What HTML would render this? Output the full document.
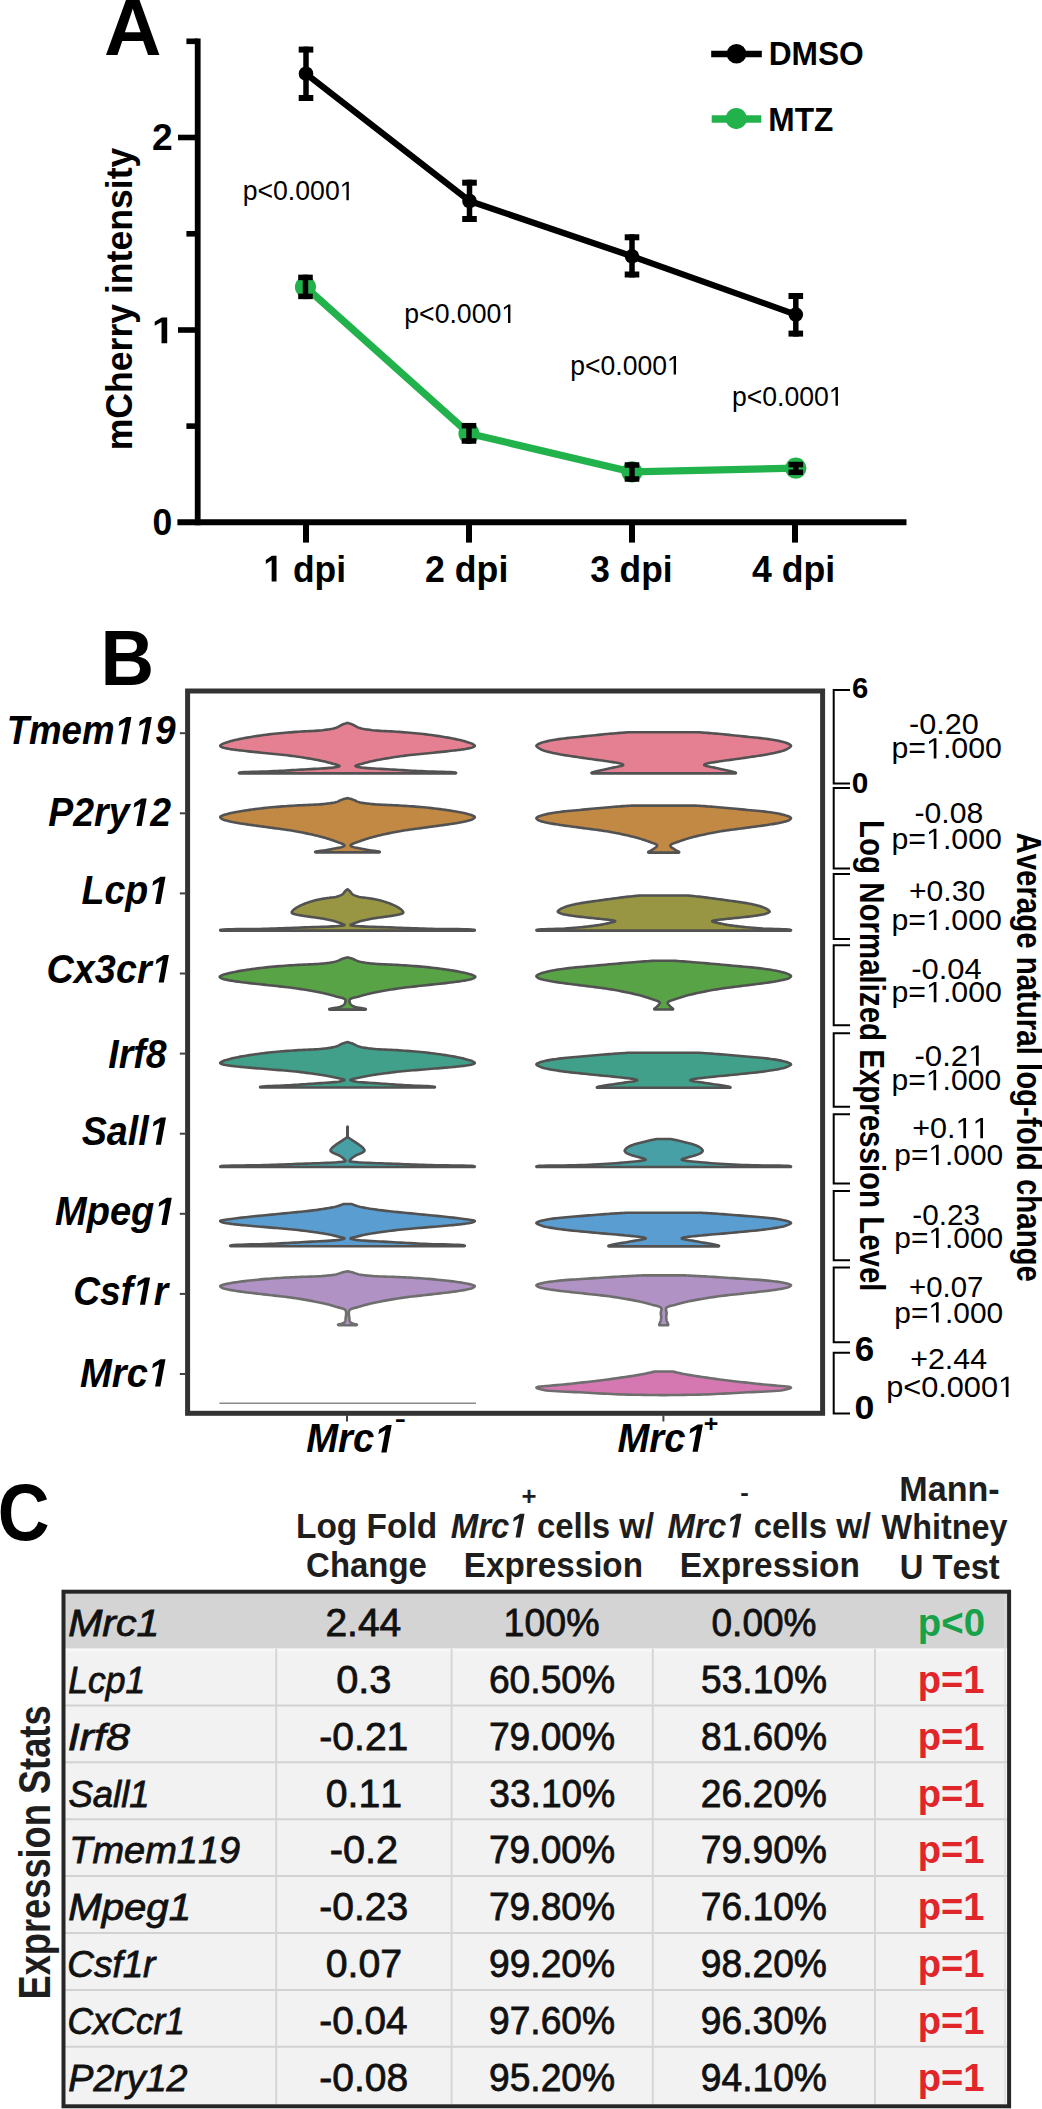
<!DOCTYPE html>
<html><head><meta charset="utf-8"><title>Figure</title>
<style>html,body{margin:0;padding:0;background:#fff;}svg{display:block;}
text{font-family:"Liberation Sans",sans-serif;font-kerning:none;}</style></head><body>
<svg width="1042" height="2109" viewBox="0 0 1042 2109">
<rect width="1042" height="2109" fill="#fff"/>

<text x="104.01" y="54.5" font-size="80" font-weight="bold" font-style="normal" fill="#000" textLength="57.48" lengthAdjust="spacingAndGlyphs" >A</text>
<line x1="197.7" y1="38.6" x2="197.7" y2="525.3" stroke="#000" stroke-width="5.8" stroke-linecap="butt"/>
<line x1="177.4" y1="522.3" x2="906.5" y2="522.3" stroke="#000" stroke-width="6" stroke-linecap="butt"/>
<line x1="186.4" y1="41.3" x2="197.7" y2="41.3" stroke="#000" stroke-width="5.6" stroke-linecap="butt"/>
<line x1="178" y1="137.5" x2="197.7" y2="137.5" stroke="#000" stroke-width="5.6" stroke-linecap="butt"/>
<line x1="186.4" y1="233.8" x2="197.7" y2="233.8" stroke="#000" stroke-width="5.6" stroke-linecap="butt"/>
<line x1="178" y1="330" x2="197.7" y2="330" stroke="#000" stroke-width="5.6" stroke-linecap="butt"/>
<line x1="186.4" y1="426.1" x2="197.7" y2="426.1" stroke="#000" stroke-width="5.6" stroke-linecap="butt"/>
<line x1="306" y1="522" x2="306" y2="542.6" stroke="#000" stroke-width="6" stroke-linecap="butt"/>
<line x1="469" y1="522" x2="469" y2="542.6" stroke="#000" stroke-width="6" stroke-linecap="butt"/>
<line x1="632" y1="522" x2="632" y2="542.6" stroke="#000" stroke-width="6" stroke-linecap="butt"/>
<line x1="795" y1="522" x2="795" y2="542.6" stroke="#000" stroke-width="6" stroke-linecap="butt"/>
<text x="151.99" y="150.4" font-size="37.5" font-weight="bold" font-style="normal" fill="#000" textLength="20.7" lengthAdjust="spacingAndGlyphs" >2</text>
<path d="M161.53 343.3 L161.53 321.88 L154.7 325.74 L154.7 321.69 L161.83 317.5 L167.2 317.5 L167.2 343.3Z" fill="#000"/>
<text x="151.87" y="343.3" font-size="37.5" font-weight="bold" font-style="normal" fill="#000" textLength="22.95" lengthAdjust="spacingAndGlyphs" > </text>
<text x="152.38" y="535.3" font-size="37.5" font-weight="bold" font-style="normal" fill="#000" textLength="19.75" lengthAdjust="spacingAndGlyphs" >0</text>
<path d="M271.65 581.6 L271.65 560.18 L265.8 564.04 L265.8 559.99 L271.91 555.8 L276.52 555.8 L276.52 581.6Z" fill="#000"/>
<text x="263.38" y="581.6" font-size="37.5" font-weight="bold" font-style="normal" fill="#000" textLength="82.61" lengthAdjust="spacingAndGlyphs" >  dpi</text>
<text x="425.05" y="581.6" font-size="37.5" font-weight="bold" font-style="normal" fill="#000" textLength="83.25" lengthAdjust="spacingAndGlyphs" >2 dpi</text>
<text x="590.2" y="581.6" font-size="37.5" font-weight="bold" font-style="normal" fill="#000" textLength="82.37" lengthAdjust="spacingAndGlyphs" >3 dpi</text>
<text x="752.06" y="581.6" font-size="37.5" font-weight="bold" font-style="normal" fill="#000" textLength="83.24" lengthAdjust="spacingAndGlyphs" >4 dpi</text>
<text transform="translate(131.7 450.32) rotate(-90)" font-size="37.3" font-weight="bold" font-style="normal" fill="#000" textLength="302.69" lengthAdjust="spacingAndGlyphs" >mCherry intensity</text>
<polyline points="306,73.7 469.5,201 632,256.3 795.8,314.6" fill="none" stroke="#000" stroke-width="6.2" stroke-linejoin="round"/>
<circle cx="306" cy="73.7" r="7.3" fill="#000"/>
<line x1="306" y1="46.6" x2="306" y2="101" stroke="#000" stroke-width="5.5" stroke-linecap="butt"/>
<line x1="298.7" y1="49.6" x2="313.3" y2="49.6" stroke="#000" stroke-width="6" stroke-linecap="butt"/>
<line x1="298.7" y1="98" x2="313.3" y2="98" stroke="#000" stroke-width="6" stroke-linecap="butt"/>
<circle cx="469.5" cy="201" r="7.3" fill="#000"/>
<line x1="469.5" y1="179.7" x2="469.5" y2="222" stroke="#000" stroke-width="5.5" stroke-linecap="butt"/>
<line x1="462.2" y1="182.7" x2="476.8" y2="182.7" stroke="#000" stroke-width="6" stroke-linecap="butt"/>
<line x1="462.2" y1="219" x2="476.8" y2="219" stroke="#000" stroke-width="6" stroke-linecap="butt"/>
<circle cx="632" cy="256.3" r="7.3" fill="#000"/>
<line x1="632" y1="234.3" x2="632" y2="277.5" stroke="#000" stroke-width="5.5" stroke-linecap="butt"/>
<line x1="624.7" y1="237.3" x2="639.3" y2="237.3" stroke="#000" stroke-width="6" stroke-linecap="butt"/>
<line x1="624.7" y1="274.5" x2="639.3" y2="274.5" stroke="#000" stroke-width="6" stroke-linecap="butt"/>
<circle cx="795.8" cy="314.6" r="7.3" fill="#000"/>
<line x1="795.8" y1="293" x2="795.8" y2="336.6" stroke="#000" stroke-width="5.5" stroke-linecap="butt"/>
<line x1="788.5" y1="296" x2="803.1" y2="296" stroke="#000" stroke-width="6" stroke-linecap="butt"/>
<line x1="788.5" y1="333.6" x2="803.1" y2="333.6" stroke="#000" stroke-width="6" stroke-linecap="butt"/>
<polyline points="305.5,287 469,433.5 632,471.9 795.8,468.2" fill="none" stroke="#22b24c" stroke-width="7.2" stroke-linejoin="round"/>
<circle cx="305.5" cy="287" r="10.6" fill="#22b24c"/>
<line x1="305.5" y1="274.7" x2="305.5" y2="299.1" stroke="#000" stroke-width="5.5" stroke-linecap="butt"/>
<line x1="298.2" y1="277.4" x2="312.8" y2="277.4" stroke="#000" stroke-width="5.5" stroke-linecap="butt"/>
<line x1="298.2" y1="296.4" x2="312.8" y2="296.4" stroke="#000" stroke-width="5.5" stroke-linecap="butt"/>
<circle cx="469" cy="433.5" r="10.6" fill="#22b24c"/>
<line x1="469" y1="423" x2="469" y2="443.7" stroke="#000" stroke-width="5.5" stroke-linecap="butt"/>
<line x1="461.7" y1="425.7" x2="476.3" y2="425.7" stroke="#000" stroke-width="5.5" stroke-linecap="butt"/>
<line x1="461.7" y1="441" x2="476.3" y2="441" stroke="#000" stroke-width="5.5" stroke-linecap="butt"/>
<circle cx="632" cy="471.9" r="10.6" fill="#22b24c"/>
<line x1="632" y1="462.3" x2="632" y2="481.7" stroke="#000" stroke-width="5.5" stroke-linecap="butt"/>
<line x1="624.7" y1="465" x2="639.3" y2="465" stroke="#000" stroke-width="5.5" stroke-linecap="butt"/>
<line x1="624.7" y1="479" x2="639.3" y2="479" stroke="#000" stroke-width="5.5" stroke-linecap="butt"/>
<circle cx="795.8" cy="468.2" r="10.6" fill="#22b24c"/>
<line x1="795.8" y1="461.9" x2="795.8" y2="475" stroke="#000" stroke-width="5.5" stroke-linecap="butt"/>
<line x1="788.5" y1="464.6" x2="803.1" y2="464.6" stroke="#000" stroke-width="5.5" stroke-linecap="butt"/>
<line x1="788.5" y1="472.3" x2="803.1" y2="472.3" stroke="#000" stroke-width="5.5" stroke-linecap="butt"/>
<line x1="711.2" y1="54" x2="761.8" y2="54" stroke="#000" stroke-width="6.4" stroke-linecap="butt"/>
<circle cx="736.5" cy="53.7" r="9.8" fill="#000"/>
<text x="768.66" y="65.4" font-size="33" font-weight="bold" font-style="normal" fill="#000" textLength="95.09" lengthAdjust="spacingAndGlyphs" >DMSO</text>
<line x1="711.7" y1="118.9" x2="761.3" y2="118.9" stroke="#22b24c" stroke-width="7.5" stroke-linecap="butt"/>
<circle cx="736.3" cy="118.6" r="10.6" fill="#22b24c"/>
<text x="768.36" y="130.7" font-size="33.5" font-weight="bold" font-style="normal" fill="#000" textLength="65.01" lengthAdjust="spacingAndGlyphs" >MTZ</text>
<path d="M346.44 200.3 L346.44 183.99 L342.3 186.98 L342.3 184.74 L346.64 181.72 L348.8 181.72 L348.8 200.3Z" fill="#000"/>
<text x="242.67" y="200.3" font-size="27" font-weight="normal" font-style="normal" fill="#000" textLength="111.88" lengthAdjust="spacingAndGlyphs" >p&lt;0.000 </text>
<path d="M508.04 323.1 L508.04 306.79 L503.9 309.78 L503.9 307.54 L508.24 304.52 L510.4 304.52 L510.4 323.1Z" fill="#000"/>
<text x="404.27" y="323.1" font-size="27" font-weight="normal" font-style="normal" fill="#000" textLength="111.88" lengthAdjust="spacingAndGlyphs" >p&lt;0.000 </text>
<path d="M673.65 374.6 L673.65 358.29 L669.53 361.28 L669.53 359.04 L673.85 356.02 L676 356.02 L676 374.6Z" fill="#000"/>
<text x="570.37" y="374.6" font-size="27" font-weight="normal" font-style="normal" fill="#000" textLength="111.34" lengthAdjust="spacingAndGlyphs" >p&lt;0.000 </text>
<path d="M835.55 405.7 L835.55 389.39 L831.41 392.38 L831.41 390.14 L835.74 387.12 L837.9 387.12 L837.9 405.7Z" fill="#000"/>
<text x="731.97" y="405.7" font-size="27" font-weight="normal" font-style="normal" fill="#000" textLength="111.66" lengthAdjust="spacingAndGlyphs" >p&lt;0.000 </text>
<text x="100.39" y="685.3" font-size="78" font-weight="bold" font-style="normal" fill="#000" textLength="53.65" lengthAdjust="spacingAndGlyphs" >B</text>
<rect x="187.6" y="691" width="635" height="722.3" fill="none" stroke="#333" stroke-width="5"/>
<line x1="179.8" y1="733.2" x2="186" y2="733.2" stroke="#444" stroke-width="2" stroke-linecap="butt"/>
<line x1="179.8" y1="813.3" x2="186" y2="813.3" stroke="#444" stroke-width="2" stroke-linecap="butt"/>
<line x1="179.8" y1="893.4" x2="186" y2="893.4" stroke="#444" stroke-width="2" stroke-linecap="butt"/>
<line x1="179.8" y1="973.5" x2="186" y2="973.5" stroke="#444" stroke-width="2" stroke-linecap="butt"/>
<line x1="179.8" y1="1053.6" x2="186" y2="1053.6" stroke="#444" stroke-width="2" stroke-linecap="butt"/>
<line x1="179.8" y1="1133.7" x2="186" y2="1133.7" stroke="#444" stroke-width="2" stroke-linecap="butt"/>
<line x1="179.8" y1="1213.8" x2="186" y2="1213.8" stroke="#444" stroke-width="2" stroke-linecap="butt"/>
<line x1="179.8" y1="1293.9" x2="186" y2="1293.9" stroke="#444" stroke-width="2" stroke-linecap="butt"/>
<line x1="179.8" y1="1374" x2="186" y2="1374" stroke="#444" stroke-width="2" stroke-linecap="butt"/>
<path d="M121.44 744.3 L125.45 721.91 L118.63 726.07 L119.47 721.37 L126.56 716.92 L131.39 716.92 L126.47 744.3Z" fill="#000"/>
<path d="M141.79 744.3 L145.8 721.91 L138.98 726.07 L139.82 721.37 L146.91 716.92 L151.75 716.92 L146.82 744.3Z" fill="#000"/>
<text x="6.63" y="744.3" font-size="39.8" font-weight="bold" font-style="italic" fill="#000" textLength="169.02" lengthAdjust="spacingAndGlyphs" >Tmem  9</text>
<path d="M136.5 825.9 L140.6 803.51 L133.63 807.67 L134.49 802.97 L141.74 798.52 L146.68 798.52 L141.65 825.9Z" fill="#000"/>
<text x="48.24" y="825.9" font-size="39.8" font-weight="bold" font-style="italic" fill="#000" textLength="122.93" lengthAdjust="spacingAndGlyphs" >P2ry 2</text>
<path d="M155.28 904.1 L159.39 881.71 L152.39 885.87 L153.25 881.17 L160.54 876.72 L165.5 876.72 L160.44 904.1Z" fill="#000"/>
<text x="81.44" y="904.1" font-size="39.8" font-weight="bold" font-style="italic" fill="#000" textLength="87.75" lengthAdjust="spacingAndGlyphs" >Lcp </text>
<path d="M158.64 982.5 L162.77 960.11 L155.74 964.27 L156.6 959.57 L163.92 955.12 L168.9 955.12 L163.82 982.5Z" fill="#000"/>
<text x="46.6" y="982.5" font-size="39.8" font-weight="bold" font-style="italic" fill="#000" textLength="126" lengthAdjust="spacingAndGlyphs" >Cx3cr </text>
<text x="108.34" y="1067.8" font-size="39.8" font-weight="bold" font-style="italic" fill="#000" textLength="58.26" lengthAdjust="spacingAndGlyphs" >Irf8</text>
<path d="M155.75 1144.8 L159.88 1122.41 L152.85 1126.57 L153.72 1121.87 L161.02 1117.42 L166 1117.42 L160.93 1144.8Z" fill="#000"/>
<text x="81.63" y="1144.8" font-size="39.8" font-weight="bold" font-style="italic" fill="#000" textLength="88.07" lengthAdjust="spacingAndGlyphs" >Sall </text>
<path d="M161.46 1225.1 L165.62 1202.71 L158.53 1206.87 L159.41 1202.17 L166.78 1197.72 L171.8 1197.72 L166.68 1225.1Z" fill="#000"/>
<text x="55.03" y="1225.1" font-size="39.8" font-weight="bold" font-style="italic" fill="#000" textLength="120.5" lengthAdjust="spacingAndGlyphs" >Mpeg </text>
<path d="M139.96 1304.8 L144.03 1282.41 L137.11 1286.57 L137.96 1281.87 L145.16 1277.42 L150.06 1277.42 L145.07 1304.8Z" fill="#000"/>
<text x="73.13" y="1304.8" font-size="39.8" font-weight="bold" font-style="italic" fill="#000" textLength="95.09" lengthAdjust="spacingAndGlyphs" >Csf r</text>
<path d="M155.1 1386.6 L159.29 1364.21 L152.17 1368.37 L153.05 1363.67 L160.45 1359.22 L165.5 1359.22 L160.36 1386.6Z" fill="#000"/>
<text x="79.93" y="1386.6" font-size="39.8" font-weight="bold" font-style="italic" fill="#000" textLength="89.32" lengthAdjust="spacingAndGlyphs" >Mrc </text>
<path d="M347.5 722.9 L347.59 722.93 L347.84 723 L348.22 723.11 L348.71 723.26 L349.27 723.43 L349.89 723.62 L350.53 723.83 L351.17 724.05 L351.78 724.27 L352.34 724.48 L352.96 724.75 L353.58 725.06 L354.21 725.4 L354.84 725.75 L355.48 726.11 L356.14 726.48 L356.83 726.83 L357.55 727.18 L358.3 727.49 L359.08 727.78 L360.2 728.12 L361.37 728.43 L362.58 728.71 L363.85 728.96 L365.16 729.2 L366.53 729.42 L367.94 729.62 L369.4 729.82 L370.9 730.01 L372.45 730.21 L374.75 730.45 L377.2 730.66 L379.79 730.84 L382.47 731 L385.23 731.14 L388.04 731.28 L390.87 731.42 L393.69 731.57 L396.47 731.73 L399.18 731.92 L401.87 732.13 L404.56 732.34 L407.25 732.54 L409.94 732.76 L412.63 732.98 L415.32 733.22 L418 733.47 L420.69 733.74 L423.37 734.03 L426.04 734.35 L428.76 734.69 L431.53 735.06 L434.33 735.46 L437.15 735.87 L439.94 736.29 L442.68 736.73 L445.35 737.17 L447.92 737.62 L450.36 738.06 L452.65 738.49 L454.2 738.8 L455.7 739.11 L457.15 739.42 L458.55 739.73 L459.91 740.04 L461.22 740.36 L462.49 740.67 L463.71 741 L464.89 741.32 L466.02 741.66 L466.82 741.9 L467.62 742.15 L468.4 742.39 L469.16 742.65 L469.89 742.9 L470.59 743.15 L471.24 743.41 L471.85 743.67 L472.4 743.93 L472.89 744.2 L473.16 744.35 L473.43 744.51 L473.7 744.68 L473.95 744.84 L474.18 745 L474.39 745.16 L474.56 745.33 L474.69 745.49 L474.77 745.64 L474.8 745.8 L474.77 745.95 L474.69 746.1 L474.57 746.24 L474.41 746.39 L474.22 746.54 L474 746.68 L473.77 746.82 L473.52 746.96 L473.27 747.09 L473.01 747.21 L472.54 747.42 L472.02 747.6 L471.44 747.77 L470.81 747.93 L470.15 748.08 L469.45 748.23 L468.72 748.37 L467.98 748.51 L467.22 748.65 L466.45 748.79 L465.37 748.99 L464.24 749.17 L463.07 749.35 L461.86 749.53 L460.61 749.7 L459.31 749.87 L457.97 750.04 L456.59 750.21 L455.16 750.39 L453.68 750.57 L451.5 750.82 L449.16 751.08 L446.7 751.35 L444.15 751.61 L441.53 751.88 L438.86 752.14 L436.17 752.41 L433.5 752.68 L430.86 752.95 L428.27 753.21 L425.72 753.48 L423.17 753.73 L420.62 753.98 L418.06 754.23 L415.51 754.49 L412.96 754.75 L410.4 755.02 L407.85 755.31 L405.29 755.61 L402.74 755.94 L400.14 756.3 L397.47 756.68 L394.76 757.08 L392.04 757.49 L389.35 757.91 L386.7 758.35 L384.12 758.79 L381.64 759.22 L379.29 759.66 L377.09 760.08 L375.63 760.38 L374.24 760.67 L372.89 760.97 L371.6 761.26 L370.34 761.55 L369.12 761.85 L367.93 762.15 L366.76 762.46 L365.6 762.77 L364.45 763.09 L363.4 763.37 L362.26 763.67 L361.07 763.98 L359.88 764.29 L358.74 764.6 L357.7 764.91 L356.81 765.21 L356.11 765.49 L355.66 765.76 L355.5 766 L355.58 766.17 L355.8 766.32 L356.14 766.47 L356.58 766.61 L357.12 766.75 L357.72 766.88 L358.38 767.01 L359.08 767.13 L359.8 767.26 L360.53 767.38 L362.51 767.66 L364.93 767.91 L367.71 768.14 L370.76 768.35 L374.02 768.55 L377.41 768.73 L380.85 768.91 L384.26 769.09 L387.58 769.26 L390.71 769.45 L393.72 769.64 L396.71 769.82 L399.69 770 L402.67 770.17 L405.65 770.34 L408.65 770.51 L411.66 770.68 L414.7 770.84 L417.78 771.01 L420.89 771.17 L424.6 771.34 L428.82 771.47 L433.35 771.58 L437.97 771.69 L442.48 771.81 L446.68 771.94 L450.34 772.11 L453.27 772.31 L455.26 772.57 L456.1 772.9 L456.11 772.95 L456.1 773.01 L456.07 773.08 L456.03 773.14 L455.98 773.21 L455.93 773.27 L455.88 773.32 L455.84 773.36 L455.81 773.39 L455.8 773.4 L452.77 773.4 L444.54 773.4 L432.41 773.4 L417.68 773.4 L401.65 773.4 L385.62 773.4 L370.89 773.4 L358.76 773.4 L350.53 773.4 L347.5 773.4 L344.47 773.4 L336.24 773.4 L324.11 773.4 L309.38 773.4 L293.35 773.4 L277.32 773.4 L262.59 773.4 L250.46 773.4 L242.23 773.4 L239.2 773.4 L239.19 773.39 L239.16 773.36 L239.12 773.32 L239.07 773.27 L239.02 773.21 L238.97 773.14 L238.93 773.08 L238.9 773.01 L238.89 772.95 L238.9 772.9 L239.74 772.57 L241.73 772.31 L244.66 772.11 L248.32 771.94 L252.52 771.81 L257.03 771.69 L261.65 771.58 L266.18 771.47 L270.4 771.34 L274.11 771.17 L277.22 771.01 L280.3 770.84 L283.34 770.68 L286.35 770.51 L289.35 770.34 L292.33 770.17 L295.31 770 L298.29 769.82 L301.28 769.64 L304.29 769.45 L307.42 769.26 L310.74 769.09 L314.15 768.91 L317.59 768.73 L320.98 768.55 L324.24 768.35 L327.29 768.14 L330.07 767.91 L332.49 767.66 L334.47 767.38 L335.2 767.26 L335.92 767.13 L336.62 767.01 L337.28 766.88 L337.88 766.75 L338.42 766.61 L338.86 766.47 L339.2 766.32 L339.42 766.17 L339.5 766 L339.34 765.76 L338.89 765.49 L338.19 765.21 L337.3 764.91 L336.26 764.6 L335.12 764.29 L333.93 763.98 L332.74 763.67 L331.6 763.37 L330.55 763.09 L329.4 762.77 L328.24 762.46 L327.07 762.15 L325.88 761.85 L324.66 761.55 L323.4 761.26 L322.11 760.97 L320.76 760.67 L319.37 760.38 L317.91 760.08 L315.71 759.66 L313.36 759.22 L310.88 758.79 L308.3 758.35 L305.65 757.91 L302.96 757.49 L300.24 757.08 L297.53 756.68 L294.86 756.3 L292.26 755.94 L289.71 755.61 L287.15 755.31 L284.6 755.02 L282.04 754.75 L279.49 754.49 L276.94 754.23 L274.38 753.98 L271.83 753.73 L269.28 753.48 L266.73 753.21 L264.14 752.95 L261.5 752.68 L258.83 752.41 L256.14 752.14 L253.47 751.88 L250.85 751.61 L248.3 751.35 L245.84 751.08 L243.5 750.82 L241.32 750.57 L239.84 750.39 L238.41 750.21 L237.03 750.04 L235.69 749.87 L234.39 749.7 L233.14 749.53 L231.93 749.35 L230.76 749.17 L229.63 748.99 L228.55 748.79 L227.78 748.65 L227.02 748.51 L226.28 748.37 L225.55 748.23 L224.85 748.08 L224.19 747.93 L223.56 747.77 L222.98 747.6 L222.46 747.42 L221.99 747.21 L221.73 747.09 L221.48 746.96 L221.23 746.82 L221 746.68 L220.78 746.54 L220.59 746.39 L220.43 746.24 L220.31 746.1 L220.23 745.95 L220.2 745.8 L220.23 745.64 L220.31 745.49 L220.44 745.33 L220.61 745.16 L220.82 745 L221.05 744.84 L221.3 744.68 L221.57 744.51 L221.84 744.35 L222.11 744.2 L222.6 743.93 L223.15 743.67 L223.76 743.41 L224.41 743.15 L225.11 742.9 L225.84 742.65 L226.6 742.39 L227.38 742.15 L228.18 741.9 L228.98 741.66 L230.11 741.32 L231.29 741 L232.51 740.67 L233.78 740.36 L235.09 740.04 L236.45 739.73 L237.85 739.42 L239.3 739.11 L240.8 738.8 L242.35 738.49 L244.64 738.06 L247.08 737.62 L249.65 737.17 L252.32 736.73 L255.06 736.29 L257.85 735.87 L260.67 735.46 L263.47 735.06 L266.24 734.69 L268.96 734.35 L271.63 734.03 L274.31 733.74 L277 733.47 L279.68 733.22 L282.37 732.98 L285.06 732.76 L287.75 732.54 L290.44 732.34 L293.13 732.13 L295.82 731.92 L298.53 731.73 L301.31 731.57 L304.13 731.42 L306.96 731.28 L309.77 731.14 L312.53 731 L315.21 730.84 L317.8 730.66 L320.25 730.45 L322.55 730.21 L324.1 730.01 L325.6 729.82 L327.06 729.62 L328.47 729.42 L329.84 729.2 L331.15 728.96 L332.42 728.71 L333.63 728.43 L334.8 728.12 L335.92 727.78 L336.7 727.49 L337.45 727.18 L338.17 726.83 L338.86 726.48 L339.52 726.11 L340.16 725.75 L340.79 725.4 L341.42 725.06 L342.04 724.75 L342.66 724.48 L343.22 724.27 L343.83 724.05 L344.47 723.83 L345.11 723.62 L345.73 723.43 L346.29 723.26 L346.78 723.11 L347.16 723 L347.41 722.93 L347.5 722.9Z" fill="#e58092" stroke="#525252" stroke-width="2.6" stroke-linejoin="round"/>
<path d="M663.7 732.3 L664.7 732.3 L667.4 732.3 L671.39 732.3 L676.23 732.3 L681.5 732.3 L686.77 732.3 L691.61 732.3 L695.6 732.3 L698.3 732.3 L699.3 732.3 L699.6 732.32 L700.42 732.38 L701.69 732.48 L703.33 732.6 L705.23 732.75 L707.32 732.91 L709.51 733.08 L711.71 733.26 L713.84 733.44 L715.81 733.61 L718.27 733.83 L720.86 734.08 L723.55 734.33 L726.31 734.6 L729.13 734.88 L731.98 735.17 L734.84 735.46 L737.7 735.76 L740.53 736.06 L743.32 736.35 L746.11 736.64 L748.97 736.93 L751.87 737.22 L754.78 737.51 L757.67 737.81 L760.51 738.11 L763.28 738.43 L765.94 738.75 L768.46 739.1 L770.83 739.45 L772.43 739.72 L773.99 739.99 L775.51 740.26 L776.99 740.54 L778.41 740.82 L779.78 741.12 L781.08 741.42 L782.32 741.73 L783.49 742.04 L784.58 742.37 L785.26 742.59 L785.93 742.82 L786.59 743.06 L787.21 743.29 L787.81 743.53 L788.36 743.78 L788.88 744.02 L789.34 744.26 L789.74 744.49 L790.08 744.72 L790.23 744.83 L790.37 744.94 L790.5 745.04 L790.62 745.15 L790.73 745.25 L790.82 745.36 L790.9 745.46 L790.95 745.57 L790.99 745.68 L791 745.8 L790.98 745.94 L790.93 746.09 L790.84 746.24 L790.72 746.39 L790.59 746.55 L790.43 746.7 L790.26 746.86 L790.08 747.02 L789.89 747.18 L789.7 747.34 L789.37 747.6 L789 747.87 L788.6 748.14 L788.16 748.41 L787.69 748.69 L787.19 748.97 L786.67 749.24 L786.11 749.51 L785.53 749.77 L784.92 750.02 L783.89 750.42 L782.77 750.8 L781.57 751.17 L780.29 751.53 L778.95 751.88 L777.54 752.23 L776.09 752.57 L774.58 752.9 L773.04 753.24 L771.47 753.58 L769.16 754.04 L766.69 754.5 L764.09 754.95 L761.39 755.39 L758.61 755.82 L755.78 756.24 L752.93 756.66 L750.1 757.08 L747.3 757.49 L744.56 757.9 L741.83 758.3 L739.01 758.69 L736.16 759.08 L733.29 759.46 L730.45 759.84 L727.65 760.21 L724.95 760.58 L722.36 760.94 L719.91 761.3 L717.65 761.66 L716.19 761.9 L714.71 762.12 L713.26 762.35 L711.84 762.57 L710.49 762.79 L709.22 763.01 L708.07 763.24 L707.05 763.48 L706.19 763.72 L705.5 763.98 L705.29 764.08 L705.09 764.18 L704.89 764.28 L704.71 764.38 L704.56 764.48 L704.42 764.58 L704.31 764.69 L704.24 764.79 L704.2 764.9 L704.2 765 L704.5 765.31 L705.21 765.62 L706.26 765.94 L707.6 766.26 L709.14 766.59 L710.82 766.92 L712.56 767.27 L714.31 767.61 L715.98 767.96 L717.51 768.32 L719.39 768.76 L721.55 769.23 L723.89 769.73 L726.3 770.24 L728.66 770.75 L730.87 771.24 L732.8 771.72 L734.36 772.16 L735.43 772.56 L735.9 772.9 L735.91 772.96 L735.9 773.02 L735.87 773.09 L735.83 773.15 L735.78 773.22 L735.73 773.28 L735.68 773.33 L735.64 773.37 L735.61 773.39 L735.6 773.4 L733.59 773.4 L728.12 773.4 L720.07 773.4 L710.29 773.4 L699.65 773.4 L689.01 773.4 L679.23 773.4 L671.18 773.4 L665.71 773.4 L663.7 773.4 L661.69 773.4 L656.22 773.4 L648.17 773.4 L638.39 773.4 L627.75 773.4 L617.11 773.4 L607.33 773.4 L599.28 773.4 L593.81 773.4 L591.8 773.4 L591.79 773.39 L591.76 773.37 L591.72 773.33 L591.67 773.28 L591.62 773.22 L591.57 773.15 L591.53 773.09 L591.5 773.02 L591.49 772.96 L591.5 772.9 L591.97 772.56 L593.04 772.16 L594.6 771.72 L596.53 771.24 L598.74 770.75 L601.1 770.24 L603.51 769.73 L605.85 769.23 L608.01 768.76 L609.89 768.32 L611.42 767.96 L613.09 767.61 L614.84 767.27 L616.58 766.92 L618.26 766.59 L619.8 766.26 L621.14 765.94 L622.19 765.62 L622.9 765.31 L623.2 765 L623.2 764.9 L623.16 764.79 L623.09 764.69 L622.98 764.58 L622.84 764.48 L622.69 764.38 L622.51 764.28 L622.31 764.18 L622.11 764.08 L621.9 763.98 L621.21 763.72 L620.35 763.48 L619.33 763.24 L618.18 763.01 L616.91 762.79 L615.56 762.57 L614.14 762.35 L612.69 762.12 L611.21 761.9 L609.75 761.66 L607.49 761.3 L605.04 760.94 L602.45 760.58 L599.75 760.21 L596.95 759.84 L594.11 759.46 L591.24 759.08 L588.39 758.69 L585.57 758.3 L582.84 757.9 L580.1 757.49 L577.3 757.08 L574.47 756.66 L571.62 756.24 L568.79 755.82 L566.01 755.39 L563.31 754.95 L560.71 754.5 L558.24 754.04 L555.93 753.58 L554.36 753.24 L552.82 752.9 L551.31 752.57 L549.86 752.23 L548.45 751.88 L547.11 751.53 L545.83 751.17 L544.63 750.8 L543.51 750.42 L542.48 750.02 L541.87 749.77 L541.29 749.51 L540.73 749.24 L540.21 748.97 L539.71 748.69 L539.24 748.41 L538.8 748.14 L538.4 747.87 L538.03 747.6 L537.7 747.34 L537.51 747.18 L537.32 747.02 L537.14 746.86 L536.97 746.7 L536.81 746.55 L536.68 746.39 L536.56 746.24 L536.47 746.09 L536.42 745.94 L536.4 745.8 L536.41 745.68 L536.45 745.57 L536.5 745.46 L536.58 745.36 L536.67 745.25 L536.78 745.15 L536.9 745.04 L537.03 744.94 L537.17 744.83 L537.32 744.72 L537.66 744.49 L538.06 744.26 L538.52 744.02 L539.04 743.78 L539.59 743.53 L540.19 743.29 L540.81 743.06 L541.47 742.82 L542.14 742.59 L542.82 742.37 L543.91 742.04 L545.08 741.73 L546.32 741.42 L547.62 741.12 L548.99 740.82 L550.41 740.54 L551.89 740.26 L553.41 739.99 L554.97 739.72 L556.57 739.45 L558.94 739.1 L561.46 738.75 L564.12 738.43 L566.89 738.11 L569.73 737.81 L572.62 737.51 L575.53 737.22 L578.43 736.93 L581.29 736.64 L584.08 736.35 L586.87 736.06 L589.7 735.76 L592.56 735.46 L595.42 735.17 L598.27 734.88 L601.09 734.6 L603.85 734.33 L606.54 734.08 L609.13 733.83 L611.59 733.61 L613.56 733.44 L615.69 733.26 L617.89 733.08 L620.08 732.91 L622.17 732.75 L624.07 732.6 L625.71 732.48 L626.98 732.38 L627.8 732.32 L628.1 732.3 L629.1 732.3 L631.8 732.3 L635.79 732.3 L640.63 732.3 L645.9 732.3 L651.17 732.3 L656.01 732.3 L660 732.3 L662.7 732.3 L663.7 732.3Z" fill="#e58092" stroke="#525252" stroke-width="2.6" stroke-linejoin="round"/>
<path d="M347.5 798.1 L347.59 798.12 L347.84 798.18 L348.22 798.27 L348.71 798.39 L349.27 798.54 L349.89 798.69 L350.53 798.87 L351.17 799.05 L351.78 799.23 L352.34 799.4 L352.96 799.63 L353.58 799.88 L354.21 800.16 L354.84 800.45 L355.49 800.75 L356.15 801.05 L356.84 801.35 L357.55 801.63 L358.3 801.89 L359.08 802.13 L360.21 802.41 L361.37 802.67 L362.59 802.9 L363.86 803.11 L365.17 803.3 L366.54 803.48 L367.95 803.65 L369.4 803.81 L370.9 803.97 L372.45 804.13 L374.75 804.33 L377.2 804.51 L379.79 804.66 L382.47 804.79 L385.24 804.9 L388.04 805.02 L390.87 805.13 L393.69 805.25 L396.47 805.39 L399.18 805.55 L401.87 805.72 L404.56 805.89 L407.24 806.06 L409.93 806.24 L412.62 806.42 L415.31 806.62 L418 806.83 L420.68 807.05 L423.37 807.29 L426.04 807.55 L428.75 807.83 L431.52 808.14 L434.33 808.46 L437.14 808.8 L439.93 809.15 L442.68 809.51 L445.35 809.88 L447.92 810.25 L450.36 810.61 L452.65 810.97 L454.2 811.22 L455.69 811.48 L457.14 811.73 L458.55 811.99 L459.91 812.25 L461.22 812.51 L462.49 812.77 L463.71 813.03 L464.88 813.3 L466.02 813.58 L466.82 813.78 L467.62 813.98 L468.4 814.19 L469.15 814.39 L469.88 814.6 L470.58 814.81 L471.23 815.02 L471.84 815.24 L472.4 815.45 L472.89 815.68 L473.16 815.8 L473.42 815.93 L473.68 816.05 L473.93 816.18 L474.15 816.3 L474.36 816.43 L474.53 816.56 L474.66 816.7 L474.76 816.85 L474.8 817 L474.79 817.18 L474.72 817.37 L474.6 817.57 L474.43 817.77 L474.23 817.98 L474.01 818.2 L473.75 818.4 L473.49 818.61 L473.21 818.8 L472.94 818.98 L472.45 819.25 L471.91 819.51 L471.31 819.75 L470.66 819.97 L469.96 820.18 L469.23 820.39 L468.48 820.59 L467.7 820.79 L466.9 820.99 L466.1 821.19 L464.97 821.46 L463.8 821.72 L462.59 821.98 L461.33 822.22 L460.02 822.46 L458.67 822.7 L457.27 822.94 L455.83 823.18 L454.34 823.43 L452.8 823.68 L450.52 824.04 L448.09 824.4 L445.53 824.77 L442.87 825.14 L440.13 825.51 L437.35 825.88 L434.56 826.26 L431.77 826.63 L429.01 827.01 L426.32 827.39 L423.66 827.76 L421 828.11 L418.34 828.46 L415.68 828.81 L413.02 829.17 L410.36 829.54 L407.7 829.92 L405.04 830.32 L402.38 830.75 L399.72 831.21 L397 831.71 L394.22 832.24 L391.4 832.8 L388.57 833.38 L385.75 833.98 L382.99 834.58 L380.31 835.2 L377.73 835.81 L375.28 836.41 L373 837.01 L371.47 837.42 L370.01 837.84 L368.61 838.25 L367.26 838.66 L365.95 839.08 L364.68 839.49 L363.44 839.92 L362.22 840.34 L361.02 840.78 L359.82 841.22 L358.74 841.62 L357.56 842.04 L356.34 842.46 L355.12 842.9 L353.95 843.33 L352.88 843.76 L351.95 844.17 L351.21 844.57 L350.71 844.95 L350.5 845.3 L350.5 845.44 L350.55 845.59 L350.64 845.73 L350.76 845.86 L350.91 845.99 L351.09 846.12 L351.29 846.25 L351.51 846.38 L351.73 846.5 L351.96 846.62 L352.53 846.87 L353.23 847.09 L354.03 847.31 L354.92 847.51 L355.88 847.7 L356.87 847.89 L357.87 848.07 L358.87 848.24 L359.84 848.42 L360.75 848.6 L361.63 848.78 L362.5 848.95 L363.37 849.12 L364.24 849.29 L365.1 849.45 L365.98 849.61 L366.86 849.77 L367.74 849.93 L368.64 850.09 L369.55 850.25 L370.62 850.42 L371.84 850.58 L373.15 850.73 L374.48 850.88 L375.79 851.04 L377 851.19 L378.07 851.35 L378.93 851.52 L379.53 851.71 L379.8 851.9 L379.81 851.95 L379.8 852.01 L379.77 852.08 L379.73 852.14 L379.68 852.21 L379.63 852.27 L379.58 852.32 L379.54 852.36 L379.51 852.39 L379.5 852.4 L378.6 852.4 L376.17 852.4 L372.59 852.4 L368.24 852.4 L363.5 852.4 L358.76 852.4 L354.41 852.4 L350.83 852.4 L348.4 852.4 L347.5 852.4 L346.6 852.4 L344.17 852.4 L340.59 852.4 L336.24 852.4 L331.5 852.4 L326.76 852.4 L322.41 852.4 L318.83 852.4 L316.4 852.4 L315.5 852.4 L315.49 852.39 L315.46 852.36 L315.42 852.32 L315.37 852.27 L315.32 852.21 L315.27 852.14 L315.23 852.08 L315.2 852.01 L315.19 851.95 L315.2 851.9 L315.47 851.71 L316.07 851.52 L316.93 851.35 L318 851.19 L319.21 851.04 L320.52 850.88 L321.85 850.73 L323.16 850.58 L324.38 850.42 L325.45 850.25 L326.36 850.09 L327.26 849.93 L328.14 849.77 L329.02 849.61 L329.9 849.45 L330.76 849.29 L331.63 849.12 L332.5 848.95 L333.37 848.78 L334.25 848.6 L335.16 848.42 L336.13 848.24 L337.13 848.07 L338.13 847.89 L339.12 847.7 L340.08 847.51 L340.97 847.31 L341.77 847.09 L342.47 846.87 L343.04 846.62 L343.27 846.5 L343.49 846.38 L343.71 846.25 L343.91 846.12 L344.09 845.99 L344.24 845.86 L344.36 845.73 L344.45 845.59 L344.5 845.44 L344.5 845.3 L344.29 844.95 L343.79 844.57 L343.05 844.17 L342.12 843.76 L341.05 843.33 L339.88 842.9 L338.66 842.46 L337.44 842.04 L336.26 841.62 L335.18 841.22 L333.98 840.78 L332.78 840.34 L331.56 839.92 L330.32 839.49 L329.05 839.08 L327.74 838.66 L326.39 838.25 L324.99 837.84 L323.53 837.42 L322 837.01 L319.72 836.41 L317.27 835.81 L314.69 835.2 L312.01 834.58 L309.25 833.98 L306.43 833.38 L303.6 832.8 L300.78 832.24 L298 831.71 L295.28 831.21 L292.62 830.75 L289.96 830.32 L287.3 829.92 L284.64 829.54 L281.98 829.17 L279.32 828.81 L276.66 828.46 L274 828.11 L271.34 827.76 L268.68 827.39 L265.99 827.01 L263.23 826.63 L260.44 826.26 L257.65 825.88 L254.87 825.51 L252.13 825.14 L249.47 824.77 L246.91 824.4 L244.48 824.04 L242.2 823.68 L240.66 823.43 L239.17 823.18 L237.73 822.94 L236.33 822.7 L234.98 822.46 L233.67 822.22 L232.41 821.98 L231.2 821.72 L230.03 821.46 L228.9 821.19 L228.1 820.99 L227.3 820.79 L226.52 820.59 L225.77 820.39 L225.04 820.18 L224.34 819.97 L223.69 819.75 L223.09 819.51 L222.55 819.25 L222.06 818.98 L221.79 818.8 L221.51 818.61 L221.25 818.4 L220.99 818.2 L220.77 817.98 L220.57 817.77 L220.4 817.57 L220.28 817.37 L220.21 817.18 L220.2 817 L220.24 816.85 L220.34 816.7 L220.47 816.56 L220.64 816.43 L220.85 816.3 L221.07 816.18 L221.32 816.05 L221.58 815.93 L221.84 815.8 L222.11 815.68 L222.6 815.45 L223.16 815.24 L223.77 815.02 L224.42 814.81 L225.12 814.6 L225.85 814.39 L226.6 814.19 L227.38 813.98 L228.18 813.78 L228.98 813.58 L230.12 813.3 L231.29 813.03 L232.51 812.77 L233.78 812.51 L235.09 812.25 L236.45 811.99 L237.86 811.73 L239.31 811.48 L240.8 811.22 L242.35 810.97 L244.64 810.61 L247.08 810.25 L249.65 809.88 L252.32 809.51 L255.07 809.15 L257.86 808.8 L260.67 808.46 L263.48 808.14 L266.25 807.83 L268.96 807.55 L271.63 807.29 L274.32 807.05 L277 806.83 L279.69 806.62 L282.38 806.42 L285.07 806.24 L287.76 806.06 L290.44 805.89 L293.13 805.72 L295.82 805.55 L298.53 805.39 L301.31 805.25 L304.13 805.13 L306.96 805.02 L309.76 804.9 L312.53 804.79 L315.21 804.66 L317.8 804.51 L320.25 804.33 L322.55 804.13 L324.1 803.97 L325.6 803.81 L327.05 803.65 L328.46 803.48 L329.83 803.3 L331.14 803.11 L332.41 802.9 L333.63 802.67 L334.79 802.41 L335.92 802.13 L336.7 801.89 L337.45 801.63 L338.16 801.35 L338.85 801.05 L339.51 800.75 L340.16 800.45 L340.79 800.16 L341.42 799.88 L342.04 799.63 L342.66 799.4 L343.22 799.23 L343.83 799.05 L344.47 798.87 L345.11 798.69 L345.73 798.54 L346.29 798.39 L346.78 798.27 L347.16 798.18 L347.41 798.12 L347.5 798.1Z" fill="#c18944" stroke="#525252" stroke-width="2.6" stroke-linejoin="round"/>
<path d="M663.7 805.6 L664.6 805.6 L667.05 805.6 L670.66 805.6 L675.03 805.6 L679.8 805.6 L684.57 805.6 L688.94 805.6 L692.55 805.6 L695 805.6 L695.9 805.6 L696.21 805.62 L697.06 805.68 L698.38 805.77 L700.07 805.88 L702.05 806.02 L704.22 806.17 L706.49 806.33 L708.77 806.5 L710.98 806.66 L713.02 806.82 L715.58 807.03 L718.26 807.26 L721.05 807.5 L723.91 807.75 L726.83 808.01 L729.79 808.28 L732.76 808.55 L735.73 808.83 L738.66 809.11 L741.55 809.38 L744.45 809.65 L747.41 809.92 L750.42 810.19 L753.44 810.46 L756.43 810.74 L759.38 811.02 L762.25 811.32 L765.01 811.62 L767.63 811.94 L770.08 812.28 L771.74 812.52 L773.36 812.77 L774.94 813.03 L776.46 813.29 L777.94 813.55 L779.36 813.83 L780.71 814.11 L781.99 814.4 L783.21 814.69 L784.34 815 L785.05 815.21 L785.74 815.42 L786.42 815.64 L787.07 815.86 L787.68 816.08 L788.26 816.31 L788.79 816.53 L789.27 816.75 L789.69 816.98 L790.05 817.19 L790.2 817.29 L790.34 817.39 L790.48 817.49 L790.6 817.58 L790.72 817.68 L790.81 817.78 L790.89 817.88 L790.95 817.98 L790.99 818.09 L791 818.2 L790.97 818.37 L790.9 818.55 L790.78 818.74 L790.62 818.94 L790.43 819.14 L790.21 819.34 L789.97 819.54 L789.72 819.73 L789.46 819.92 L789.19 820.09 L788.72 820.35 L788.19 820.59 L787.61 820.82 L786.98 821.03 L786.31 821.24 L785.6 821.43 L784.86 821.63 L784.11 821.81 L783.34 822 L782.56 822.2 L781.47 822.46 L780.33 822.71 L779.15 822.95 L777.93 823.18 L776.66 823.41 L775.35 823.64 L773.99 823.87 L772.59 824.1 L771.14 824.33 L769.65 824.57 L767.44 824.92 L765.08 825.26 L762.6 825.61 L760.02 825.97 L757.36 826.32 L754.67 826.68 L751.95 827.03 L749.25 827.39 L746.58 827.75 L743.97 828.11 L741.39 828.46 L738.81 828.8 L736.22 829.14 L733.64 829.47 L731.06 829.81 L728.48 830.16 L725.89 830.52 L723.31 830.91 L720.73 831.31 L718.16 831.75 L715.52 832.23 L712.82 832.74 L710.08 833.27 L707.33 833.83 L704.61 834.4 L701.93 834.98 L699.32 835.56 L696.82 836.14 L694.44 836.72 L692.23 837.29 L690.75 837.69 L689.33 838.08 L687.97 838.47 L686.66 838.87 L685.39 839.26 L684.16 839.66 L682.96 840.06 L681.77 840.47 L680.6 840.89 L679.45 841.31 L678.4 841.69 L677.29 842.07 L676.14 842.46 L674.99 842.86 L673.89 843.26 L672.87 843.66 L671.98 844.05 L671.24 844.44 L670.7 844.83 L670.4 845.2 L670.35 845.34 L670.33 845.48 L670.34 845.62 L670.37 845.76 L670.42 845.89 L670.49 846.03 L670.56 846.17 L670.65 846.31 L670.74 846.44 L670.84 846.58 L671.01 846.79 L671.21 847 L671.45 847.21 L671.72 847.42 L672.01 847.64 L672.3 847.85 L672.61 848.05 L672.91 848.26 L673.2 848.46 L673.48 848.65 L673.74 848.83 L674 849.01 L674.26 849.19 L674.52 849.36 L674.78 849.54 L675.04 849.7 L675.31 849.87 L675.57 850.04 L675.84 850.21 L676.12 850.38 L676.44 850.55 L676.8 850.74 L677.19 850.92 L677.59 851.11 L677.98 851.29 L678.34 851.47 L678.67 851.64 L678.93 851.8 L679.11 851.96 L679.2 852.1 L679.2 852.16 L679.19 852.22 L679.16 852.29 L679.12 852.36 L679.07 852.42 L679.02 852.48 L678.97 852.53 L678.94 852.57 L678.91 852.59 L678.9 852.6 L678.47 852.6 L677.32 852.6 L675.62 852.6 L673.55 852.6 L671.3 852.6 L669.05 852.6 L666.98 852.6 L665.28 852.6 L664.13 852.6 L663.7 852.6 L663.27 852.6 L662.12 852.6 L660.42 852.6 L658.35 852.6 L656.1 852.6 L653.85 852.6 L651.78 852.6 L650.08 852.6 L648.93 852.6 L648.5 852.6 L648.49 852.59 L648.46 852.57 L648.43 852.53 L648.38 852.48 L648.33 852.42 L648.28 852.36 L648.24 852.29 L648.21 852.22 L648.2 852.16 L648.2 852.1 L648.29 851.96 L648.47 851.8 L648.73 851.64 L649.06 851.47 L649.42 851.29 L649.81 851.11 L650.21 850.92 L650.6 850.74 L650.96 850.55 L651.28 850.38 L651.56 850.21 L651.83 850.04 L652.09 849.87 L652.36 849.7 L652.62 849.54 L652.88 849.36 L653.14 849.19 L653.4 849.01 L653.66 848.83 L653.92 848.65 L654.2 848.46 L654.49 848.26 L654.79 848.05 L655.1 847.85 L655.39 847.64 L655.68 847.42 L655.95 847.21 L656.19 847 L656.39 846.79 L656.56 846.58 L656.66 846.44 L656.75 846.31 L656.84 846.17 L656.91 846.03 L656.98 845.89 L657.03 845.76 L657.06 845.62 L657.07 845.48 L657.05 845.34 L657 845.2 L656.7 844.83 L656.16 844.44 L655.42 844.05 L654.53 843.66 L653.51 843.26 L652.41 842.86 L651.26 842.46 L650.11 842.07 L649 841.69 L647.96 841.31 L646.8 840.89 L645.63 840.47 L644.44 840.06 L643.24 839.66 L642.01 839.26 L640.74 838.87 L639.43 838.47 L638.07 838.08 L636.65 837.69 L635.17 837.29 L632.96 836.72 L630.58 836.14 L628.08 835.56 L625.47 834.98 L622.79 834.4 L620.07 833.83 L617.32 833.27 L614.58 832.74 L611.88 832.23 L609.24 831.75 L606.67 831.31 L604.09 830.91 L601.51 830.52 L598.92 830.16 L596.34 829.81 L593.76 829.47 L591.18 829.14 L588.59 828.8 L586.01 828.46 L583.43 828.11 L580.82 827.75 L578.15 827.39 L575.45 827.03 L572.73 826.68 L570.04 826.32 L567.38 825.97 L564.8 825.61 L562.32 825.26 L559.96 824.92 L557.75 824.57 L556.26 824.33 L554.81 824.1 L553.41 823.87 L552.05 823.64 L550.74 823.41 L549.47 823.18 L548.25 822.95 L547.07 822.71 L545.93 822.46 L544.84 822.2 L544.06 822 L543.29 821.81 L542.54 821.63 L541.8 821.43 L541.09 821.24 L540.42 821.03 L539.79 820.82 L539.21 820.59 L538.68 820.35 L538.21 820.09 L537.94 819.92 L537.68 819.73 L537.43 819.54 L537.19 819.34 L536.97 819.14 L536.78 818.94 L536.62 818.74 L536.5 818.55 L536.43 818.37 L536.4 818.2 L536.41 818.09 L536.45 817.98 L536.51 817.88 L536.59 817.78 L536.68 817.68 L536.8 817.58 L536.92 817.49 L537.06 817.39 L537.2 817.29 L537.35 817.19 L537.71 816.98 L538.13 816.75 L538.61 816.53 L539.14 816.31 L539.72 816.08 L540.33 815.86 L540.98 815.64 L541.66 815.42 L542.35 815.21 L543.06 815 L544.19 814.69 L545.41 814.4 L546.69 814.11 L548.04 813.83 L549.46 813.55 L550.94 813.29 L552.46 813.03 L554.04 812.77 L555.66 812.52 L557.32 812.28 L559.77 811.94 L562.39 811.62 L565.15 811.32 L568.02 811.02 L570.97 810.74 L573.96 810.46 L576.98 810.19 L579.99 809.92 L582.95 809.65 L585.85 809.38 L588.74 809.11 L591.67 808.83 L594.64 808.55 L597.61 808.28 L600.57 808.01 L603.49 807.75 L606.35 807.5 L609.14 807.26 L611.82 807.03 L614.38 806.82 L616.42 806.66 L618.63 806.5 L620.91 806.33 L623.18 806.17 L625.35 806.02 L627.33 805.88 L629.02 805.77 L630.34 805.68 L631.19 805.62 L631.5 805.6 L632.4 805.6 L634.85 805.6 L638.46 805.6 L642.83 805.6 L647.6 805.6 L652.37 805.6 L656.74 805.6 L660.35 805.6 L662.8 805.6 L663.7 805.6Z" fill="#c18944" stroke="#525252" stroke-width="2.6" stroke-linejoin="round"/>
<path d="M347.5 889.3 L347.54 889.33 L347.65 889.4 L347.82 889.52 L348.04 889.67 L348.29 889.85 L348.56 890.05 L348.84 890.26 L349.12 890.47 L349.38 890.69 L349.62 890.9 L349.9 891.18 L350.17 891.5 L350.43 891.83 L350.7 892.19 L350.97 892.55 L351.26 892.92 L351.55 893.28 L351.87 893.63 L352.21 893.95 L352.58 894.24 L353.05 894.56 L353.55 894.86 L354.08 895.13 L354.63 895.39 L355.2 895.64 L355.81 895.87 L356.43 896.09 L357.08 896.3 L357.75 896.5 L358.44 896.7 L359.43 896.95 L360.51 897.16 L361.64 897.34 L362.82 897.5 L364.03 897.64 L365.26 897.78 L366.51 897.93 L367.74 898.08 L368.97 898.25 L370.15 898.44 L371.33 898.65 L372.52 898.86 L373.7 899.07 L374.88 899.29 L376.06 899.52 L377.24 899.76 L378.42 900.02 L379.59 900.29 L380.76 900.58 L381.93 900.9 L383.13 901.25 L384.35 901.63 L385.58 902.03 L386.82 902.45 L388.04 902.88 L389.25 903.32 L390.41 903.77 L391.53 904.22 L392.6 904.66 L393.59 905.1 L394.28 905.41 L394.94 905.73 L395.59 906.05 L396.2 906.36 L396.8 906.68 L397.37 907 L397.93 907.33 L398.46 907.65 L398.96 907.97 L399.45 908.3 L399.81 908.56 L400.17 908.81 L400.52 909.07 L400.85 909.33 L401.17 909.6 L401.47 909.86 L401.76 910.12 L402.02 910.37 L402.25 910.63 L402.46 910.88 L402.6 911.05 L402.73 911.22 L402.85 911.39 L402.97 911.56 L403.07 911.73 L403.16 911.9 L403.23 912.06 L403.28 912.21 L403.3 912.36 L403.3 912.5 L403.28 912.6 L403.24 912.7 L403.18 912.8 L403.11 912.89 L403.03 912.97 L402.94 913.06 L402.84 913.14 L402.74 913.22 L402.62 913.3 L402.51 913.38 L402.3 913.49 L402.07 913.61 L401.82 913.71 L401.54 913.81 L401.25 913.91 L400.94 914 L400.61 914.09 L400.28 914.17 L399.95 914.26 L399.6 914.35 L399.13 914.47 L398.63 914.59 L398.11 914.7 L397.58 914.81 L397.02 914.91 L396.45 915.02 L395.85 915.12 L395.24 915.23 L394.61 915.34 L393.95 915.45 L392.99 915.61 L391.95 915.77 L390.87 915.93 L389.74 916.1 L388.57 916.26 L387.39 916.42 L386.21 916.59 L385.02 916.76 L383.85 916.92 L382.71 917.09 L381.58 917.25 L380.45 917.41 L379.32 917.56 L378.19 917.72 L377.06 917.88 L375.93 918.04 L374.8 918.21 L373.67 918.38 L372.54 918.57 L371.41 918.77 L370.25 919 L369.07 919.23 L367.87 919.48 L366.67 919.73 L365.47 920 L364.3 920.27 L363.16 920.54 L362.07 920.81 L361.03 921.07 L360.06 921.34 L359.41 921.52 L358.79 921.7 L358.19 921.89 L357.62 922.07 L357.06 922.25 L356.52 922.44 L356 922.62 L355.48 922.81 L354.97 923 L354.46 923.2 L354 923.38 L353.49 923.56 L352.95 923.75 L352.42 923.95 L351.91 924.14 L351.45 924.33 L351.05 924.52 L350.75 924.69 L350.56 924.85 L350.5 925 L350.61 925.15 L350.89 925.29 L351.32 925.41 L351.87 925.51 L352.53 925.6 L353.27 925.69 L354.08 925.77 L354.94 925.85 L355.82 925.93 L356.71 926.02 L359.17 926.23 L362.16 926.42 L365.59 926.59 L369.37 926.74 L373.4 926.89 L377.58 927.02 L381.83 927.15 L386.04 927.28 L390.13 927.41 L394 927.55 L397.72 927.69 L401.42 927.82 L405.1 927.95 L408.78 928.08 L412.47 928.21 L416.17 928.33 L419.9 928.46 L423.65 928.58 L427.45 928.7 L431.3 928.83 L435.88 928.93 L441.1 929 L446.7 929.04 L452.42 929.08 L458 929.13 L463.19 929.2 L467.72 929.32 L471.33 929.5 L473.78 929.75 L474.8 930.1 L474.81 930.15 L474.8 930.21 L474.77 930.28 L474.73 930.34 L474.68 930.41 L474.63 930.47 L474.58 930.52 L474.54 930.56 L474.51 930.59 L474.5 930.6 L470.94 930.6 L461.29 930.6 L447.07 930.6 L429.8 930.6 L411 930.6 L392.2 930.6 L374.93 930.6 L360.71 930.6 L351.06 930.6 L347.5 930.6 L343.94 930.6 L334.29 930.6 L320.07 930.6 L302.8 930.6 L284 930.6 L265.2 930.6 L247.93 930.6 L233.71 930.6 L224.06 930.6 L220.5 930.6 L220.49 930.59 L220.46 930.56 L220.42 930.52 L220.37 930.47 L220.32 930.41 L220.27 930.34 L220.23 930.28 L220.2 930.21 L220.19 930.15 L220.2 930.1 L221.22 929.75 L223.67 929.5 L227.28 929.32 L231.81 929.2 L237 929.13 L242.58 929.08 L248.3 929.04 L253.9 929 L259.12 928.93 L263.7 928.83 L267.55 928.7 L271.35 928.58 L275.1 928.46 L278.83 928.33 L282.53 928.21 L286.22 928.08 L289.9 927.95 L293.58 927.82 L297.28 927.69 L301 927.55 L304.87 927.41 L308.96 927.28 L313.17 927.15 L317.42 927.02 L321.6 926.89 L325.63 926.74 L329.41 926.59 L332.84 926.42 L335.83 926.23 L338.29 926.02 L339.18 925.93 L340.06 925.85 L340.92 925.77 L341.73 925.69 L342.47 925.6 L343.13 925.51 L343.68 925.41 L344.11 925.29 L344.39 925.15 L344.5 925 L344.44 924.85 L344.25 924.69 L343.95 924.52 L343.55 924.33 L343.09 924.14 L342.58 923.95 L342.05 923.75 L341.51 923.56 L341 923.38 L340.54 923.2 L340.03 923 L339.52 922.81 L339 922.62 L338.48 922.44 L337.94 922.25 L337.38 922.07 L336.81 921.89 L336.21 921.7 L335.59 921.52 L334.94 921.34 L333.97 921.07 L332.93 920.81 L331.84 920.54 L330.7 920.27 L329.53 920 L328.33 919.73 L327.13 919.48 L325.93 919.23 L324.75 919 L323.59 918.77 L322.46 918.57 L321.33 918.38 L320.2 918.21 L319.07 918.04 L317.94 917.88 L316.81 917.72 L315.68 917.56 L314.55 917.41 L313.42 917.25 L312.29 917.09 L311.15 916.92 L309.98 916.76 L308.79 916.59 L307.61 916.42 L306.43 916.26 L305.26 916.1 L304.13 915.93 L303.05 915.77 L302.01 915.61 L301.05 915.45 L300.39 915.34 L299.76 915.23 L299.15 915.12 L298.55 915.02 L297.98 914.91 L297.42 914.81 L296.89 914.7 L296.37 914.59 L295.87 914.47 L295.4 914.35 L295.05 914.26 L294.72 914.17 L294.39 914.09 L294.06 914 L293.75 913.91 L293.46 913.81 L293.18 913.71 L292.93 913.61 L292.7 913.49 L292.49 913.38 L292.38 913.3 L292.26 913.22 L292.16 913.14 L292.06 913.06 L291.97 912.97 L291.89 912.89 L291.82 912.8 L291.76 912.7 L291.72 912.6 L291.7 912.5 L291.7 912.36 L291.72 912.21 L291.77 912.06 L291.84 911.9 L291.93 911.73 L292.03 911.56 L292.15 911.39 L292.27 911.22 L292.4 911.05 L292.54 910.88 L292.75 910.63 L292.98 910.37 L293.24 910.12 L293.53 909.86 L293.83 909.6 L294.15 909.33 L294.48 909.07 L294.83 908.81 L295.19 908.56 L295.55 908.3 L296.04 907.97 L296.54 907.65 L297.07 907.33 L297.63 907 L298.2 906.68 L298.8 906.36 L299.41 906.05 L300.06 905.73 L300.72 905.41 L301.41 905.1 L302.4 904.66 L303.47 904.22 L304.59 903.77 L305.75 903.32 L306.96 902.88 L308.18 902.45 L309.42 902.03 L310.65 901.63 L311.87 901.25 L313.07 900.9 L314.24 900.58 L315.41 900.29 L316.58 900.02 L317.76 899.76 L318.94 899.52 L320.12 899.29 L321.3 899.07 L322.48 898.86 L323.67 898.65 L324.85 898.44 L326.03 898.25 L327.26 898.08 L328.49 897.93 L329.74 897.78 L330.97 897.64 L332.18 897.5 L333.36 897.34 L334.49 897.16 L335.57 896.95 L336.56 896.7 L337.25 896.5 L337.92 896.3 L338.57 896.09 L339.19 895.87 L339.8 895.64 L340.37 895.39 L340.92 895.13 L341.45 894.86 L341.95 894.56 L342.42 894.24 L342.79 893.95 L343.13 893.63 L343.45 893.28 L343.74 892.92 L344.03 892.55 L344.3 892.19 L344.57 891.83 L344.83 891.5 L345.1 891.18 L345.38 890.9 L345.62 890.69 L345.88 890.47 L346.16 890.26 L346.44 890.05 L346.71 889.85 L346.96 889.67 L347.18 889.52 L347.35 889.4 L347.46 889.33 L347.5 889.3Z" fill="#989642" stroke="#525252" stroke-width="2.6" stroke-linejoin="round"/>
<path d="M663.7 895.5 L664.38 895.5 L666.22 895.5 L668.93 895.5 L672.22 895.5 L675.8 895.5 L679.38 895.5 L682.67 895.5 L685.38 895.5 L687.22 895.5 L687.9 895.5 L688.16 895.53 L688.9 895.6 L690.03 895.71 L691.49 895.86 L693.18 896.04 L695.05 896.23 L697 896.44 L698.96 896.65 L700.85 896.87 L702.61 897.07 L704.81 897.34 L707.11 897.63 L709.5 897.94 L711.97 898.26 L714.48 898.6 L717.02 898.95 L719.57 899.3 L722.12 899.65 L724.64 900.01 L727.12 900.36 L729.61 900.71 L732.16 901.06 L734.74 901.4 L737.34 901.75 L739.91 902.11 L742.45 902.48 L744.91 902.86 L747.28 903.25 L749.53 903.66 L751.63 904.09 L753.06 904.4 L754.46 904.73 L755.81 905.06 L757.13 905.39 L758.4 905.74 L759.62 906.09 L760.78 906.45 L761.88 906.82 L762.91 907.2 L763.88 907.59 L764.5 907.85 L765.1 908.13 L765.68 908.42 L766.24 908.71 L766.77 909 L767.26 909.29 L767.72 909.58 L768.12 909.86 L768.48 910.14 L768.78 910.4 L768.92 910.54 L769.05 910.68 L769.18 910.82 L769.29 910.95 L769.39 911.09 L769.47 911.22 L769.54 911.35 L769.58 911.47 L769.6 911.59 L769.6 911.7 L769.58 911.79 L769.53 911.87 L769.47 911.95 L769.39 912.03 L769.3 912.1 L769.2 912.17 L769.1 912.24 L768.98 912.31 L768.86 912.39 L768.74 912.46 L768.52 912.59 L768.27 912.73 L768 912.86 L767.71 913 L767.4 913.14 L767.07 913.27 L766.73 913.4 L766.36 913.54 L765.98 913.66 L765.58 913.79 L764.9 913.99 L764.15 914.18 L763.35 914.36 L762.51 914.54 L761.62 914.71 L760.69 914.88 L759.73 915.05 L758.74 915.22 L757.72 915.38 L756.69 915.55 L755.16 915.78 L753.52 916 L751.8 916.23 L750.01 916.44 L748.18 916.66 L746.31 916.87 L744.42 917.08 L742.55 917.28 L740.7 917.48 L738.89 917.69 L737.08 917.88 L735.22 918.08 L733.33 918.27 L731.44 918.46 L729.56 918.64 L727.71 918.83 L725.92 919.01 L724.21 919.19 L722.59 919.37 L721.1 919.55 L720.13 919.66 L719.15 919.78 L718.19 919.88 L717.26 919.99 L716.36 920.1 L715.53 920.21 L714.76 920.32 L714.09 920.44 L713.52 920.56 L713.06 920.7 L712.93 920.74 L712.79 920.79 L712.67 920.84 L712.55 920.89 L712.45 920.93 L712.36 920.98 L712.29 921.03 L712.23 921.09 L712.2 921.14 L712.2 921.2 L712.5 921.47 L713.29 921.79 L714.49 922.15 L716.01 922.55 L717.8 922.97 L719.77 923.39 L721.85 923.81 L723.95 924.22 L726.02 924.6 L727.96 924.94 L730.66 925.37 L733.56 925.78 L736.6 926.16 L739.77 926.52 L743.03 926.86 L746.34 927.19 L749.67 927.49 L753 927.78 L756.28 928.06 L759.48 928.32 L762.9 928.55 L766.73 928.72 L770.8 928.87 L774.93 928.99 L778.95 929.1 L782.66 929.22 L785.91 929.37 L788.5 929.56 L790.25 929.79 L791 930.1 L791.01 930.15 L791 930.21 L790.97 930.28 L790.93 930.34 L790.88 930.41 L790.83 930.47 L790.78 930.52 L790.74 930.56 L790.71 930.59 L790.7 930.6 L787.14 930.6 L777.49 930.6 L763.27 930.6 L746 930.6 L727.2 930.6 L708.4 930.6 L691.13 930.6 L676.91 930.6 L667.26 930.6 L663.7 930.6 L660.14 930.6 L650.49 930.6 L636.27 930.6 L619 930.6 L600.2 930.6 L581.4 930.6 L564.13 930.6 L549.91 930.6 L540.26 930.6 L536.7 930.6 L536.69 930.59 L536.66 930.56 L536.62 930.52 L536.57 930.47 L536.52 930.41 L536.47 930.34 L536.43 930.28 L536.4 930.21 L536.39 930.15 L536.4 930.1 L537.15 929.79 L538.9 929.56 L541.49 929.37 L544.74 929.22 L548.45 929.1 L552.47 928.99 L556.6 928.87 L560.67 928.72 L564.5 928.55 L567.92 928.32 L571.12 928.06 L574.4 927.78 L577.73 927.49 L581.06 927.19 L584.37 926.86 L587.63 926.52 L590.8 926.16 L593.84 925.78 L596.74 925.37 L599.44 924.94 L601.38 924.6 L603.45 924.22 L605.55 923.81 L607.63 923.39 L609.6 922.97 L611.39 922.55 L612.91 922.15 L614.11 921.79 L614.9 921.47 L615.2 921.2 L615.2 921.14 L615.17 921.09 L615.11 921.03 L615.04 920.98 L614.95 920.93 L614.85 920.89 L614.73 920.84 L614.61 920.79 L614.47 920.74 L614.34 920.7 L613.88 920.56 L613.31 920.44 L612.64 920.32 L611.87 920.21 L611.04 920.1 L610.14 919.99 L609.21 919.88 L608.25 919.78 L607.27 919.66 L606.3 919.55 L604.81 919.37 L603.19 919.19 L601.48 919.01 L599.69 918.83 L597.84 918.64 L595.96 918.46 L594.07 918.27 L592.18 918.08 L590.32 917.88 L588.51 917.69 L586.7 917.48 L584.85 917.28 L582.98 917.08 L581.09 916.87 L579.22 916.66 L577.39 916.44 L575.6 916.23 L573.88 916 L572.24 915.78 L570.72 915.55 L569.68 915.38 L568.66 915.22 L567.67 915.05 L566.71 914.88 L565.78 914.71 L564.89 914.54 L564.05 914.36 L563.25 914.18 L562.5 913.99 L561.82 913.79 L561.42 913.66 L561.04 913.54 L560.67 913.4 L560.33 913.27 L560 913.14 L559.69 913 L559.4 912.86 L559.13 912.73 L558.88 912.59 L558.66 912.46 L558.54 912.39 L558.42 912.31 L558.3 912.24 L558.2 912.17 L558.1 912.1 L558.01 912.03 L557.93 911.95 L557.87 911.87 L557.82 911.79 L557.8 911.7 L557.8 911.59 L557.82 911.47 L557.86 911.35 L557.93 911.22 L558.01 911.09 L558.11 910.95 L558.22 910.82 L558.35 910.68 L558.48 910.54 L558.62 910.4 L558.92 910.14 L559.28 909.86 L559.68 909.58 L560.14 909.29 L560.63 909 L561.16 908.71 L561.72 908.42 L562.3 908.13 L562.9 907.85 L563.52 907.59 L564.49 907.2 L565.52 906.82 L566.62 906.45 L567.78 906.09 L569 905.74 L570.27 905.39 L571.59 905.06 L572.94 904.73 L574.34 904.4 L575.77 904.09 L577.87 903.66 L580.12 903.25 L582.49 902.86 L584.95 902.48 L587.49 902.11 L590.06 901.75 L592.66 901.4 L595.24 901.06 L597.79 900.71 L600.28 900.36 L602.76 900.01 L605.28 899.65 L607.83 899.3 L610.38 898.95 L612.92 898.6 L615.43 898.26 L617.9 897.94 L620.29 897.63 L622.59 897.34 L624.79 897.07 L626.55 896.87 L628.44 896.65 L630.4 896.44 L632.35 896.23 L634.22 896.04 L635.91 895.86 L637.37 895.71 L638.5 895.6 L639.24 895.53 L639.5 895.5 L640.18 895.5 L642.02 895.5 L644.73 895.5 L648.02 895.5 L651.6 895.5 L655.18 895.5 L658.47 895.5 L661.18 895.5 L663.02 895.5 L663.7 895.5Z" fill="#989642" stroke="#525252" stroke-width="2.6" stroke-linejoin="round"/>
<path d="M347.5 957.4 L347.59 957.42 L347.84 957.48 L348.22 957.58 L348.71 957.7 L349.28 957.85 L349.9 958.01 L350.54 958.19 L351.19 958.37 L351.8 958.56 L352.36 958.74 L352.98 958.97 L353.61 959.23 L354.23 959.52 L354.87 959.82 L355.52 960.12 L356.18 960.43 L356.87 960.73 L357.59 961.02 L358.34 961.29 L359.13 961.53 L360.25 961.82 L361.43 962.09 L362.65 962.32 L363.92 962.54 L365.24 962.74 L366.61 962.92 L368.03 963.1 L369.49 963.26 L370.99 963.43 L372.55 963.59 L374.86 963.8 L377.32 963.98 L379.92 964.13 L382.61 964.26 L385.38 964.38 L388.2 964.5 L391.04 964.62 L393.87 964.74 L396.66 964.88 L399.39 965.04 L402.08 965.22 L404.78 965.39 L407.48 965.57 L410.18 965.75 L412.88 965.94 L415.58 966.14 L418.28 966.36 L420.97 966.59 L423.66 966.83 L426.35 967.1 L429.07 967.39 L431.85 967.7 L434.67 968.04 L437.49 968.39 L440.3 968.75 L443.05 969.12 L445.73 969.49 L448.31 969.87 L450.77 970.24 L453.06 970.61 L454.61 970.87 L456.12 971.13 L457.58 971.39 L458.99 971.66 L460.35 971.92 L461.67 972.19 L462.94 972.46 L464.16 972.73 L465.35 973.01 L466.48 973.29 L467.29 973.5 L468.09 973.7 L468.87 973.91 L469.63 974.12 L470.36 974.34 L471.06 974.55 L471.72 974.77 L472.33 974.99 L472.89 975.21 L473.38 975.44 L473.65 975.57 L473.92 975.7 L474.18 975.84 L474.43 975.97 L474.66 976.1 L474.87 976.24 L475.04 976.37 L475.18 976.51 L475.26 976.66 L475.3 976.8 L475.28 976.95 L475.2 977.11 L475.07 977.28 L474.9 977.45 L474.7 977.61 L474.47 977.78 L474.22 977.95 L473.96 978.11 L473.69 978.26 L473.42 978.4 L472.92 978.63 L472.37 978.84 L471.76 979.03 L471.1 979.22 L470.4 979.39 L469.67 979.55 L468.9 979.71 L468.12 979.87 L467.32 980.03 L466.51 980.19 L465.37 980.41 L464.18 980.62 L462.95 980.83 L461.68 981.03 L460.36 981.22 L458.99 981.42 L457.58 981.61 L456.13 981.8 L454.62 982 L453.07 982.2 L450.76 982.5 L448.31 982.79 L445.72 983.09 L443.03 983.39 L440.27 983.69 L437.46 983.99 L434.63 984.29 L431.82 984.6 L429.03 984.9 L426.32 985.2 L423.63 985.5 L420.94 985.79 L418.26 986.08 L415.57 986.36 L412.88 986.65 L410.19 986.94 L407.5 987.25 L404.81 987.58 L402.12 987.92 L399.44 988.3 L396.69 988.7 L393.88 989.13 L391.03 989.58 L388.17 990.05 L385.33 990.53 L382.54 991.03 L379.83 991.52 L377.22 992.02 L374.74 992.51 L372.43 992.99 L370.9 993.33 L369.42 993.66 L368.01 993.99 L366.64 994.33 L365.32 994.66 L364.04 995 L362.78 995.34 L361.55 995.69 L360.33 996.04 L359.12 996.4 L358.05 996.7 L356.92 996.98 L355.76 997.25 L354.61 997.51 L353.5 997.79 L352.46 998.09 L351.53 998.42 L350.73 998.79 L350.11 999.21 L349.7 999.7 L349.54 1000.06 L349.46 1000.47 L349.44 1000.9 L349.49 1001.35 L349.58 1001.81 L349.71 1002.27 L349.88 1002.72 L350.07 1003.16 L350.28 1003.56 L350.5 1003.93 L350.76 1004.29 L351.06 1004.62 L351.39 1004.94 L351.75 1005.23 L352.15 1005.51 L352.57 1005.78 L353.03 1006.03 L353.5 1006.28 L354.01 1006.52 L354.53 1006.75 L355.5 1007.08 L356.72 1007.38 L358.1 1007.64 L359.58 1007.87 L361.06 1008.09 L362.48 1008.29 L363.74 1008.49 L364.76 1008.68 L365.48 1008.88 L365.8 1009.1 L365.81 1009.15 L365.8 1009.22 L365.77 1009.28 L365.73 1009.35 L365.68 1009.41 L365.63 1009.47 L365.58 1009.52 L365.54 1009.56 L365.51 1009.59 L365.5 1009.6 L365 1009.6 L363.63 1009.6 L361.61 1009.6 L359.16 1009.6 L356.5 1009.6 L353.84 1009.6 L351.39 1009.6 L349.37 1009.6 L348 1009.6 L347.5 1009.6 L347 1009.6 L345.63 1009.6 L343.61 1009.6 L341.16 1009.6 L338.5 1009.6 L335.84 1009.6 L333.39 1009.6 L331.37 1009.6 L330 1009.6 L329.5 1009.6 L329.49 1009.59 L329.46 1009.56 L329.42 1009.52 L329.37 1009.47 L329.32 1009.41 L329.27 1009.35 L329.23 1009.28 L329.2 1009.22 L329.19 1009.15 L329.2 1009.1 L329.52 1008.88 L330.24 1008.68 L331.26 1008.49 L332.52 1008.29 L333.94 1008.09 L335.42 1007.87 L336.9 1007.64 L338.28 1007.38 L339.5 1007.08 L340.47 1006.75 L340.99 1006.52 L341.5 1006.28 L341.97 1006.03 L342.43 1005.78 L342.85 1005.51 L343.25 1005.23 L343.61 1004.94 L343.94 1004.62 L344.24 1004.29 L344.5 1003.93 L344.72 1003.56 L344.93 1003.16 L345.12 1002.72 L345.29 1002.27 L345.42 1001.81 L345.51 1001.35 L345.56 1000.9 L345.54 1000.47 L345.46 1000.06 L345.3 999.7 L344.89 999.21 L344.27 998.79 L343.47 998.42 L342.54 998.09 L341.5 997.79 L340.39 997.51 L339.24 997.25 L338.08 996.98 L336.95 996.7 L335.88 996.4 L334.67 996.04 L333.45 995.69 L332.22 995.34 L330.96 995 L329.68 994.66 L328.36 994.33 L326.99 993.99 L325.58 993.66 L324.1 993.33 L322.57 992.99 L320.26 992.51 L317.78 992.02 L315.17 991.52 L312.46 991.03 L309.67 990.53 L306.83 990.05 L303.97 989.58 L301.12 989.13 L298.31 988.7 L295.56 988.3 L292.88 987.92 L290.19 987.58 L287.5 987.25 L284.81 986.94 L282.12 986.65 L279.43 986.36 L276.74 986.08 L274.06 985.79 L271.37 985.5 L268.68 985.2 L265.97 984.9 L263.18 984.6 L260.37 984.29 L257.54 983.99 L254.73 983.69 L251.97 983.39 L249.28 983.09 L246.69 982.79 L244.24 982.5 L241.93 982.2 L240.38 982 L238.87 981.8 L237.42 981.61 L236.01 981.42 L234.64 981.22 L233.32 981.03 L232.05 980.83 L230.82 980.62 L229.63 980.41 L228.49 980.19 L227.68 980.03 L226.88 979.87 L226.1 979.71 L225.33 979.55 L224.6 979.39 L223.9 979.22 L223.24 979.03 L222.63 978.84 L222.08 978.63 L221.58 978.4 L221.31 978.26 L221.04 978.11 L220.78 977.95 L220.53 977.78 L220.3 977.61 L220.1 977.45 L219.93 977.28 L219.8 977.11 L219.72 976.95 L219.7 976.8 L219.74 976.66 L219.82 976.51 L219.96 976.37 L220.13 976.24 L220.34 976.1 L220.57 975.97 L220.82 975.84 L221.08 975.7 L221.35 975.57 L221.62 975.44 L222.11 975.21 L222.67 974.99 L223.28 974.77 L223.94 974.55 L224.64 974.34 L225.37 974.12 L226.13 973.91 L226.91 973.7 L227.71 973.5 L228.52 973.29 L229.65 973.01 L230.84 972.73 L232.06 972.46 L233.33 972.19 L234.65 971.92 L236.01 971.66 L237.42 971.39 L238.88 971.13 L240.39 970.87 L241.94 970.61 L244.23 970.24 L246.69 969.87 L249.27 969.49 L251.95 969.12 L254.7 968.75 L257.51 968.39 L260.33 968.04 L263.15 967.7 L265.93 967.39 L268.65 967.1 L271.34 966.83 L274.03 966.59 L276.72 966.36 L279.42 966.14 L282.12 965.94 L284.82 965.75 L287.52 965.57 L290.22 965.39 L292.92 965.22 L295.61 965.04 L298.34 964.88 L301.13 964.74 L303.96 964.62 L306.8 964.5 L309.62 964.38 L312.39 964.26 L315.08 964.13 L317.68 963.98 L320.14 963.8 L322.45 963.59 L324.01 963.43 L325.51 963.26 L326.97 963.1 L328.39 962.92 L329.76 962.74 L331.08 962.54 L332.35 962.32 L333.57 962.09 L334.75 961.82 L335.87 961.53 L336.66 961.29 L337.41 961.02 L338.13 960.73 L338.82 960.43 L339.48 960.12 L340.13 959.82 L340.77 959.52 L341.39 959.23 L342.02 958.97 L342.64 958.74 L343.2 958.56 L343.81 958.37 L344.46 958.19 L345.1 958.01 L345.72 957.85 L346.29 957.7 L346.78 957.58 L347.16 957.48 L347.41 957.42 L347.5 957.4Z" fill="#58a346" stroke="#525252" stroke-width="2.6" stroke-linejoin="round"/>
<path d="M663.7 960.7 L663.94 960.7 L664.61 960.7 L665.58 960.7 L666.76 960.7 L668.05 960.7 L669.34 960.7 L670.52 960.7 L671.49 960.7 L672.16 960.7 L672.4 960.7 L672.78 960.72 L673.85 960.8 L675.5 960.9 L677.61 961.05 L680.07 961.21 L682.77 961.4 L685.6 961.6 L688.45 961.8 L691.2 962.01 L693.75 962.2 L696.94 962.46 L700.29 962.74 L703.76 963.03 L707.33 963.34 L710.98 963.67 L714.66 964 L718.37 964.33 L722.07 964.67 L725.73 965.01 L729.33 965.35 L732.94 965.68 L736.64 966.01 L740.39 966.35 L744.15 966.68 L747.89 967.02 L751.57 967.37 L755.14 967.73 L758.58 968.11 L761.85 968.5 L764.91 968.92 L766.98 969.22 L769 969.53 L770.97 969.84 L772.87 970.16 L774.71 970.49 L776.48 970.82 L778.17 971.16 L779.77 971.52 L781.28 971.89 L782.7 972.26 L783.58 972.52 L784.44 972.78 L785.29 973.05 L786.1 973.32 L786.86 973.59 L787.59 973.87 L788.25 974.15 L788.85 974.42 L789.37 974.69 L789.81 974.96 L790 975.08 L790.18 975.21 L790.35 975.33 L790.51 975.45 L790.65 975.57 L790.77 975.69 L790.87 975.81 L790.94 975.94 L790.99 976.07 L791 976.2 L790.97 976.37 L790.89 976.55 L790.77 976.74 L790.61 976.93 L790.41 977.12 L790.19 977.32 L789.95 977.51 L789.69 977.69 L789.42 977.87 L789.15 978.03 L788.67 978.29 L788.13 978.53 L787.53 978.75 L786.89 978.95 L786.2 979.15 L785.48 979.34 L784.72 979.53 L783.95 979.71 L783.16 979.89 L782.37 980.08 L781.25 980.33 L780.09 980.57 L778.88 980.81 L777.63 981.04 L776.34 981.26 L775 981.48 L773.61 981.7 L772.18 981.92 L770.7 982.15 L769.18 982.38 L766.91 982.72 L764.5 983.05 L761.96 983.39 L759.32 983.74 L756.61 984.08 L753.85 984.42 L751.08 984.77 L748.31 985.12 L745.58 985.47 L742.91 985.82 L740.28 986.16 L737.64 986.49 L735 986.81 L732.36 987.14 L729.72 987.47 L727.08 987.8 L724.44 988.16 L721.8 988.53 L719.16 988.93 L716.53 989.35 L713.83 989.82 L711.07 990.31 L708.27 990.83 L705.46 991.36 L702.67 991.92 L699.93 992.48 L697.27 993.04 L694.71 993.61 L692.28 994.17 L690.02 994.72 L688.51 995.11 L687.06 995.49 L685.67 995.87 L684.33 996.25 L683.03 996.64 L681.77 997.02 L680.54 997.41 L679.33 997.81 L678.13 998.21 L676.95 998.63 L675.88 998.99 L674.75 999.36 L673.58 999.74 L672.42 1000.12 L671.3 1000.51 L670.26 1000.89 L669.34 1001.27 L668.59 1001.66 L668.03 1002.03 L667.7 1002.4 L667.64 1002.53 L667.62 1002.66 L667.61 1002.8 L667.63 1002.93 L667.66 1003.06 L667.71 1003.19 L667.77 1003.32 L667.84 1003.45 L667.9 1003.58 L667.97 1003.72 L668.07 1003.91 L668.2 1004.11 L668.35 1004.31 L668.51 1004.51 L668.68 1004.71 L668.87 1004.92 L669.05 1005.12 L669.24 1005.32 L669.42 1005.51 L669.59 1005.7 L669.75 1005.87 L669.91 1006.05 L670.06 1006.21 L670.22 1006.38 L670.38 1006.54 L670.54 1006.71 L670.71 1006.87 L670.87 1007.03 L671.04 1007.19 L671.21 1007.35 L671.41 1007.52 L671.63 1007.7 L671.87 1007.88 L672.11 1008.05 L672.35 1008.23 L672.58 1008.4 L672.78 1008.57 L672.94 1008.72 L673.05 1008.87 L673.1 1009 L673.1 1009.06 L673.08 1009.13 L673.05 1009.2 L673.01 1009.26 L672.96 1009.32 L672.91 1009.38 L672.87 1009.43 L672.83 1009.47 L672.81 1009.49 L672.8 1009.5 L672.54 1009.5 L671.85 1009.5 L670.83 1009.5 L669.6 1009.5 L668.25 1009.5 L666.9 1009.5 L665.67 1009.5 L664.65 1009.5 L663.96 1009.5 L663.7 1009.5 L663.44 1009.5 L662.75 1009.5 L661.73 1009.5 L660.5 1009.5 L659.15 1009.5 L657.8 1009.5 L656.57 1009.5 L655.55 1009.5 L654.86 1009.5 L654.6 1009.5 L654.59 1009.49 L654.57 1009.47 L654.53 1009.43 L654.49 1009.38 L654.44 1009.32 L654.39 1009.26 L654.35 1009.2 L654.32 1009.13 L654.3 1009.06 L654.3 1009 L654.35 1008.87 L654.46 1008.72 L654.62 1008.57 L654.82 1008.4 L655.05 1008.23 L655.29 1008.05 L655.53 1007.88 L655.77 1007.7 L655.99 1007.52 L656.19 1007.35 L656.36 1007.19 L656.53 1007.03 L656.69 1006.87 L656.86 1006.71 L657.02 1006.54 L657.18 1006.38 L657.34 1006.21 L657.49 1006.05 L657.65 1005.87 L657.81 1005.7 L657.98 1005.51 L658.16 1005.32 L658.35 1005.12 L658.53 1004.92 L658.72 1004.71 L658.89 1004.51 L659.05 1004.31 L659.2 1004.11 L659.33 1003.91 L659.43 1003.72 L659.5 1003.58 L659.56 1003.45 L659.63 1003.32 L659.69 1003.19 L659.74 1003.06 L659.77 1002.93 L659.79 1002.8 L659.78 1002.66 L659.76 1002.53 L659.7 1002.4 L659.37 1002.03 L658.81 1001.66 L658.06 1001.27 L657.14 1000.89 L656.1 1000.51 L654.98 1000.12 L653.82 999.74 L652.65 999.36 L651.52 998.99 L650.45 998.63 L649.27 998.21 L648.07 997.81 L646.86 997.41 L645.63 997.02 L644.37 996.64 L643.07 996.25 L641.73 995.87 L640.34 995.49 L638.89 995.11 L637.38 994.72 L635.12 994.17 L632.69 993.61 L630.13 993.04 L627.47 992.48 L624.73 991.92 L621.94 991.36 L619.13 990.83 L616.33 990.31 L613.57 989.82 L610.87 989.35 L608.24 988.93 L605.6 988.53 L602.96 988.16 L600.32 987.8 L597.68 987.47 L595.04 987.14 L592.4 986.81 L589.76 986.49 L587.12 986.16 L584.49 985.82 L581.82 985.47 L579.09 985.12 L576.32 984.77 L573.55 984.42 L570.79 984.08 L568.08 983.74 L565.44 983.39 L562.9 983.05 L560.49 982.72 L558.22 982.38 L556.7 982.15 L555.22 981.92 L553.79 981.7 L552.4 981.48 L551.06 981.26 L549.77 981.04 L548.52 980.81 L547.31 980.57 L546.15 980.33 L545.03 980.08 L544.24 979.89 L543.45 979.71 L542.68 979.53 L541.92 979.34 L541.2 979.15 L540.51 978.95 L539.87 978.75 L539.27 978.53 L538.73 978.29 L538.25 978.03 L537.98 977.87 L537.71 977.69 L537.45 977.51 L537.21 977.32 L536.99 977.12 L536.79 976.93 L536.63 976.74 L536.51 976.55 L536.43 976.37 L536.4 976.2 L536.41 976.07 L536.46 975.94 L536.53 975.81 L536.63 975.69 L536.75 975.57 L536.89 975.45 L537.05 975.33 L537.22 975.21 L537.4 975.08 L537.59 974.96 L538.03 974.69 L538.55 974.42 L539.15 974.15 L539.81 973.87 L540.54 973.59 L541.3 973.32 L542.11 973.05 L542.96 972.78 L543.82 972.52 L544.7 972.26 L546.12 971.89 L547.63 971.52 L549.23 971.16 L550.92 970.82 L552.69 970.49 L554.53 970.16 L556.43 969.84 L558.4 969.53 L560.42 969.22 L562.49 968.92 L565.55 968.5 L568.82 968.11 L572.26 967.73 L575.83 967.37 L579.51 967.02 L583.25 966.68 L587.01 966.35 L590.76 966.01 L594.46 965.68 L598.07 965.35 L601.67 965.01 L605.33 964.67 L609.03 964.33 L612.74 964 L616.42 963.67 L620.07 963.34 L623.64 963.03 L627.11 962.74 L630.46 962.46 L633.65 962.2 L636.2 962.01 L638.95 961.8 L641.8 961.6 L644.63 961.4 L647.33 961.21 L649.79 961.05 L651.9 960.9 L653.55 960.8 L654.62 960.72 L655 960.7 L655.24 960.7 L655.91 960.7 L656.88 960.7 L658.06 960.7 L659.35 960.7 L660.64 960.7 L661.82 960.7 L662.79 960.7 L663.46 960.7 L663.7 960.7Z" fill="#58a346" stroke="#525252" stroke-width="2.6" stroke-linejoin="round"/>
<path d="M347.5 1042.1 L347.59 1042.12 L347.84 1042.19 L348.22 1042.29 L348.71 1042.42 L349.27 1042.58 L349.89 1042.76 L350.53 1042.95 L351.17 1043.15 L351.78 1043.35 L352.34 1043.54 L352.96 1043.79 L353.58 1044.07 L354.21 1044.38 L354.84 1044.7 L355.48 1045.03 L356.15 1045.37 L356.83 1045.69 L357.55 1046 L358.3 1046.29 L359.08 1046.55 L360.2 1046.86 L361.37 1047.15 L362.59 1047.4 L363.86 1047.64 L365.17 1047.85 L366.53 1048.05 L367.94 1048.24 L369.4 1048.42 L370.9 1048.59 L372.45 1048.77 L374.75 1048.99 L377.2 1049.19 L379.79 1049.35 L382.47 1049.49 L385.23 1049.62 L388.04 1049.75 L390.87 1049.87 L393.69 1050.01 L396.47 1050.16 L399.18 1050.33 L401.87 1050.52 L404.56 1050.71 L407.25 1050.9 L409.94 1051.1 L412.62 1051.3 L415.31 1051.52 L418 1051.75 L420.69 1052 L423.37 1052.26 L426.04 1052.55 L428.75 1052.86 L431.53 1053.2 L434.33 1053.56 L437.14 1053.94 L439.93 1054.32 L442.68 1054.72 L445.35 1055.13 L447.92 1055.53 L450.36 1055.94 L452.65 1056.33 L454.2 1056.61 L455.69 1056.89 L457.15 1057.18 L458.55 1057.46 L459.91 1057.74 L461.22 1058.03 L462.49 1058.32 L463.71 1058.62 L464.88 1058.91 L466.02 1059.22 L466.82 1059.44 L467.62 1059.66 L468.4 1059.89 L469.16 1060.12 L469.89 1060.35 L470.58 1060.58 L471.24 1060.81 L471.84 1061.05 L472.4 1061.29 L472.89 1061.54 L473.16 1061.68 L473.43 1061.83 L473.7 1061.98 L473.95 1062.13 L474.18 1062.28 L474.39 1062.43 L474.56 1062.57 L474.69 1062.72 L474.78 1062.86 L474.8 1063 L474.77 1063.13 L474.68 1063.26 L474.55 1063.38 L474.38 1063.51 L474.18 1063.63 L473.96 1063.75 L473.71 1063.86 L473.46 1063.98 L473.2 1064.08 L472.94 1064.19 L472.45 1064.36 L471.89 1064.52 L471.29 1064.67 L470.64 1064.8 L469.94 1064.93 L469.22 1065.05 L468.46 1065.17 L467.69 1065.28 L466.9 1065.4 L466.1 1065.52 L464.97 1065.68 L463.8 1065.84 L462.58 1065.99 L461.32 1066.14 L460.01 1066.28 L458.66 1066.43 L457.26 1066.57 L455.82 1066.71 L454.33 1066.86 L452.8 1067.01 L450.52 1067.23 L448.08 1067.45 L445.52 1067.67 L442.86 1067.89 L440.13 1068.11 L437.35 1068.34 L434.56 1068.56 L431.77 1068.79 L429.01 1069.01 L426.32 1069.24 L423.67 1069.46 L421.01 1069.68 L418.35 1069.89 L415.69 1070.1 L413.03 1070.31 L410.37 1070.53 L407.7 1070.76 L405.04 1071 L402.38 1071.26 L399.72 1071.53 L397.01 1071.83 L394.23 1072.15 L391.41 1072.49 L388.58 1072.84 L385.77 1073.19 L383.01 1073.56 L380.32 1073.93 L377.74 1074.3 L375.29 1074.66 L373 1075.02 L371.48 1075.27 L370.02 1075.52 L368.63 1075.76 L367.28 1076.01 L365.97 1076.26 L364.7 1076.51 L363.45 1076.76 L362.23 1077.02 L361.02 1077.28 L359.82 1077.55 L358.74 1077.79 L357.55 1078.03 L356.32 1078.28 L355.08 1078.53 L353.9 1078.79 L352.82 1079.04 L351.88 1079.29 L351.15 1079.54 L350.68 1079.77 L350.5 1080 L350.56 1080.15 L350.74 1080.3 L351.02 1080.45 L351.39 1080.59 L351.84 1080.73 L352.35 1080.87 L352.91 1081.01 L353.5 1081.14 L354.11 1081.27 L354.72 1081.4 L356.38 1081.68 L358.41 1081.94 L360.74 1082.17 L363.3 1082.38 L366.04 1082.58 L368.88 1082.77 L371.77 1082.95 L374.63 1083.13 L377.41 1083.31 L380.04 1083.5 L382.56 1083.69 L385.07 1083.87 L387.57 1084.05 L390.07 1084.23 L392.58 1084.4 L395.09 1084.58 L397.62 1084.75 L400.17 1084.91 L402.75 1085.08 L405.36 1085.25 L408.47 1085.42 L412.01 1085.56 L415.8 1085.69 L419.68 1085.81 L423.46 1085.94 L426.97 1086.08 L430.05 1086.25 L432.51 1086.45 L434.19 1086.7 L434.9 1087 L434.91 1087.05 L434.9 1087.11 L434.87 1087.18 L434.83 1087.24 L434.78 1087.31 L434.73 1087.37 L434.68 1087.42 L434.64 1087.46 L434.61 1087.49 L434.6 1087.5 L432.16 1087.5 L425.54 1087.5 L415.79 1087.5 L403.94 1087.5 L391.05 1087.5 L378.16 1087.5 L366.31 1087.5 L356.56 1087.5 L349.94 1087.5 L347.5 1087.5 L345.06 1087.5 L338.44 1087.5 L328.69 1087.5 L316.84 1087.5 L303.95 1087.5 L291.06 1087.5 L279.21 1087.5 L269.46 1087.5 L262.84 1087.5 L260.4 1087.5 L260.39 1087.49 L260.36 1087.46 L260.32 1087.42 L260.27 1087.37 L260.22 1087.31 L260.17 1087.24 L260.13 1087.18 L260.1 1087.11 L260.09 1087.05 L260.1 1087 L260.81 1086.7 L262.49 1086.45 L264.95 1086.25 L268.03 1086.08 L271.54 1085.94 L275.32 1085.81 L279.2 1085.69 L282.99 1085.56 L286.53 1085.42 L289.64 1085.25 L292.25 1085.08 L294.83 1084.91 L297.38 1084.75 L299.91 1084.58 L302.42 1084.4 L304.93 1084.23 L307.43 1084.05 L309.93 1083.87 L312.44 1083.69 L314.96 1083.5 L317.59 1083.31 L320.37 1083.13 L323.23 1082.95 L326.12 1082.77 L328.96 1082.58 L331.7 1082.38 L334.26 1082.17 L336.59 1081.94 L338.62 1081.68 L340.28 1081.4 L340.89 1081.27 L341.5 1081.14 L342.09 1081.01 L342.65 1080.87 L343.16 1080.73 L343.61 1080.59 L343.98 1080.45 L344.26 1080.3 L344.44 1080.15 L344.5 1080 L344.32 1079.77 L343.85 1079.54 L343.12 1079.29 L342.18 1079.04 L341.1 1078.79 L339.92 1078.53 L338.68 1078.28 L337.45 1078.03 L336.26 1077.79 L335.18 1077.55 L333.98 1077.28 L332.77 1077.02 L331.55 1076.76 L330.3 1076.51 L329.03 1076.26 L327.72 1076.01 L326.37 1075.76 L324.98 1075.52 L323.52 1075.27 L322 1075.02 L319.71 1074.66 L317.26 1074.3 L314.68 1073.93 L311.99 1073.56 L309.23 1073.19 L306.42 1072.84 L303.59 1072.49 L300.77 1072.15 L297.99 1071.83 L295.28 1071.53 L292.62 1071.26 L289.96 1071 L287.3 1070.76 L284.63 1070.53 L281.97 1070.31 L279.31 1070.1 L276.65 1069.89 L273.99 1069.68 L271.33 1069.46 L268.68 1069.24 L265.99 1069.01 L263.23 1068.79 L260.44 1068.56 L257.65 1068.34 L254.87 1068.11 L252.14 1067.89 L249.48 1067.67 L246.92 1067.45 L244.48 1067.23 L242.2 1067.01 L240.67 1066.86 L239.18 1066.71 L237.74 1066.57 L236.34 1066.43 L234.99 1066.28 L233.68 1066.14 L232.42 1065.99 L231.2 1065.84 L230.03 1065.68 L228.9 1065.52 L228.1 1065.4 L227.31 1065.28 L226.54 1065.17 L225.78 1065.05 L225.06 1064.93 L224.36 1064.8 L223.71 1064.67 L223.11 1064.52 L222.55 1064.36 L222.06 1064.19 L221.8 1064.08 L221.54 1063.98 L221.29 1063.86 L221.04 1063.75 L220.82 1063.63 L220.62 1063.51 L220.45 1063.38 L220.32 1063.26 L220.23 1063.13 L220.2 1063 L220.22 1062.86 L220.31 1062.72 L220.44 1062.57 L220.61 1062.43 L220.82 1062.28 L221.05 1062.13 L221.3 1061.98 L221.57 1061.83 L221.84 1061.68 L222.11 1061.54 L222.6 1061.29 L223.16 1061.05 L223.76 1060.81 L224.42 1060.58 L225.11 1060.35 L225.84 1060.12 L226.6 1059.89 L227.38 1059.66 L228.18 1059.44 L228.98 1059.22 L230.12 1058.91 L231.29 1058.62 L232.51 1058.32 L233.78 1058.03 L235.09 1057.74 L236.45 1057.46 L237.85 1057.18 L239.31 1056.89 L240.8 1056.61 L242.35 1056.33 L244.64 1055.94 L247.08 1055.53 L249.65 1055.13 L252.32 1054.72 L255.07 1054.32 L257.86 1053.94 L260.67 1053.56 L263.47 1053.2 L266.25 1052.86 L268.96 1052.55 L271.63 1052.26 L274.31 1052 L277 1051.75 L279.69 1051.52 L282.38 1051.3 L285.06 1051.1 L287.75 1050.9 L290.44 1050.71 L293.13 1050.52 L295.82 1050.33 L298.53 1050.16 L301.31 1050.01 L304.13 1049.87 L306.96 1049.75 L309.77 1049.62 L312.53 1049.49 L315.21 1049.35 L317.8 1049.19 L320.25 1048.99 L322.55 1048.77 L324.1 1048.59 L325.6 1048.42 L327.06 1048.24 L328.47 1048.05 L329.83 1047.85 L331.14 1047.64 L332.41 1047.4 L333.63 1047.15 L334.8 1046.86 L335.92 1046.55 L336.7 1046.29 L337.45 1046 L338.17 1045.69 L338.85 1045.37 L339.52 1045.03 L340.16 1044.7 L340.79 1044.38 L341.42 1044.07 L342.04 1043.79 L342.66 1043.54 L343.22 1043.35 L343.83 1043.15 L344.47 1042.95 L345.11 1042.76 L345.73 1042.58 L346.29 1042.42 L346.78 1042.29 L347.16 1042.19 L347.41 1042.12 L347.5 1042.1Z" fill="#41a08a" stroke="#525252" stroke-width="2.6" stroke-linejoin="round"/>
<path d="M663.7 1052.8 L664.7 1052.8 L667.4 1052.8 L671.39 1052.8 L676.23 1052.8 L681.5 1052.8 L686.77 1052.8 L691.61 1052.8 L695.6 1052.8 L698.3 1052.8 L699.3 1052.8 L699.6 1052.82 L700.42 1052.87 L701.69 1052.95 L703.33 1053.06 L705.23 1053.18 L707.32 1053.32 L709.51 1053.47 L711.71 1053.63 L713.84 1053.78 L715.81 1053.93 L718.27 1054.12 L720.86 1054.33 L723.55 1054.55 L726.31 1054.78 L729.13 1055.02 L731.98 1055.27 L734.84 1055.52 L737.7 1055.77 L740.53 1056.03 L743.32 1056.28 L746.11 1056.53 L748.97 1056.78 L751.87 1057.03 L754.78 1057.28 L757.67 1057.53 L760.51 1057.79 L763.28 1058.06 L765.94 1058.35 L768.46 1058.64 L770.83 1058.95 L772.43 1059.17 L773.99 1059.4 L775.51 1059.64 L776.98 1059.88 L778.4 1060.12 L779.77 1060.37 L781.08 1060.63 L782.32 1060.9 L783.49 1061.17 L784.58 1061.45 L785.26 1061.64 L785.93 1061.84 L786.58 1062.04 L787.21 1062.24 L787.8 1062.45 L788.36 1062.65 L788.87 1062.86 L789.33 1063.07 L789.74 1063.27 L790.08 1063.47 L790.23 1063.57 L790.37 1063.66 L790.5 1063.75 L790.62 1063.84 L790.73 1063.93 L790.82 1064.02 L790.9 1064.12 L790.96 1064.21 L790.99 1064.3 L791 1064.4 L790.97 1064.52 L790.9 1064.65 L790.8 1064.77 L790.66 1064.9 L790.5 1065.03 L790.32 1065.16 L790.12 1065.29 L789.92 1065.41 L789.7 1065.54 L789.49 1065.67 L789.1 1065.9 L788.67 1066.12 L788.19 1066.35 L787.68 1066.58 L787.14 1066.8 L786.56 1067.03 L785.95 1067.25 L785.31 1067.47 L784.64 1067.69 L783.94 1067.9 L782.74 1068.23 L781.43 1068.55 L780.03 1068.85 L778.54 1069.15 L776.98 1069.44 L775.36 1069.73 L773.67 1070.01 L771.93 1070.29 L770.14 1070.56 L768.32 1070.84 L765.63 1071.23 L762.76 1071.6 L759.74 1071.98 L756.6 1072.34 L753.37 1072.7 L750.09 1073.05 L746.79 1073.4 L743.5 1073.74 L740.25 1074.08 L737.07 1074.42 L733.89 1074.75 L730.63 1075.07 L727.31 1075.4 L723.98 1075.71 L720.68 1076.02 L717.44 1076.33 L714.29 1076.64 L711.29 1076.94 L708.45 1077.24 L705.82 1077.53 L704.12 1077.73 L702.41 1077.92 L700.72 1078.1 L699.08 1078.28 L697.51 1078.46 L696.05 1078.64 L694.7 1078.83 L693.52 1079.03 L692.51 1079.24 L691.71 1079.46 L691.47 1079.54 L691.24 1079.62 L691.02 1079.7 L690.82 1079.79 L690.64 1079.87 L690.48 1079.96 L690.35 1080.04 L690.26 1080.13 L690.21 1080.21 L690.2 1080.3 L690.55 1080.57 L691.43 1080.85 L692.77 1081.14 L694.47 1081.42 L696.43 1081.71 L698.58 1082.01 L700.81 1082.31 L703.04 1082.61 L705.17 1082.92 L707.13 1083.24 L709.51 1083.63 L712.26 1084.03 L715.24 1084.46 L718.3 1084.89 L721.31 1085.32 L724.12 1085.75 L726.58 1086.17 L728.56 1086.57 L729.92 1086.95 L730.5 1087.3 L730.51 1087.36 L730.5 1087.42 L730.47 1087.48 L730.43 1087.55 L730.38 1087.61 L730.33 1087.67 L730.28 1087.72 L730.24 1087.76 L730.21 1087.79 L730.2 1087.8 L728.34 1087.8 L723.28 1087.8 L715.84 1087.8 L706.79 1087.8 L696.95 1087.8 L687.11 1087.8 L678.06 1087.8 L670.62 1087.8 L665.56 1087.8 L663.7 1087.8 L661.84 1087.8 L656.78 1087.8 L649.34 1087.8 L640.29 1087.8 L630.45 1087.8 L620.61 1087.8 L611.56 1087.8 L604.12 1087.8 L599.06 1087.8 L597.2 1087.8 L597.19 1087.79 L597.16 1087.76 L597.12 1087.72 L597.07 1087.67 L597.02 1087.61 L596.97 1087.55 L596.93 1087.48 L596.9 1087.42 L596.89 1087.36 L596.9 1087.3 L597.48 1086.95 L598.84 1086.57 L600.82 1086.17 L603.28 1085.75 L606.09 1085.32 L609.1 1084.89 L612.16 1084.46 L615.14 1084.03 L617.89 1083.63 L620.27 1083.24 L622.23 1082.92 L624.36 1082.61 L626.59 1082.31 L628.82 1082.01 L630.97 1081.71 L632.93 1081.42 L634.63 1081.14 L635.97 1080.85 L636.85 1080.57 L637.2 1080.3 L637.19 1080.21 L637.14 1080.13 L637.05 1080.04 L636.92 1079.96 L636.76 1079.87 L636.58 1079.79 L636.38 1079.7 L636.16 1079.62 L635.93 1079.54 L635.69 1079.46 L634.89 1079.24 L633.88 1079.03 L632.7 1078.83 L631.35 1078.64 L629.89 1078.46 L628.32 1078.28 L626.68 1078.1 L624.99 1077.92 L623.28 1077.73 L621.58 1077.53 L618.95 1077.24 L616.11 1076.94 L613.11 1076.64 L609.96 1076.33 L606.72 1076.02 L603.42 1075.71 L600.09 1075.4 L596.77 1075.07 L593.51 1074.75 L590.33 1074.42 L587.15 1074.08 L583.9 1073.74 L580.61 1073.4 L577.31 1073.05 L574.03 1072.7 L570.8 1072.34 L567.66 1071.98 L564.64 1071.6 L561.77 1071.23 L559.08 1070.84 L557.26 1070.56 L555.47 1070.29 L553.73 1070.01 L552.04 1069.73 L550.42 1069.44 L548.86 1069.15 L547.37 1068.85 L545.97 1068.55 L544.66 1068.23 L543.46 1067.9 L542.76 1067.69 L542.09 1067.47 L541.45 1067.25 L540.84 1067.03 L540.26 1066.8 L539.72 1066.58 L539.21 1066.35 L538.73 1066.12 L538.3 1065.9 L537.91 1065.67 L537.7 1065.54 L537.48 1065.41 L537.28 1065.29 L537.08 1065.16 L536.9 1065.03 L536.74 1064.9 L536.6 1064.77 L536.5 1064.65 L536.43 1064.52 L536.4 1064.4 L536.41 1064.3 L536.44 1064.21 L536.5 1064.12 L536.58 1064.02 L536.67 1063.93 L536.78 1063.84 L536.9 1063.75 L537.03 1063.66 L537.17 1063.57 L537.32 1063.47 L537.66 1063.27 L538.07 1063.07 L538.53 1062.86 L539.04 1062.65 L539.6 1062.45 L540.19 1062.24 L540.82 1062.04 L541.47 1061.84 L542.14 1061.64 L542.82 1061.45 L543.91 1061.17 L545.08 1060.9 L546.32 1060.63 L547.63 1060.37 L549 1060.12 L550.42 1059.88 L551.89 1059.64 L553.41 1059.4 L554.97 1059.17 L556.57 1058.95 L558.94 1058.64 L561.46 1058.35 L564.12 1058.06 L566.89 1057.79 L569.73 1057.53 L572.62 1057.28 L575.53 1057.03 L578.43 1056.78 L581.29 1056.53 L584.08 1056.28 L586.87 1056.03 L589.7 1055.77 L592.56 1055.52 L595.42 1055.27 L598.27 1055.02 L601.09 1054.78 L603.85 1054.55 L606.54 1054.33 L609.13 1054.12 L611.59 1053.93 L613.56 1053.78 L615.69 1053.63 L617.89 1053.47 L620.08 1053.32 L622.17 1053.18 L624.07 1053.06 L625.71 1052.95 L626.98 1052.87 L627.8 1052.82 L628.1 1052.8 L629.1 1052.8 L631.8 1052.8 L635.79 1052.8 L640.63 1052.8 L645.9 1052.8 L651.17 1052.8 L656.01 1052.8 L660 1052.8 L662.7 1052.8 L663.7 1052.8Z" fill="#41a08a" stroke="#525252" stroke-width="2.6" stroke-linejoin="round"/>
<line x1="347.5" y1="1126.7" x2="347.5" y2="1139" stroke="#525252" stroke-width="3" stroke-linecap="round"/>
<path d="M347.5 1137 L347.61 1137.08 L347.93 1137.29 L348.41 1137.61 L349.02 1138.02 L349.73 1138.5 L350.5 1139.01 L351.29 1139.54 L352.07 1140.06 L352.8 1140.56 L353.45 1140.99 L354.05 1141.39 L354.66 1141.79 L355.28 1142.19 L355.9 1142.59 L356.52 1142.99 L357.12 1143.39 L357.72 1143.79 L358.3 1144.19 L358.86 1144.58 L359.4 1144.98 L359.84 1145.32 L360.29 1145.65 L360.73 1145.99 L361.16 1146.33 L361.58 1146.67 L361.98 1147.01 L362.36 1147.34 L362.71 1147.67 L363.03 1147.99 L363.31 1148.31 L363.48 1148.52 L363.65 1148.73 L363.82 1148.95 L363.97 1149.16 L364.1 1149.37 L364.22 1149.58 L364.33 1149.77 L364.41 1149.96 L364.47 1150.14 L364.5 1150.3 L364.51 1150.39 L364.5 1150.47 L364.49 1150.55 L364.48 1150.62 L364.45 1150.7 L364.43 1150.77 L364.39 1150.84 L364.36 1150.91 L364.32 1150.98 L364.27 1151.05 L364.22 1151.14 L364.16 1151.22 L364.08 1151.31 L364.01 1151.39 L363.93 1151.48 L363.84 1151.56 L363.75 1151.64 L363.65 1151.72 L363.55 1151.8 L363.45 1151.88 L363.32 1151.98 L363.18 1152.08 L363.03 1152.17 L362.88 1152.27 L362.73 1152.36 L362.56 1152.45 L362.39 1152.54 L362.22 1152.63 L362.03 1152.73 L361.85 1152.83 L361.57 1152.96 L361.28 1153.1 L360.97 1153.24 L360.65 1153.37 L360.32 1153.52 L359.98 1153.66 L359.64 1153.8 L359.31 1153.94 L358.97 1154.08 L358.65 1154.23 L358.33 1154.37 L358.01 1154.5 L357.68 1154.64 L357.36 1154.77 L357.04 1154.91 L356.71 1155.05 L356.39 1155.19 L356.07 1155.34 L355.76 1155.5 L355.44 1155.67 L355.11 1155.86 L354.76 1156.07 L354.42 1156.28 L354.08 1156.5 L353.74 1156.73 L353.4 1156.96 L353.08 1157.19 L352.78 1157.42 L352.48 1157.65 L352.21 1157.86 L352.02 1158.03 L351.84 1158.19 L351.67 1158.35 L351.51 1158.5 L351.35 1158.66 L351.2 1158.82 L351.05 1158.98 L350.91 1159.14 L350.77 1159.3 L350.62 1159.46 L350.48 1159.61 L350.33 1159.77 L350.16 1159.94 L350 1160.1 L349.84 1160.27 L349.7 1160.43 L349.59 1160.58 L349.51 1160.73 L349.48 1160.87 L349.5 1161 L349.67 1161.2 L349.98 1161.37 L350.42 1161.5 L350.97 1161.61 L351.63 1161.7 L352.36 1161.78 L353.15 1161.86 L354 1161.93 L354.87 1162.01 L355.76 1162.1 L358.24 1162.33 L361.26 1162.53 L364.71 1162.71 L368.52 1162.88 L372.58 1163.03 L376.8 1163.18 L381.08 1163.32 L385.33 1163.46 L389.45 1163.6 L393.36 1163.75 L397.1 1163.9 L400.83 1164.04 L404.54 1164.19 L408.25 1164.32 L411.97 1164.46 L415.7 1164.6 L419.45 1164.73 L423.24 1164.86 L427.07 1164.99 L430.95 1165.12 L435.57 1165.24 L440.83 1165.32 L446.48 1165.38 L452.24 1165.43 L457.87 1165.49 L463.09 1165.57 L467.66 1165.7 L471.31 1165.89 L473.77 1166.15 L474.8 1166.5 L474.81 1166.55 L474.8 1166.61 L474.77 1166.68 L474.73 1166.74 L474.68 1166.81 L474.63 1166.87 L474.58 1166.92 L474.54 1166.96 L474.51 1166.99 L474.5 1167 L470.94 1167 L461.29 1167 L447.07 1167 L429.8 1167 L411 1167 L392.2 1167 L374.93 1167 L360.71 1167 L351.06 1167 L347.5 1167 L343.94 1167 L334.29 1167 L320.07 1167 L302.8 1167 L284 1167 L265.2 1167 L247.93 1167 L233.71 1167 L224.06 1167 L220.5 1167 L220.49 1166.99 L220.46 1166.96 L220.42 1166.92 L220.37 1166.87 L220.32 1166.81 L220.27 1166.74 L220.23 1166.68 L220.2 1166.61 L220.19 1166.55 L220.2 1166.5 L221.23 1166.15 L223.69 1165.89 L227.34 1165.7 L231.91 1165.57 L237.13 1165.49 L242.76 1165.43 L248.52 1165.38 L254.17 1165.32 L259.43 1165.24 L264.05 1165.12 L267.93 1164.99 L271.76 1164.86 L275.55 1164.73 L279.3 1164.6 L283.03 1164.46 L286.75 1164.32 L290.46 1164.19 L294.17 1164.04 L297.9 1163.9 L301.64 1163.75 L305.55 1163.6 L309.67 1163.46 L313.92 1163.32 L318.2 1163.18 L322.42 1163.03 L326.48 1162.88 L330.29 1162.71 L333.74 1162.53 L336.76 1162.33 L339.24 1162.1 L340.13 1162.01 L341 1161.93 L341.85 1161.86 L342.64 1161.78 L343.37 1161.7 L344.03 1161.61 L344.58 1161.5 L345.02 1161.37 L345.33 1161.2 L345.5 1161 L345.52 1160.87 L345.49 1160.73 L345.41 1160.58 L345.3 1160.43 L345.16 1160.27 L345 1160.1 L344.84 1159.94 L344.67 1159.77 L344.52 1159.61 L344.38 1159.46 L344.23 1159.3 L344.09 1159.14 L343.95 1158.98 L343.8 1158.82 L343.65 1158.66 L343.49 1158.5 L343.33 1158.35 L343.16 1158.19 L342.98 1158.03 L342.79 1157.86 L342.52 1157.65 L342.22 1157.42 L341.92 1157.19 L341.6 1156.96 L341.26 1156.73 L340.92 1156.5 L340.58 1156.28 L340.24 1156.07 L339.89 1155.86 L339.56 1155.67 L339.24 1155.5 L338.93 1155.34 L338.61 1155.19 L338.29 1155.05 L337.96 1154.91 L337.64 1154.77 L337.32 1154.64 L336.99 1154.5 L336.67 1154.37 L336.35 1154.23 L336.03 1154.08 L335.69 1153.94 L335.36 1153.8 L335.02 1153.66 L334.68 1153.52 L334.35 1153.37 L334.03 1153.24 L333.72 1153.1 L333.43 1152.96 L333.15 1152.83 L332.97 1152.73 L332.78 1152.63 L332.61 1152.54 L332.44 1152.45 L332.27 1152.36 L332.12 1152.27 L331.97 1152.17 L331.82 1152.08 L331.68 1151.98 L331.55 1151.88 L331.45 1151.8 L331.35 1151.72 L331.25 1151.64 L331.16 1151.56 L331.07 1151.48 L330.99 1151.39 L330.92 1151.31 L330.84 1151.22 L330.78 1151.14 L330.73 1151.05 L330.68 1150.98 L330.64 1150.91 L330.61 1150.84 L330.57 1150.77 L330.55 1150.7 L330.52 1150.62 L330.51 1150.55 L330.5 1150.47 L330.49 1150.39 L330.5 1150.3 L330.53 1150.14 L330.59 1149.96 L330.67 1149.77 L330.78 1149.58 L330.9 1149.37 L331.03 1149.16 L331.18 1148.95 L331.35 1148.73 L331.52 1148.52 L331.69 1148.31 L331.97 1147.99 L332.29 1147.67 L332.64 1147.34 L333.02 1147.01 L333.42 1146.67 L333.84 1146.33 L334.27 1145.99 L334.71 1145.65 L335.16 1145.32 L335.6 1144.98 L336.14 1144.58 L336.7 1144.19 L337.28 1143.79 L337.88 1143.39 L338.48 1142.99 L339.1 1142.59 L339.72 1142.19 L340.34 1141.79 L340.95 1141.39 L341.55 1140.99 L342.2 1140.56 L342.93 1140.06 L343.71 1139.54 L344.5 1139.01 L345.27 1138.5 L345.98 1138.02 L346.59 1137.61 L347.07 1137.29 L347.39 1137.08 L347.5 1137Z" fill="#46a0a5" stroke="#525252" stroke-width="2.6" stroke-linejoin="round"/>
<path d="M663.7 1139 L663.89 1139 L664.4 1139 L665.15 1139 L666.06 1139 L667.05 1139 L668.04 1139 L668.95 1139 L669.7 1139 L670.21 1139 L670.4 1139 L670.5 1139.02 L670.8 1139.07 L671.24 1139.16 L671.82 1139.26 L672.49 1139.39 L673.23 1139.53 L674 1139.68 L674.77 1139.84 L675.52 1140 L676.21 1140.14 L677.09 1140.34 L678 1140.55 L678.94 1140.78 L679.92 1141.01 L680.91 1141.26 L681.91 1141.51 L682.92 1141.77 L683.93 1142.02 L684.93 1142.28 L685.9 1142.54 L686.89 1142.8 L687.9 1143.05 L688.93 1143.3 L689.96 1143.56 L690.98 1143.82 L691.98 1144.09 L692.95 1144.37 L693.89 1144.65 L694.77 1144.95 L695.59 1145.25 L696.17 1145.49 L696.73 1145.73 L697.27 1145.97 L697.79 1146.22 L698.29 1146.48 L698.77 1146.73 L699.23 1147 L699.66 1147.26 L700.06 1147.53 L700.44 1147.8 L700.69 1148 L700.94 1148.21 L701.17 1148.42 L701.39 1148.64 L701.6 1148.85 L701.79 1149.07 L701.96 1149.28 L702.12 1149.48 L702.26 1149.67 L702.38 1149.86 L702.44 1149.96 L702.49 1150.06 L702.54 1150.16 L702.59 1150.26 L702.62 1150.35 L702.65 1150.44 L702.68 1150.53 L702.69 1150.62 L702.7 1150.71 L702.7 1150.8 L702.69 1150.88 L702.68 1150.95 L702.66 1151.02 L702.63 1151.09 L702.6 1151.16 L702.57 1151.23 L702.52 1151.29 L702.48 1151.36 L702.43 1151.44 L702.38 1151.51 L702.31 1151.63 L702.22 1151.75 L702.13 1151.87 L702.02 1152 L701.91 1152.13 L701.79 1152.26 L701.67 1152.38 L701.53 1152.51 L701.38 1152.64 L701.23 1152.76 L700.99 1152.93 L700.72 1153.1 L700.43 1153.27 L700.12 1153.44 L699.8 1153.6 L699.46 1153.77 L699.1 1153.93 L698.74 1154.09 L698.36 1154.25 L697.98 1154.4 L697.42 1154.62 L696.83 1154.83 L696.2 1155.03 L695.54 1155.24 L694.87 1155.44 L694.19 1155.64 L693.5 1155.83 L692.81 1156.03 L692.13 1156.22 L691.47 1156.41 L690.8 1156.59 L690.12 1156.77 L689.43 1156.95 L688.74 1157.13 L688.05 1157.31 L687.37 1157.48 L686.72 1157.65 L686.09 1157.82 L685.5 1157.99 L684.96 1158.15 L684.6 1158.26 L684.24 1158.37 L683.89 1158.48 L683.54 1158.59 L683.22 1158.69 L682.91 1158.8 L682.63 1158.9 L682.39 1159.01 L682.18 1159.12 L682.02 1159.23 L681.96 1159.28 L681.9 1159.32 L681.85 1159.37 L681.8 1159.42 L681.76 1159.46 L681.72 1159.51 L681.7 1159.56 L681.69 1159.61 L681.69 1159.65 L681.7 1159.7 L682.19 1160 L683.32 1160.29 L685 1160.59 L687.12 1160.89 L689.59 1161.19 L692.3 1161.48 L695.15 1161.77 L698.04 1162.04 L700.88 1162.31 L703.56 1162.56 L707.32 1162.89 L711.34 1163.2 L715.57 1163.49 L719.96 1163.77 L724.47 1164.03 L729.07 1164.28 L733.69 1164.51 L738.29 1164.73 L742.84 1164.94 L747.28 1165.14 L752.02 1165.3 L757.35 1165.4 L763.01 1165.47 L768.75 1165.52 L774.33 1165.56 L779.49 1165.63 L783.99 1165.74 L787.57 1165.91 L789.99 1166.15 L791 1166.5 L791.01 1166.55 L791 1166.61 L790.97 1166.68 L790.93 1166.74 L790.88 1166.81 L790.83 1166.87 L790.78 1166.92 L790.74 1166.96 L790.71 1166.99 L790.7 1167 L787.14 1167 L777.49 1167 L763.27 1167 L746 1167 L727.2 1167 L708.4 1167 L691.13 1167 L676.91 1167 L667.26 1167 L663.7 1167 L660.14 1167 L650.49 1167 L636.27 1167 L619 1167 L600.2 1167 L581.4 1167 L564.13 1167 L549.91 1167 L540.26 1167 L536.7 1167 L536.69 1166.99 L536.66 1166.96 L536.62 1166.92 L536.57 1166.87 L536.52 1166.81 L536.47 1166.74 L536.43 1166.68 L536.4 1166.61 L536.39 1166.55 L536.4 1166.5 L537.41 1166.15 L539.83 1165.91 L543.41 1165.74 L547.91 1165.63 L553.07 1165.56 L558.65 1165.52 L564.39 1165.47 L570.05 1165.4 L575.38 1165.3 L580.12 1165.14 L584.56 1164.94 L589.11 1164.73 L593.71 1164.51 L598.33 1164.28 L602.93 1164.03 L607.44 1163.77 L611.83 1163.49 L616.06 1163.2 L620.08 1162.89 L623.84 1162.56 L626.52 1162.31 L629.36 1162.04 L632.25 1161.77 L635.1 1161.48 L637.81 1161.19 L640.28 1160.89 L642.4 1160.59 L644.08 1160.29 L645.21 1160 L645.7 1159.7 L645.71 1159.65 L645.71 1159.61 L645.7 1159.56 L645.68 1159.51 L645.64 1159.46 L645.6 1159.42 L645.55 1159.37 L645.5 1159.32 L645.44 1159.28 L645.38 1159.23 L645.22 1159.12 L645.01 1159.01 L644.77 1158.9 L644.49 1158.8 L644.18 1158.69 L643.86 1158.59 L643.51 1158.48 L643.16 1158.37 L642.8 1158.26 L642.45 1158.15 L641.9 1157.99 L641.31 1157.82 L640.68 1157.65 L640.03 1157.48 L639.35 1157.31 L638.66 1157.13 L637.97 1156.95 L637.28 1156.77 L636.6 1156.59 L635.94 1156.41 L635.27 1156.22 L634.59 1156.03 L633.9 1155.83 L633.21 1155.64 L632.53 1155.44 L631.86 1155.24 L631.2 1155.03 L630.57 1154.83 L629.98 1154.62 L629.43 1154.4 L629.04 1154.25 L628.66 1154.09 L628.3 1153.93 L627.94 1153.77 L627.6 1153.6 L627.28 1153.44 L626.97 1153.27 L626.68 1153.1 L626.41 1152.93 L626.17 1152.76 L626.02 1152.64 L625.87 1152.51 L625.73 1152.38 L625.61 1152.26 L625.49 1152.13 L625.38 1152 L625.27 1151.87 L625.18 1151.75 L625.09 1151.63 L625.02 1151.51 L624.97 1151.44 L624.92 1151.36 L624.88 1151.29 L624.83 1151.23 L624.8 1151.16 L624.77 1151.09 L624.74 1151.02 L624.72 1150.95 L624.71 1150.88 L624.7 1150.8 L624.7 1150.71 L624.71 1150.62 L624.72 1150.53 L624.75 1150.44 L624.78 1150.35 L624.81 1150.26 L624.86 1150.16 L624.91 1150.06 L624.96 1149.96 L625.02 1149.86 L625.14 1149.67 L625.28 1149.48 L625.44 1149.28 L625.61 1149.07 L625.8 1148.85 L626.01 1148.64 L626.23 1148.42 L626.46 1148.21 L626.71 1148 L626.96 1147.8 L627.34 1147.53 L627.74 1147.26 L628.17 1147 L628.63 1146.73 L629.11 1146.48 L629.61 1146.22 L630.13 1145.97 L630.67 1145.73 L631.23 1145.49 L631.81 1145.25 L632.63 1144.95 L633.51 1144.65 L634.45 1144.37 L635.42 1144.09 L636.42 1143.82 L637.44 1143.56 L638.47 1143.3 L639.5 1143.05 L640.51 1142.8 L641.5 1142.54 L642.47 1142.28 L643.47 1142.02 L644.48 1141.77 L645.49 1141.51 L646.49 1141.26 L647.48 1141.01 L648.46 1140.78 L649.4 1140.55 L650.31 1140.34 L651.19 1140.14 L651.88 1140 L652.63 1139.84 L653.4 1139.68 L654.17 1139.53 L654.91 1139.39 L655.58 1139.26 L656.16 1139.16 L656.6 1139.07 L656.9 1139.02 L657 1139 L657.19 1139 L657.7 1139 L658.45 1139 L659.36 1139 L660.35 1139 L661.34 1139 L662.25 1139 L663 1139 L663.51 1139 L663.7 1139Z" fill="#46a0a5" stroke="#525252" stroke-width="2.6" stroke-linejoin="round"/>
<path d="M347.5 1204 L347.61 1204 L347.92 1204 L348.36 1204 L348.91 1204 L349.5 1204 L350.09 1204 L350.64 1204 L351.08 1204 L351.39 1204 L351.5 1204 L351.62 1204.05 L351.97 1204.19 L352.51 1204.4 L353.21 1204.67 L354.04 1204.98 L354.96 1205.31 L355.93 1205.65 L356.94 1205.98 L357.94 1206.29 L358.9 1206.55 L360.44 1206.93 L362.11 1207.29 L363.88 1207.64 L365.74 1207.99 L367.71 1208.32 L369.75 1208.66 L371.87 1208.98 L374.06 1209.31 L376.32 1209.63 L378.63 1209.95 L382.1 1210.4 L385.82 1210.85 L389.75 1211.28 L393.84 1211.7 L398.05 1212.12 L402.33 1212.53 L406.65 1212.95 L410.94 1213.36 L415.18 1213.78 L419.31 1214.2 L423.48 1214.63 L427.78 1215.05 L432.16 1215.48 L436.56 1215.9 L440.93 1216.33 L445.19 1216.75 L449.29 1217.18 L453.16 1217.6 L456.76 1218.03 L460 1218.45 L461.91 1218.7 L463.89 1218.95 L465.88 1219.19 L467.82 1219.43 L469.64 1219.67 L471.28 1219.92 L472.68 1220.17 L473.77 1220.43 L474.5 1220.71 L474.8 1221 L474.79 1221.12 L474.72 1221.24 L474.6 1221.37 L474.43 1221.49 L474.22 1221.62 L473.99 1221.75 L473.73 1221.87 L473.47 1221.99 L473.2 1222.11 L472.94 1222.22 L472.45 1222.4 L471.89 1222.56 L471.29 1222.71 L470.64 1222.84 L469.94 1222.97 L469.22 1223.1 L468.46 1223.22 L467.69 1223.33 L466.9 1223.45 L466.1 1223.58 L464.97 1223.74 L463.8 1223.91 L462.58 1224.06 L461.32 1224.21 L460.01 1224.36 L458.66 1224.51 L457.26 1224.65 L455.82 1224.8 L454.33 1224.95 L452.8 1225.11 L450.52 1225.33 L448.08 1225.55 L445.52 1225.78 L442.86 1226 L440.13 1226.23 L437.35 1226.46 L434.56 1226.69 L431.77 1226.92 L429.01 1227.15 L426.32 1227.39 L423.67 1227.61 L421.01 1227.83 L418.35 1228.05 L415.69 1228.26 L413.03 1228.48 L410.37 1228.71 L407.7 1228.94 L405.04 1229.19 L402.38 1229.45 L399.72 1229.73 L397.01 1230.04 L394.23 1230.37 L391.41 1230.71 L388.58 1231.07 L385.77 1231.43 L383.01 1231.81 L380.32 1232.18 L377.74 1232.56 L375.29 1232.93 L373 1233.3 L371.48 1233.56 L370.02 1233.81 L368.63 1234.06 L367.28 1234.32 L365.97 1234.57 L364.7 1234.83 L363.45 1235.09 L362.23 1235.35 L361.02 1235.62 L359.82 1235.89 L358.74 1236.14 L357.55 1236.39 L356.31 1236.65 L355.08 1236.91 L353.89 1237.17 L352.8 1237.44 L351.87 1237.69 L351.14 1237.94 L350.67 1238.18 L350.5 1238.4 L350.59 1238.57 L350.83 1238.73 L351.22 1238.88 L351.73 1239.03 L352.33 1239.18 L353.02 1239.32 L353.78 1239.46 L354.57 1239.6 L355.39 1239.73 L356.21 1239.86 L358.47 1240.16 L361.22 1240.42 L364.37 1240.67 L367.84 1240.89 L371.55 1241.1 L375.4 1241.29 L379.3 1241.48 L383.18 1241.67 L386.95 1241.85 L390.5 1242.05 L393.92 1242.25 L397.32 1242.44 L400.71 1242.63 L404.09 1242.81 L407.48 1242.99 L410.89 1243.17 L414.31 1243.35 L417.77 1243.52 L421.26 1243.7 L424.8 1243.88 L429.01 1244.05 L433.81 1244.18 L438.96 1244.3 L444.21 1244.42 L449.34 1244.54 L454.11 1244.68 L458.27 1244.85 L461.6 1245.07 L463.86 1245.35 L464.8 1245.7 L464.81 1245.75 L464.8 1245.81 L464.77 1245.88 L464.73 1245.94 L464.68 1246.01 L464.63 1246.07 L464.58 1246.12 L464.54 1246.16 L464.51 1246.19 L464.5 1246.2 L461.22 1246.2 L452.33 1246.2 L439.23 1246.2 L423.32 1246.2 L406 1246.2 L388.68 1246.2 L372.77 1246.2 L359.67 1246.2 L350.78 1246.2 L347.5 1246.2 L344.22 1246.2 L335.33 1246.2 L322.23 1246.2 L306.32 1246.2 L289 1246.2 L271.68 1246.2 L255.77 1246.2 L242.67 1246.2 L233.78 1246.2 L230.5 1246.2 L230.49 1246.19 L230.46 1246.16 L230.42 1246.12 L230.37 1246.07 L230.32 1246.01 L230.27 1245.94 L230.23 1245.88 L230.2 1245.81 L230.19 1245.75 L230.2 1245.7 L231.14 1245.35 L233.4 1245.07 L236.73 1244.85 L240.89 1244.68 L245.66 1244.54 L250.79 1244.42 L256.04 1244.3 L261.19 1244.18 L265.99 1244.05 L270.2 1243.88 L273.74 1243.7 L277.23 1243.52 L280.69 1243.35 L284.11 1243.17 L287.52 1242.99 L290.91 1242.81 L294.29 1242.63 L297.68 1242.44 L301.08 1242.25 L304.5 1242.05 L308.05 1241.85 L311.82 1241.67 L315.7 1241.48 L319.6 1241.29 L323.45 1241.1 L327.16 1240.89 L330.63 1240.67 L333.78 1240.42 L336.53 1240.16 L338.79 1239.86 L339.61 1239.73 L340.43 1239.6 L341.22 1239.46 L341.98 1239.32 L342.67 1239.18 L343.27 1239.03 L343.78 1238.88 L344.17 1238.73 L344.41 1238.57 L344.5 1238.4 L344.33 1238.18 L343.86 1237.94 L343.13 1237.69 L342.2 1237.44 L341.11 1237.17 L339.92 1236.91 L338.69 1236.65 L337.45 1236.39 L336.26 1236.14 L335.18 1235.89 L333.98 1235.62 L332.77 1235.35 L331.55 1235.09 L330.3 1234.83 L329.03 1234.57 L327.72 1234.32 L326.37 1234.06 L324.98 1233.81 L323.52 1233.56 L322 1233.3 L319.71 1232.93 L317.26 1232.56 L314.68 1232.18 L311.99 1231.81 L309.23 1231.43 L306.42 1231.07 L303.59 1230.71 L300.77 1230.37 L297.99 1230.04 L295.28 1229.73 L292.62 1229.45 L289.96 1229.19 L287.3 1228.94 L284.63 1228.71 L281.97 1228.48 L279.31 1228.26 L276.65 1228.05 L273.99 1227.83 L271.33 1227.61 L268.68 1227.39 L265.99 1227.15 L263.23 1226.92 L260.44 1226.69 L257.65 1226.46 L254.87 1226.23 L252.14 1226 L249.48 1225.78 L246.92 1225.55 L244.48 1225.33 L242.2 1225.11 L240.67 1224.95 L239.18 1224.8 L237.74 1224.65 L236.34 1224.51 L234.99 1224.36 L233.68 1224.21 L232.42 1224.06 L231.2 1223.91 L230.03 1223.74 L228.9 1223.58 L228.1 1223.45 L227.31 1223.33 L226.54 1223.22 L225.78 1223.1 L225.06 1222.97 L224.36 1222.84 L223.71 1222.71 L223.11 1222.56 L222.55 1222.4 L222.06 1222.22 L221.8 1222.11 L221.53 1221.99 L221.27 1221.87 L221.01 1221.75 L220.78 1221.62 L220.57 1221.49 L220.4 1221.37 L220.28 1221.24 L220.21 1221.12 L220.2 1221 L220.5 1220.71 L221.23 1220.43 L222.32 1220.17 L223.72 1219.92 L225.36 1219.67 L227.18 1219.43 L229.12 1219.19 L231.11 1218.95 L233.09 1218.7 L235 1218.45 L238.24 1218.03 L241.84 1217.6 L245.71 1217.18 L249.81 1216.75 L254.07 1216.33 L258.44 1215.9 L262.84 1215.48 L267.22 1215.05 L271.52 1214.63 L275.69 1214.2 L279.82 1213.78 L284.06 1213.36 L288.35 1212.95 L292.67 1212.53 L296.95 1212.12 L301.16 1211.7 L305.25 1211.28 L309.18 1210.85 L312.9 1210.4 L316.37 1209.95 L318.68 1209.63 L320.94 1209.31 L323.13 1208.98 L325.25 1208.66 L327.29 1208.32 L329.26 1207.99 L331.12 1207.64 L332.89 1207.29 L334.56 1206.93 L336.1 1206.55 L337.06 1206.29 L338.06 1205.98 L339.07 1205.65 L340.04 1205.31 L340.96 1204.98 L341.79 1204.67 L342.49 1204.4 L343.03 1204.19 L343.38 1204.05 L343.5 1204 L343.61 1204 L343.92 1204 L344.36 1204 L344.91 1204 L345.5 1204 L346.09 1204 L346.64 1204 L347.08 1204 L347.39 1204 L347.5 1204Z" fill="#5a9dd0" stroke="#525252" stroke-width="2.6" stroke-linejoin="round"/>
<path d="M663.7 1212.8 L664.75 1212.8 L667.61 1212.8 L671.82 1212.8 L676.94 1212.8 L682.5 1212.8 L688.06 1212.8 L693.18 1212.8 L697.39 1212.8 L700.25 1212.8 L701.3 1212.8 L701.59 1212.82 L702.4 1212.86 L703.64 1212.93 L705.24 1213.03 L707.1 1213.14 L709.14 1213.26 L711.28 1213.39 L713.44 1213.53 L715.52 1213.66 L717.45 1213.79 L719.86 1213.96 L722.39 1214.14 L725.02 1214.34 L727.72 1214.54 L730.48 1214.75 L733.27 1214.97 L736.07 1215.19 L738.87 1215.41 L741.63 1215.64 L744.36 1215.86 L747.09 1216.08 L749.89 1216.3 L752.72 1216.52 L755.57 1216.74 L758.39 1216.96 L761.17 1217.19 L763.88 1217.43 L766.48 1217.68 L768.95 1217.93 L771.27 1218.21 L772.83 1218.41 L774.36 1218.61 L775.84 1218.81 L777.28 1219.02 L778.68 1219.24 L780.01 1219.46 L781.29 1219.69 L782.5 1219.92 L783.65 1220.16 L784.72 1220.41 L785.38 1220.58 L786.04 1220.75 L786.67 1220.92 L787.29 1221.1 L787.87 1221.28 L788.41 1221.46 L788.92 1221.64 L789.37 1221.83 L789.77 1222.01 L790.1 1222.18 L790.24 1222.27 L790.38 1222.35 L790.51 1222.43 L790.62 1222.51 L790.73 1222.59 L790.82 1222.67 L790.9 1222.75 L790.96 1222.83 L790.99 1222.91 L791 1223 L790.97 1223.12 L790.9 1223.23 L790.78 1223.36 L790.63 1223.48 L790.46 1223.6 L790.26 1223.73 L790.05 1223.86 L789.82 1223.98 L789.59 1224.11 L789.36 1224.23 L788.94 1224.45 L788.47 1224.67 L787.95 1224.89 L787.4 1225.11 L786.81 1225.33 L786.18 1225.55 L785.52 1225.77 L784.82 1225.98 L784.1 1226.19 L783.35 1226.39 L782.04 1226.71 L780.62 1227.02 L779.1 1227.32 L777.49 1227.6 L775.8 1227.89 L774.03 1228.16 L772.2 1228.43 L770.32 1228.7 L768.38 1228.97 L766.41 1229.24 L763.49 1229.61 L760.38 1229.98 L757.11 1230.34 L753.7 1230.69 L750.2 1231.04 L746.64 1231.38 L743.06 1231.72 L739.49 1232.05 L735.97 1232.38 L732.52 1232.7 L729.08 1233.02 L725.54 1233.34 L721.94 1233.65 L718.33 1233.96 L714.75 1234.26 L711.24 1234.56 L707.83 1234.85 L704.57 1235.14 L701.49 1235.43 L698.64 1235.72 L696.8 1235.91 L694.94 1236.09 L693.11 1236.27 L691.33 1236.44 L689.63 1236.61 L688.04 1236.79 L686.59 1236.97 L685.3 1237.17 L684.21 1237.37 L683.34 1237.58 L683.08 1237.66 L682.84 1237.74 L682.6 1237.82 L682.38 1237.9 L682.18 1237.98 L682.01 1238.06 L681.88 1238.14 L681.77 1238.23 L681.71 1238.31 L681.7 1238.4 L682.01 1238.67 L682.83 1238.95 L684.07 1239.25 L685.64 1239.56 L687.46 1239.87 L689.45 1240.2 L691.52 1240.53 L693.58 1240.87 L695.56 1241.21 L697.37 1241.55 L699.57 1241.97 L702.12 1242.41 L704.87 1242.87 L707.71 1243.34 L710.49 1243.82 L713.09 1244.28 L715.37 1244.73 L717.2 1245.16 L718.46 1245.55 L719 1245.9 L719.01 1245.96 L719 1246.02 L718.97 1246.09 L718.93 1246.15 L718.88 1246.22 L718.83 1246.27 L718.78 1246.33 L718.74 1246.36 L718.71 1246.39 L718.7 1246.4 L717.16 1246.4 L712.98 1246.4 L706.82 1246.4 L699.34 1246.4 L691.2 1246.4 L683.06 1246.4 L675.58 1246.4 L669.42 1246.4 L665.24 1246.4 L663.7 1246.4 L662.16 1246.4 L657.98 1246.4 L651.82 1246.4 L644.34 1246.4 L636.2 1246.4 L628.06 1246.4 L620.58 1246.4 L614.42 1246.4 L610.24 1246.4 L608.7 1246.4 L608.69 1246.39 L608.66 1246.36 L608.62 1246.33 L608.57 1246.27 L608.52 1246.22 L608.47 1246.15 L608.43 1246.09 L608.4 1246.02 L608.39 1245.96 L608.4 1245.9 L608.94 1245.55 L610.2 1245.16 L612.03 1244.73 L614.31 1244.28 L616.91 1243.82 L619.69 1243.34 L622.53 1242.87 L625.28 1242.41 L627.83 1241.97 L630.03 1241.55 L631.84 1241.21 L633.82 1240.87 L635.88 1240.53 L637.95 1240.2 L639.94 1239.87 L641.76 1239.56 L643.33 1239.25 L644.57 1238.95 L645.39 1238.67 L645.7 1238.4 L645.69 1238.31 L645.63 1238.23 L645.52 1238.14 L645.39 1238.06 L645.22 1237.98 L645.02 1237.9 L644.8 1237.82 L644.56 1237.74 L644.32 1237.66 L644.06 1237.58 L643.19 1237.37 L642.1 1237.17 L640.81 1236.97 L639.36 1236.79 L637.77 1236.61 L636.07 1236.44 L634.29 1236.27 L632.46 1236.09 L630.6 1235.91 L628.76 1235.72 L625.91 1235.43 L622.83 1235.14 L619.57 1234.85 L616.16 1234.56 L612.65 1234.26 L609.07 1233.96 L605.46 1233.65 L601.86 1233.34 L598.32 1233.02 L594.88 1232.7 L591.43 1232.38 L587.91 1232.05 L584.34 1231.72 L580.76 1231.38 L577.2 1231.04 L573.7 1230.69 L570.29 1230.34 L567.02 1229.98 L563.91 1229.61 L560.99 1229.24 L559.02 1228.97 L557.08 1228.7 L555.2 1228.43 L553.37 1228.16 L551.6 1227.89 L549.91 1227.6 L548.3 1227.32 L546.78 1227.02 L545.36 1226.71 L544.05 1226.39 L543.3 1226.19 L542.58 1225.98 L541.88 1225.77 L541.22 1225.55 L540.59 1225.33 L540 1225.11 L539.45 1224.89 L538.93 1224.67 L538.46 1224.45 L538.04 1224.23 L537.81 1224.11 L537.58 1223.98 L537.35 1223.86 L537.14 1223.73 L536.94 1223.6 L536.77 1223.48 L536.62 1223.36 L536.5 1223.23 L536.43 1223.12 L536.4 1223 L536.41 1222.91 L536.44 1222.83 L536.5 1222.75 L536.58 1222.67 L536.67 1222.59 L536.78 1222.51 L536.89 1222.43 L537.02 1222.35 L537.16 1222.27 L537.3 1222.18 L537.63 1222.01 L538.03 1221.83 L538.48 1221.64 L538.99 1221.46 L539.53 1221.28 L540.11 1221.1 L540.73 1220.92 L541.36 1220.75 L542.02 1220.58 L542.68 1220.41 L543.75 1220.16 L544.9 1219.92 L546.11 1219.69 L547.39 1219.46 L548.72 1219.24 L550.12 1219.02 L551.56 1218.81 L553.04 1218.61 L554.57 1218.41 L556.13 1218.21 L558.45 1217.93 L560.92 1217.68 L563.52 1217.43 L566.23 1217.19 L569.01 1216.96 L571.83 1216.74 L574.68 1216.52 L577.51 1216.3 L580.31 1216.08 L583.04 1215.86 L585.77 1215.64 L588.53 1215.41 L591.33 1215.19 L594.13 1214.97 L596.92 1214.75 L599.68 1214.54 L602.38 1214.34 L605.01 1214.14 L607.54 1213.96 L609.95 1213.79 L611.88 1213.66 L613.96 1213.53 L616.12 1213.39 L618.26 1213.26 L620.3 1213.14 L622.16 1213.03 L623.76 1212.93 L625 1212.86 L625.81 1212.82 L626.1 1212.8 L627.15 1212.8 L630.01 1212.8 L634.22 1212.8 L639.34 1212.8 L644.9 1212.8 L650.46 1212.8 L655.58 1212.8 L659.79 1212.8 L662.65 1212.8 L663.7 1212.8Z" fill="#5a9dd0" stroke="#525252" stroke-width="2.6" stroke-linejoin="round"/>
<path d="M347.5 1271.3 L347.59 1271.32 L347.84 1271.36 L348.22 1271.43 L348.7 1271.53 L349.27 1271.64 L349.89 1271.76 L350.53 1271.9 L351.17 1272.04 L351.78 1272.18 L352.34 1272.32 L352.96 1272.5 L353.58 1272.7 L354.21 1272.91 L354.84 1273.14 L355.49 1273.38 L356.16 1273.61 L356.85 1273.84 L357.56 1274.06 L358.3 1274.27 L359.08 1274.45 L360.21 1274.68 L361.38 1274.88 L362.6 1275.06 L363.87 1275.23 L365.18 1275.38 L366.54 1275.52 L367.95 1275.65 L369.41 1275.77 L370.9 1275.9 L372.45 1276.02 L374.75 1276.18 L377.21 1276.32 L379.79 1276.43 L382.48 1276.54 L385.24 1276.63 L388.04 1276.72 L390.87 1276.81 L393.69 1276.9 L396.47 1277.01 L399.18 1277.13 L401.87 1277.26 L404.56 1277.4 L407.24 1277.53 L409.93 1277.67 L412.62 1277.82 L415.31 1277.97 L418 1278.13 L420.68 1278.31 L423.36 1278.5 L426.04 1278.7 L428.75 1278.92 L431.52 1279.16 L434.33 1279.41 L437.14 1279.68 L439.93 1279.96 L442.67 1280.24 L445.34 1280.52 L447.92 1280.81 L450.36 1281.1 L452.65 1281.38 L454.19 1281.58 L455.69 1281.78 L457.14 1281.97 L458.54 1282.17 L459.9 1282.38 L461.21 1282.58 L462.48 1282.79 L463.7 1282.99 L464.88 1283.21 L466.02 1283.42 L466.82 1283.58 L467.61 1283.74 L468.39 1283.89 L469.15 1284.05 L469.88 1284.22 L470.57 1284.38 L471.23 1284.55 L471.84 1284.71 L472.39 1284.89 L472.89 1285.06 L473.15 1285.16 L473.42 1285.26 L473.67 1285.35 L473.92 1285.45 L474.15 1285.54 L474.35 1285.64 L474.53 1285.75 L474.66 1285.86 L474.76 1285.98 L474.8 1286.1 L474.79 1286.25 L474.71 1286.41 L474.59 1286.58 L474.42 1286.75 L474.22 1286.94 L473.99 1287.12 L473.74 1287.3 L473.47 1287.47 L473.19 1287.64 L472.92 1287.79 L472.43 1288.03 L471.88 1288.25 L471.27 1288.46 L470.62 1288.65 L469.92 1288.83 L469.18 1289.01 L468.42 1289.17 L467.63 1289.34 L466.84 1289.51 L466.03 1289.68 L464.89 1289.92 L463.71 1290.14 L462.49 1290.36 L461.21 1290.57 L459.9 1290.77 L458.53 1290.98 L457.13 1291.18 L455.67 1291.39 L454.17 1291.6 L452.62 1291.81 L450.32 1292.12 L447.87 1292.43 L445.29 1292.74 L442.61 1293.06 L439.85 1293.38 L437.05 1293.7 L434.23 1294.02 L431.42 1294.34 L428.65 1294.66 L425.93 1294.98 L423.25 1295.3 L420.57 1295.6 L417.89 1295.9 L415.21 1296.2 L412.53 1296.51 L409.84 1296.82 L407.16 1297.14 L404.48 1297.49 L401.8 1297.85 L399.12 1298.25 L396.38 1298.68 L393.57 1299.13 L390.73 1299.61 L387.88 1300.1 L385.05 1300.61 L382.26 1301.13 L379.55 1301.66 L376.95 1302.18 L374.48 1302.7 L372.18 1303.21 L370.64 1303.56 L369.18 1303.92 L367.76 1304.27 L366.4 1304.62 L365.08 1304.98 L363.8 1305.33 L362.55 1305.69 L361.32 1306.06 L360.1 1306.43 L358.9 1306.82 L357.84 1307.12 L356.75 1307.39 L355.64 1307.64 L354.54 1307.89 L353.48 1308.16 L352.47 1308.45 L351.55 1308.8 L350.73 1309.21 L350.04 1309.71 L349.5 1310.3 L349.15 1310.97 L348.94 1311.77 L348.83 1312.66 L348.82 1313.61 L348.88 1314.59 L348.98 1315.57 L349.12 1316.53 L349.26 1317.43 L349.4 1318.24 L349.5 1318.94 L349.54 1319.3 L349.58 1319.64 L349.63 1319.96 L349.67 1320.27 L349.73 1320.55 L349.79 1320.83 L349.87 1321.09 L349.97 1321.35 L350.09 1321.59 L350.24 1321.82 L350.42 1322.05 L350.63 1322.26 L350.85 1322.45 L351.1 1322.63 L351.37 1322.8 L351.65 1322.97 L351.93 1323.12 L352.23 1323.27 L352.53 1323.41 L352.83 1323.55 L353.22 1323.7 L353.69 1323.83 L354.19 1323.95 L354.72 1324.06 L355.24 1324.16 L355.73 1324.26 L356.17 1324.36 L356.52 1324.47 L356.78 1324.58 L356.9 1324.7 L356.91 1324.75 L356.89 1324.81 L356.86 1324.88 L356.82 1324.95 L356.77 1325.01 L356.72 1325.07 L356.68 1325.12 L356.64 1325.16 L356.61 1325.19 L356.6 1325.2 L356.34 1325.2 L355.65 1325.2 L354.63 1325.2 L353.4 1325.2 L352.05 1325.2 L350.7 1325.2 L349.47 1325.2 L348.45 1325.2 L347.76 1325.2 L347.5 1325.2 L347.24 1325.2 L346.55 1325.2 L345.53 1325.2 L344.3 1325.2 L342.95 1325.2 L341.6 1325.2 L340.37 1325.2 L339.35 1325.2 L338.66 1325.2 L338.4 1325.2 L338.39 1325.19 L338.36 1325.16 L338.32 1325.12 L338.28 1325.07 L338.23 1325.01 L338.18 1324.95 L338.14 1324.88 L338.11 1324.81 L338.09 1324.75 L338.1 1324.7 L338.22 1324.58 L338.48 1324.47 L338.83 1324.36 L339.27 1324.26 L339.76 1324.16 L340.28 1324.06 L340.81 1323.95 L341.31 1323.83 L341.78 1323.7 L342.17 1323.55 L342.47 1323.41 L342.77 1323.27 L343.07 1323.12 L343.35 1322.97 L343.63 1322.8 L343.9 1322.63 L344.15 1322.45 L344.37 1322.26 L344.58 1322.05 L344.76 1321.82 L344.91 1321.59 L345.03 1321.35 L345.13 1321.09 L345.21 1320.83 L345.27 1320.55 L345.33 1320.27 L345.37 1319.96 L345.42 1319.64 L345.46 1319.3 L345.5 1318.94 L345.6 1318.24 L345.74 1317.43 L345.88 1316.53 L346.02 1315.57 L346.12 1314.59 L346.18 1313.61 L346.17 1312.66 L346.06 1311.77 L345.85 1310.97 L345.5 1310.3 L344.96 1309.71 L344.27 1309.21 L343.45 1308.8 L342.53 1308.45 L341.52 1308.16 L340.46 1307.89 L339.36 1307.64 L338.25 1307.39 L337.16 1307.12 L336.1 1306.82 L334.9 1306.43 L333.68 1306.06 L332.45 1305.69 L331.2 1305.33 L329.92 1304.98 L328.6 1304.62 L327.24 1304.27 L325.82 1303.92 L324.36 1303.56 L322.82 1303.21 L320.52 1302.7 L318.05 1302.18 L315.45 1301.66 L312.74 1301.13 L309.95 1300.61 L307.12 1300.1 L304.27 1299.61 L301.43 1299.13 L298.62 1298.68 L295.88 1298.25 L293.2 1297.85 L290.52 1297.49 L287.84 1297.14 L285.16 1296.82 L282.47 1296.51 L279.79 1296.2 L277.11 1295.9 L274.43 1295.6 L271.75 1295.3 L269.07 1294.98 L266.35 1294.66 L263.58 1294.34 L260.77 1294.02 L257.95 1293.7 L255.15 1293.38 L252.39 1293.06 L249.71 1292.74 L247.13 1292.43 L244.68 1292.12 L242.38 1291.81 L240.83 1291.6 L239.33 1291.39 L237.87 1291.18 L236.47 1290.98 L235.1 1290.77 L233.79 1290.57 L232.51 1290.36 L231.29 1290.14 L230.11 1289.92 L228.97 1289.68 L228.16 1289.51 L227.37 1289.34 L226.58 1289.17 L225.82 1289.01 L225.08 1288.83 L224.38 1288.65 L223.73 1288.46 L223.12 1288.25 L222.57 1288.03 L222.08 1287.79 L221.81 1287.64 L221.53 1287.47 L221.26 1287.3 L221.01 1287.12 L220.78 1286.94 L220.58 1286.75 L220.41 1286.58 L220.29 1286.41 L220.21 1286.25 L220.2 1286.1 L220.24 1285.98 L220.34 1285.86 L220.47 1285.75 L220.65 1285.64 L220.85 1285.54 L221.08 1285.45 L221.33 1285.35 L221.58 1285.26 L221.85 1285.16 L222.11 1285.06 L222.61 1284.89 L223.16 1284.71 L223.77 1284.55 L224.43 1284.38 L225.12 1284.22 L225.85 1284.05 L226.61 1283.89 L227.39 1283.74 L228.18 1283.58 L228.98 1283.42 L230.12 1283.21 L231.3 1282.99 L232.52 1282.79 L233.79 1282.58 L235.1 1282.38 L236.46 1282.17 L237.86 1281.97 L239.31 1281.78 L240.81 1281.58 L242.35 1281.38 L244.64 1281.1 L247.08 1280.81 L249.66 1280.52 L252.33 1280.24 L255.07 1279.96 L257.86 1279.68 L260.67 1279.41 L263.48 1279.16 L266.25 1278.92 L268.96 1278.7 L271.64 1278.5 L274.32 1278.31 L277 1278.13 L279.69 1277.97 L282.38 1277.82 L285.07 1277.67 L287.76 1277.53 L290.44 1277.4 L293.13 1277.26 L295.82 1277.13 L298.53 1277.01 L301.31 1276.9 L304.13 1276.81 L306.96 1276.72 L309.76 1276.63 L312.52 1276.54 L315.21 1276.43 L317.79 1276.32 L320.25 1276.18 L322.55 1276.02 L324.1 1275.9 L325.59 1275.77 L327.05 1275.65 L328.46 1275.52 L329.82 1275.38 L331.13 1275.23 L332.4 1275.06 L333.62 1274.88 L334.79 1274.68 L335.92 1274.45 L336.7 1274.27 L337.44 1274.06 L338.15 1273.84 L338.84 1273.61 L339.51 1273.38 L340.16 1273.14 L340.79 1272.91 L341.42 1272.7 L342.04 1272.5 L342.66 1272.32 L343.22 1272.18 L343.83 1272.04 L344.47 1271.9 L345.11 1271.76 L345.73 1271.64 L346.3 1271.53 L346.78 1271.43 L347.16 1271.36 L347.41 1271.32 L347.5 1271.3Z" fill="#b092c4" stroke="#6e6e6e" stroke-width="2.6" stroke-linejoin="round"/>
<path d="M663.7 1275.4 L664.3 1275.4 L665.94 1275.4 L668.34 1275.4 L671.27 1275.4 L674.45 1275.4 L677.63 1275.4 L680.56 1275.4 L682.96 1275.4 L684.6 1275.4 L685.2 1275.4 L685.54 1275.42 L686.49 1275.46 L687.96 1275.53 L689.84 1275.62 L692.04 1275.73 L694.45 1275.85 L696.98 1275.97 L699.52 1276.1 L701.97 1276.23 L704.24 1276.36 L707.09 1276.52 L710.08 1276.7 L713.17 1276.89 L716.36 1277.09 L719.61 1277.29 L722.9 1277.51 L726.21 1277.72 L729.51 1277.94 L732.77 1278.15 L735.98 1278.37 L739.21 1278.58 L742.51 1278.79 L745.85 1279.01 L749.21 1279.22 L752.54 1279.44 L755.82 1279.66 L759.01 1279.89 L762.08 1280.13 L764.99 1280.38 L767.72 1280.65 L769.57 1280.84 L771.37 1281.04 L773.12 1281.24 L774.82 1281.44 L776.46 1281.65 L778.03 1281.86 L779.54 1282.08 L780.97 1282.31 L782.33 1282.54 L783.59 1282.79 L784.37 1282.95 L785.14 1283.11 L785.89 1283.28 L786.61 1283.45 L787.3 1283.63 L787.94 1283.8 L788.54 1283.98 L789.07 1284.16 L789.54 1284.33 L789.94 1284.51 L790.1 1284.59 L790.26 1284.66 L790.41 1284.73 L790.54 1284.81 L790.67 1284.88 L790.78 1284.96 L790.87 1285.04 L790.94 1285.12 L790.98 1285.21 L791 1285.3 L790.97 1285.44 L790.9 1285.59 L790.77 1285.75 L790.6 1285.91 L790.4 1286.08 L790.18 1286.25 L789.93 1286.42 L789.67 1286.59 L789.4 1286.74 L789.13 1286.89 L788.64 1287.11 L788.09 1287.32 L787.48 1287.51 L786.83 1287.69 L786.13 1287.86 L785.4 1288.03 L784.64 1288.19 L783.86 1288.34 L783.07 1288.5 L782.26 1288.66 L781.13 1288.88 L779.95 1289.09 L778.73 1289.29 L777.47 1289.49 L776.16 1289.68 L774.8 1289.88 L773.4 1290.07 L771.95 1290.26 L770.45 1290.46 L768.91 1290.66 L766.62 1290.95 L764.18 1291.24 L761.61 1291.53 L758.94 1291.83 L756.19 1292.13 L753.4 1292.43 L750.59 1292.73 L747.79 1293.03 L745.03 1293.33 L742.33 1293.63 L739.66 1293.93 L736.99 1294.21 L734.32 1294.5 L731.65 1294.78 L728.98 1295.06 L726.3 1295.35 L723.63 1295.66 L720.96 1295.98 L718.29 1296.33 L715.62 1296.7 L712.89 1297.1 L710.1 1297.52 L707.27 1297.97 L704.43 1298.44 L701.61 1298.91 L698.83 1299.4 L696.14 1299.89 L693.54 1300.38 L691.09 1300.87 L688.79 1301.35 L687.26 1301.68 L685.8 1302.01 L684.39 1302.34 L683.04 1302.67 L681.72 1303 L680.45 1303.34 L679.2 1303.68 L677.97 1304.02 L676.76 1304.37 L675.56 1304.73 L674.5 1305.02 L673.39 1305.29 L672.26 1305.55 L671.13 1305.8 L670.05 1306.07 L669.03 1306.36 L668.1 1306.68 L667.3 1307.06 L666.66 1307.49 L666.2 1308 L666 1308.41 L665.92 1308.87 L665.91 1309.36 L665.98 1309.88 L666.09 1310.41 L666.22 1310.95 L666.36 1311.49 L666.48 1312.03 L666.57 1312.54 L666.6 1313.04 L666.58 1313.48 L666.55 1313.91 L666.5 1314.33 L666.44 1314.75 L666.37 1315.17 L666.31 1315.58 L666.26 1315.99 L666.22 1316.41 L666.2 1316.82 L666.2 1317.24 L666.23 1317.66 L666.27 1318.09 L666.33 1318.52 L666.41 1318.95 L666.49 1319.38 L666.58 1319.8 L666.68 1320.22 L666.79 1320.64 L666.89 1321.04 L667 1321.44 L667.11 1321.81 L667.26 1322.19 L667.41 1322.58 L667.58 1322.96 L667.74 1323.34 L667.9 1323.7 L668.03 1324.03 L668.13 1324.33 L668.19 1324.59 L668.2 1324.8 L668.19 1324.87 L668.16 1324.95 L668.12 1325.02 L668.08 1325.08 L668.04 1325.14 L668 1325.2 L667.96 1325.24 L667.93 1325.27 L667.91 1325.29 L667.9 1325.3 L667.78 1325.3 L667.46 1325.3 L666.99 1325.3 L666.42 1325.3 L665.8 1325.3 L665.18 1325.3 L664.61 1325.3 L664.14 1325.3 L663.82 1325.3 L663.7 1325.3 L663.58 1325.3 L663.26 1325.3 L662.79 1325.3 L662.22 1325.3 L661.6 1325.3 L660.98 1325.3 L660.41 1325.3 L659.94 1325.3 L659.62 1325.3 L659.5 1325.3 L659.49 1325.29 L659.47 1325.27 L659.44 1325.24 L659.4 1325.2 L659.36 1325.14 L659.32 1325.08 L659.28 1325.02 L659.24 1324.95 L659.21 1324.87 L659.2 1324.8 L659.21 1324.59 L659.27 1324.33 L659.37 1324.03 L659.5 1323.7 L659.66 1323.34 L659.82 1322.96 L659.99 1322.58 L660.14 1322.19 L660.29 1321.81 L660.4 1321.44 L660.51 1321.04 L660.61 1320.64 L660.72 1320.22 L660.82 1319.8 L660.91 1319.38 L660.99 1318.95 L661.07 1318.52 L661.13 1318.09 L661.17 1317.66 L661.2 1317.24 L661.2 1316.82 L661.18 1316.41 L661.14 1315.99 L661.09 1315.58 L661.03 1315.17 L660.96 1314.75 L660.9 1314.33 L660.85 1313.91 L660.82 1313.48 L660.8 1313.04 L660.83 1312.54 L660.92 1312.03 L661.04 1311.49 L661.18 1310.95 L661.31 1310.41 L661.42 1309.88 L661.49 1309.36 L661.48 1308.87 L661.4 1308.41 L661.2 1308 L660.74 1307.49 L660.1 1307.06 L659.3 1306.68 L658.37 1306.36 L657.35 1306.07 L656.27 1305.8 L655.14 1305.55 L654.01 1305.29 L652.9 1305.02 L651.84 1304.73 L650.64 1304.37 L649.43 1304.02 L648.2 1303.68 L646.95 1303.34 L645.68 1303 L644.36 1302.67 L643.01 1302.34 L641.6 1302.01 L640.14 1301.68 L638.61 1301.35 L636.31 1300.87 L633.86 1300.38 L631.26 1299.89 L628.57 1299.4 L625.79 1298.91 L622.97 1298.44 L620.13 1297.97 L617.3 1297.52 L614.51 1297.1 L611.78 1296.7 L609.11 1296.33 L606.44 1295.98 L603.77 1295.66 L601.1 1295.35 L598.42 1295.06 L595.75 1294.78 L593.08 1294.5 L590.41 1294.21 L587.74 1293.93 L585.07 1293.63 L582.37 1293.33 L579.61 1293.03 L576.81 1292.73 L574 1292.43 L571.21 1292.13 L568.46 1291.83 L565.79 1291.53 L563.22 1291.24 L560.78 1290.95 L558.49 1290.66 L556.95 1290.46 L555.45 1290.26 L554 1290.07 L552.6 1289.88 L551.24 1289.68 L549.93 1289.49 L548.67 1289.29 L547.45 1289.09 L546.27 1288.88 L545.14 1288.66 L544.33 1288.5 L543.54 1288.34 L542.76 1288.19 L542 1288.03 L541.27 1287.86 L540.57 1287.69 L539.92 1287.51 L539.31 1287.32 L538.76 1287.11 L538.27 1286.89 L538 1286.74 L537.73 1286.59 L537.47 1286.42 L537.22 1286.25 L537 1286.08 L536.8 1285.91 L536.63 1285.75 L536.5 1285.59 L536.43 1285.44 L536.4 1285.3 L536.42 1285.21 L536.46 1285.12 L536.53 1285.04 L536.62 1284.96 L536.73 1284.88 L536.86 1284.81 L536.99 1284.73 L537.14 1284.66 L537.3 1284.59 L537.46 1284.51 L537.86 1284.33 L538.33 1284.16 L538.86 1283.98 L539.46 1283.8 L540.1 1283.63 L540.79 1283.45 L541.51 1283.28 L542.26 1283.11 L543.03 1282.95 L543.81 1282.79 L545.07 1282.54 L546.43 1282.31 L547.86 1282.08 L549.37 1281.86 L550.94 1281.65 L552.58 1281.44 L554.28 1281.24 L556.03 1281.04 L557.83 1280.84 L559.68 1280.65 L562.41 1280.38 L565.32 1280.13 L568.39 1279.89 L571.58 1279.66 L574.86 1279.44 L578.19 1279.22 L581.55 1279.01 L584.89 1278.79 L588.19 1278.58 L591.42 1278.37 L594.63 1278.15 L597.89 1277.94 L601.19 1277.72 L604.5 1277.51 L607.79 1277.29 L611.04 1277.09 L614.23 1276.89 L617.32 1276.7 L620.31 1276.52 L623.16 1276.36 L625.43 1276.23 L627.88 1276.1 L630.42 1275.97 L632.95 1275.85 L635.36 1275.73 L637.56 1275.62 L639.44 1275.53 L640.91 1275.46 L641.86 1275.42 L642.2 1275.4 L642.8 1275.4 L644.44 1275.4 L646.84 1275.4 L649.77 1275.4 L652.95 1275.4 L656.13 1275.4 L659.06 1275.4 L661.46 1275.4 L663.1 1275.4 L663.7 1275.4Z" fill="#b092c4" stroke="#6e6e6e" stroke-width="2.6" stroke-linejoin="round"/>
<line x1="219.4" y1="1403.2" x2="476" y2="1403.2" stroke="#8a8a8a" stroke-width="1.6" stroke-linecap="butt"/>
<path d="M663.7 1371.5 L663.96 1371.5 L664.66 1371.5 L665.69 1371.5 L666.94 1371.5 L668.3 1371.5 L669.66 1371.5 L670.91 1371.5 L671.94 1371.5 L672.64 1371.5 L672.9 1371.5 L673.07 1371.55 L673.57 1371.67 L674.33 1371.87 L675.33 1372.12 L676.51 1372.41 L677.84 1372.73 L679.27 1373.06 L680.75 1373.39 L682.24 1373.71 L683.7 1374 L686.67 1374.54 L690.07 1375.12 L693.83 1375.73 L697.86 1376.36 L702.1 1376.99 L706.47 1377.63 L710.89 1378.26 L715.29 1378.87 L719.58 1379.45 L723.7 1380 L727.73 1380.51 L731.82 1381.01 L735.93 1381.48 L740.06 1381.95 L744.17 1382.39 L748.24 1382.83 L752.26 1383.26 L756.19 1383.68 L760.01 1384.09 L763.7 1384.5 L766.88 1384.82 L770.35 1385.13 L773.97 1385.41 L777.58 1385.69 L781.04 1385.97 L784.2 1386.25 L786.93 1386.55 L789.06 1386.87 L790.47 1387.22 L791 1387.6 L790.91 1387.82 L790.6 1388.06 L790.11 1388.31 L789.46 1388.56 L788.68 1388.82 L787.79 1389.07 L786.82 1389.32 L785.8 1389.56 L784.75 1389.79 L783.7 1390 L781.01 1390.42 L777.78 1390.77 L774.09 1391.07 L770.04 1391.32 L765.73 1391.54 L761.26 1391.73 L756.72 1391.92 L752.22 1392.1 L747.85 1392.29 L743.7 1392.5 L739.7 1392.73 L735.7 1392.95 L731.7 1393.18 L727.7 1393.4 L723.7 1393.62 L719.7 1393.82 L715.7 1394.02 L711.7 1394.2 L707.7 1394.36 L703.7 1394.5 L699.34 1394.62 L694.42 1394.73 L689.18 1394.82 L683.86 1394.9 L678.7 1394.96 L673.94 1395.01 L669.82 1395.05 L666.58 1395.08 L664.46 1395.09 L663.7 1395.1 L662.94 1395.09 L660.82 1395.08 L657.58 1395.05 L653.46 1395.01 L648.7 1394.96 L643.54 1394.9 L638.22 1394.82 L632.98 1394.73 L628.06 1394.62 L623.7 1394.5 L619.7 1394.36 L615.7 1394.2 L611.7 1394.02 L607.7 1393.82 L603.7 1393.62 L599.7 1393.4 L595.7 1393.18 L591.7 1392.95 L587.7 1392.73 L583.7 1392.5 L579.55 1392.29 L575.18 1392.1 L570.68 1391.92 L566.14 1391.73 L561.67 1391.54 L557.36 1391.32 L553.31 1391.07 L549.62 1390.77 L546.39 1390.42 L543.7 1390 L542.65 1389.79 L541.6 1389.56 L540.58 1389.32 L539.61 1389.07 L538.72 1388.82 L537.94 1388.56 L537.29 1388.31 L536.8 1388.06 L536.49 1387.82 L536.4 1387.6 L536.93 1387.22 L538.34 1386.87 L540.47 1386.55 L543.2 1386.25 L546.36 1385.97 L549.82 1385.69 L553.43 1385.41 L557.05 1385.13 L560.52 1384.82 L563.7 1384.5 L567.39 1384.09 L571.21 1383.68 L575.14 1383.26 L579.16 1382.83 L583.23 1382.39 L587.34 1381.95 L591.47 1381.48 L595.58 1381.01 L599.67 1380.51 L603.7 1380 L607.82 1379.45 L612.11 1378.87 L616.51 1378.26 L620.93 1377.63 L625.3 1376.99 L629.54 1376.36 L633.57 1375.73 L637.33 1375.12 L640.73 1374.54 L643.7 1374 L645.16 1373.71 L646.65 1373.39 L648.13 1373.06 L649.56 1372.73 L650.89 1372.41 L652.07 1372.12 L653.07 1371.87 L653.83 1371.67 L654.33 1371.55 L654.5 1371.5 L654.76 1371.5 L655.46 1371.5 L656.49 1371.5 L657.74 1371.5 L659.1 1371.5 L660.46 1371.5 L661.71 1371.5 L662.74 1371.5 L663.44 1371.5 L663.7 1371.5Z" fill="#d578b2" stroke="#6e6e6e" stroke-width="2.6" stroke-linejoin="round"/>
<line x1="347" y1="1415" x2="347" y2="1421.5" stroke="#444" stroke-width="2" stroke-linecap="butt"/>
<line x1="663.4" y1="1415" x2="663.4" y2="1421.5" stroke="#444" stroke-width="2" stroke-linecap="butt"/>
<path d="M381.3 1452.4 L385.49 1430.01 L378.37 1434.17 L379.25 1429.47 L386.65 1425.02 L391.7 1425.02 L386.56 1452.4Z" fill="#000"/>
<text x="306.13" y="1452.4" font-size="39.8" font-weight="bold" font-style="italic" fill="#000" textLength="89.32" lengthAdjust="spacingAndGlyphs" >Mrc </text>
<text x="394.65" y="1427.47" font-size="23.33" font-weight="bold" font-style="normal" fill="#000" textLength="11.19" lengthAdjust="spacingAndGlyphs" >-</text>
<path d="M692.52 1451.8 L696.7 1429.41 L689.58 1433.57 L690.46 1428.87 L697.86 1424.42 L702.9 1424.42 L697.76 1451.8Z" fill="#000"/>
<text x="617.43" y="1451.8" font-size="39.8" font-weight="bold" font-style="italic" fill="#000" textLength="89.22" lengthAdjust="spacingAndGlyphs" >Mrc </text>
<text x="703.74" y="1432.41" font-size="23.33" font-weight="bold" font-style="normal" fill="#000" textLength="14.62" lengthAdjust="spacingAndGlyphs" >+</text>
<polyline points="850,689.9 833.7,689.9 833.7,783.5 850,783.5" fill="none" stroke="#000" stroke-width="2"/>
<polyline points="850,788 833.7,788 833.7,868.6 850,868.6" fill="none" stroke="#000" stroke-width="2"/>
<polyline points="850,874 833.7,874 833.7,939 850,939" fill="none" stroke="#000" stroke-width="2"/>
<polyline points="850,945.3 833.7,945.3 833.7,1025.2 850,1025.2" fill="none" stroke="#000" stroke-width="2"/>
<polyline points="850,1033.3 833.7,1033.3 833.7,1106.8 850,1106.8" fill="none" stroke="#000" stroke-width="2"/>
<polyline points="850,1114.2 833.7,1114.2 833.7,1183.5 850,1183.5" fill="none" stroke="#000" stroke-width="2"/>
<polyline points="850,1190.9 833.7,1190.9 833.7,1260.2 850,1260.2" fill="none" stroke="#000" stroke-width="2"/>
<polyline points="850,1267.6 833.7,1267.6 833.7,1342.2 850,1342.2" fill="none" stroke="#000" stroke-width="2"/>
<polyline points="850,1352.8 833.7,1352.8 833.7,1413.4 850,1413.4" fill="none" stroke="#000" stroke-width="2"/>
<text x="851.9" y="697.7" font-size="29.82" font-weight="bold" font-style="normal" fill="#000" textLength="16.33" lengthAdjust="spacingAndGlyphs" >6</text>
<text x="851.8" y="792.5" font-size="29.82" font-weight="bold" font-style="normal" fill="#000" textLength="16.59" lengthAdjust="spacingAndGlyphs" >0</text>
<text x="854.79" y="1361.15" font-size="34.77" font-weight="bold" font-style="normal" fill="#000" textLength="19.44" lengthAdjust="spacingAndGlyphs" >6</text>
<text x="854.57" y="1419.06" font-size="34.06" font-weight="bold" font-style="normal" fill="#000" textLength="19.86" lengthAdjust="spacingAndGlyphs" >0</text>
<text x="909.12" y="733.9" font-size="29.4" font-weight="normal" font-style="normal" fill="#000" textLength="69.62" lengthAdjust="spacingAndGlyphs" >-0.20</text>
<path d="M933.73 758.4 L933.73 740.64 L929.02 743.9 L929.02 741.46 L933.95 738.17 L936.41 738.17 L936.41 758.4Z" fill="#000"/>
<text x="891.53" y="758.4" font-size="29.4" font-weight="normal" font-style="normal" fill="#000" textLength="110.31" lengthAdjust="spacingAndGlyphs" >p= .000</text>
<text x="914.54" y="823.4" font-size="29.4" font-weight="normal" font-style="normal" fill="#000" textLength="68.64" lengthAdjust="spacingAndGlyphs" >-0.08</text>
<path d="M933.73 849 L933.73 831.24 L929.02 834.5 L929.02 832.06 L933.95 828.77 L936.41 828.77 L936.41 849Z" fill="#000"/>
<text x="891.53" y="849" font-size="29.4" font-weight="normal" font-style="normal" fill="#000" textLength="110.31" lengthAdjust="spacingAndGlyphs" >p= .000</text>
<text x="909.07" y="901.1" font-size="29.4" font-weight="normal" font-style="normal" fill="#000" textLength="76.06" lengthAdjust="spacingAndGlyphs" >+0.30</text>
<path d="M933.73 929.9 L933.73 912.14 L929.02 915.4 L929.02 912.96 L933.95 909.67 L936.41 909.67 L936.41 929.9Z" fill="#000"/>
<text x="891.53" y="929.9" font-size="29.4" font-weight="normal" font-style="normal" fill="#000" textLength="110.31" lengthAdjust="spacingAndGlyphs" >p= .000</text>
<text x="911.31" y="978.9" font-size="29.4" font-weight="normal" font-style="normal" fill="#000" textLength="70.34" lengthAdjust="spacingAndGlyphs" >-0.04</text>
<path d="M933.73 1002.3 L933.73 984.54 L929.02 987.8 L929.02 985.36 L933.95 982.07 L936.41 982.07 L936.41 1002.3Z" fill="#000"/>
<text x="891.53" y="1002.3" font-size="29.4" font-weight="normal" font-style="normal" fill="#000" textLength="110.31" lengthAdjust="spacingAndGlyphs" >p= .000</text>
<path d="M975.95 1065.8 L975.95 1048.04 L971.11 1051.3 L971.11 1048.86 L976.17 1045.57 L978.7 1045.57 L978.7 1065.8Z" fill="#000"/>
<text x="914.5" y="1065.8" font-size="29.4" font-weight="normal" font-style="normal" fill="#000" textLength="70.91" lengthAdjust="spacingAndGlyphs" >-0.2 </text>
<path d="M933.46 1090.3 L933.46 1072.54 L928.78 1075.8 L928.78 1073.36 L933.68 1070.07 L936.13 1070.07 L936.13 1090.3Z" fill="#000"/>
<text x="891.54" y="1090.3" font-size="29.4" font-weight="normal" font-style="normal" fill="#000" textLength="109.59" lengthAdjust="spacingAndGlyphs" >p= .000</text>
<path d="M963.31 1138.2 L963.31 1120.44 L958.56 1123.7 L958.56 1121.26 L963.54 1117.97 L966.02 1117.97 L966.02 1138.2Z" fill="#000"/>
<path d="M980.3 1138.2 L980.3 1120.44 L975.54 1123.7 L975.54 1121.26 L980.52 1117.97 L983 1117.97 L983 1138.2Z" fill="#000"/>
<text x="912.25" y="1138.2" font-size="29.4" font-weight="normal" font-style="normal" fill="#000" textLength="77.3" lengthAdjust="spacingAndGlyphs" >+0.  </text>
<path d="M936 1164.9 L936 1147.14 L931.35 1150.4 L931.35 1147.96 L936.22 1144.67 L938.65 1144.67 L938.65 1164.9Z" fill="#000"/>
<text x="894.35" y="1164.9" font-size="29.4" font-weight="normal" font-style="normal" fill="#000" textLength="108.87" lengthAdjust="spacingAndGlyphs" >p= .000</text>
<text x="912.36" y="1224.5" font-size="29.4" font-weight="normal" font-style="normal" fill="#000" textLength="67.6" lengthAdjust="spacingAndGlyphs" >-0.23</text>
<path d="M936 1248 L936 1230.24 L931.35 1233.5 L931.35 1231.06 L936.22 1227.77 L938.65 1227.77 L938.65 1248Z" fill="#000"/>
<text x="894.35" y="1248" font-size="29.4" font-weight="normal" font-style="normal" fill="#000" textLength="108.87" lengthAdjust="spacingAndGlyphs" >p= .000</text>
<text x="909.1" y="1297" font-size="29.4" font-weight="normal" font-style="normal" fill="#000" textLength="74.26" lengthAdjust="spacingAndGlyphs" >+0.07</text>
<path d="M936 1322.5 L936 1304.74 L931.35 1308 L931.35 1305.56 L936.22 1302.27 L938.65 1302.27 L938.65 1322.5Z" fill="#000"/>
<text x="894.35" y="1322.5" font-size="29.4" font-weight="normal" font-style="normal" fill="#000" textLength="108.87" lengthAdjust="spacingAndGlyphs" >p= .000</text>
<text x="910.16" y="1369.4" font-size="29.4" font-weight="normal" font-style="normal" fill="#000" textLength="76.88" lengthAdjust="spacingAndGlyphs" >+2.44</text>
<path d="M1005.78 1397.1 L1005.78 1379.34 L1001.01 1382.6 L1001.01 1380.16 L1006.01 1376.87 L1008.5 1376.87 L1008.5 1397.1Z" fill="#000"/>
<text x="886.2" y="1397.1" font-size="29.4" font-weight="normal" font-style="normal" fill="#000" textLength="128.91" lengthAdjust="spacingAndGlyphs" >p&lt;0.000 </text>
<text transform="translate(860.1 820.11) rotate(90)" font-size="35.2" font-weight="bold" font-style="normal" fill="#000" textLength="471.45" lengthAdjust="spacingAndGlyphs" >Log Normalized Expression Level</text>
<text transform="translate(1016.9 832.46) rotate(90)" font-size="35" font-weight="bold" font-style="normal" fill="#000" textLength="449.48" lengthAdjust="spacingAndGlyphs" >Average natural log-fold change</text>
<text x="-2.37" y="1539.7" font-size="79" font-weight="bold" font-style="normal" fill="#000" textLength="51.84" lengthAdjust="spacingAndGlyphs" >C</text>
<text x="295.94" y="1537.5" font-size="34.4" font-weight="bold" font-style="normal" fill="#1e1e1e" textLength="141.24" lengthAdjust="spacingAndGlyphs" >Log Fold</text>
<text x="306.08" y="1576.5" font-size="34.4" font-weight="bold" font-style="normal" fill="#1e1e1e" textLength="120.89" lengthAdjust="spacingAndGlyphs" >Change</text>
<text x="521.41" y="1504.75" font-size="25.1" font-weight="bold" font-style="normal" fill="#1e1e1e" textLength="14.98" lengthAdjust="spacingAndGlyphs" >+</text>
<path d="M515.59 1537.5 L519.19 1518.15 L513.06 1521.74 L513.81 1517.68 L520.19 1513.83 L524.54 1513.83 L520.11 1537.5Z" fill="#1e1e1e"/>
<text x="450.82" y="1537.5" font-size="34.4" fill="#1e1e1e" font-weight="bold"><tspan font-style="italic" textLength="76.95" lengthAdjust="spacingAndGlyphs">Mrc </tspan><tspan textLength="126.36" lengthAdjust="spacingAndGlyphs"> cells w/</tspan></text>
<text x="463.75" y="1576.5" font-size="34.4" font-weight="bold" font-style="normal" fill="#1e1e1e" textLength="179.24" lengthAdjust="spacingAndGlyphs" >Expression</text>
<text x="740.17" y="1501.17" font-size="23.33" font-weight="bold" font-style="normal" fill="#1e1e1e" textLength="8.56" lengthAdjust="spacingAndGlyphs" >-</text>
<path d="M732.39 1537.5 L735.99 1518.15 L729.86 1521.74 L730.61 1517.68 L736.99 1513.83 L741.34 1513.83 L736.91 1537.5Z" fill="#1e1e1e"/>
<text x="667.62" y="1537.5" font-size="34.4" fill="#1e1e1e" font-weight="bold"><tspan font-style="italic" textLength="76.95" lengthAdjust="spacingAndGlyphs">Mrc </tspan><tspan textLength="126.36" lengthAdjust="spacingAndGlyphs"> cells w/</tspan></text>
<text x="679.84" y="1576.5" font-size="34.4" font-weight="bold" font-style="normal" fill="#1e1e1e" textLength="180.06" lengthAdjust="spacingAndGlyphs" >Expression</text>
<text x="899.3" y="1501" font-size="34.4" font-weight="bold" font-style="normal" fill="#1e1e1e" textLength="100.37" lengthAdjust="spacingAndGlyphs" >Mann-</text>
<text x="881.6" y="1539.3" font-size="34.4" font-weight="bold" font-style="normal" fill="#1e1e1e" textLength="125.96" lengthAdjust="spacingAndGlyphs" >Whitney</text>
<text x="899.63" y="1579.4" font-size="34.4" font-weight="bold" font-style="normal" fill="#1e1e1e" textLength="100.14" lengthAdjust="spacingAndGlyphs" >U Test</text>
<text transform="translate(49.6 1999.45) rotate(-90)" font-size="44.6" font-weight="bold" font-style="normal" fill="#1e1e1e" textLength="294" lengthAdjust="spacingAndGlyphs" >Expression Stats</text>
<rect x="65" y="1593.5" width="943" height="55.2" fill="#d4d4d4"/>
<rect x="65" y="1648.7" width="943" height="456" fill="#f2f2f2"/>
<rect x="65" y="1648.7" width="943" height="3" fill="#f7f7f7"/>
<line x1="65" y1="1705.4" x2="1008" y2="1705.4" stroke="#d2d2d2" stroke-width="2" stroke-linecap="butt"/>
<line x1="65" y1="1762.3" x2="1008" y2="1762.3" stroke="#d2d2d2" stroke-width="2" stroke-linecap="butt"/>
<line x1="65" y1="1819.2" x2="1008" y2="1819.2" stroke="#d2d2d2" stroke-width="2" stroke-linecap="butt"/>
<line x1="65" y1="1876.1" x2="1008" y2="1876.1" stroke="#d2d2d2" stroke-width="2" stroke-linecap="butt"/>
<line x1="65" y1="1933" x2="1008" y2="1933" stroke="#d2d2d2" stroke-width="2" stroke-linecap="butt"/>
<line x1="65" y1="1989.9" x2="1008" y2="1989.9" stroke="#d2d2d2" stroke-width="2" stroke-linecap="butt"/>
<line x1="65" y1="2046.8" x2="1008" y2="2046.8" stroke="#d2d2d2" stroke-width="2" stroke-linecap="butt"/>
<line x1="276.2" y1="1648.7" x2="276.2" y2="2104" stroke="#d6d6d6" stroke-width="2" stroke-linecap="butt"/>
<line x1="451.6" y1="1648.7" x2="451.6" y2="2104" stroke="#d6d6d6" stroke-width="2" stroke-linecap="butt"/>
<line x1="652.8" y1="1648.7" x2="652.8" y2="2104" stroke="#d6d6d6" stroke-width="2" stroke-linecap="butt"/>
<line x1="875" y1="1648.7" x2="875" y2="2104" stroke="#d6d6d6" stroke-width="2" stroke-linecap="butt"/>
<line x1="1005" y1="1593.5" x2="1005" y2="2104" stroke="#dcdcdc" stroke-width="1.5" stroke-linecap="butt"/>
<rect x="63.5" y="1591.7" width="945.6" height="514.6" fill="none" stroke="#262626" stroke-width="4"/>
<text x="68.17" y="1635.8" font-size="37" font-weight="normal" font-style="italic" fill="#111" textLength="91.22" lengthAdjust="spacingAndGlyphs" stroke="#111" stroke-width="0.8">Mrc1</text>
<text x="325.41" y="1635.8" font-size="39.5" font-weight="normal" font-style="normal" fill="#111" textLength="75.9" lengthAdjust="spacingAndGlyphs" stroke="#111" stroke-width="0.8">2.44</text>
<text x="503.53" y="1635.8" font-size="39.5" font-weight="normal" font-style="normal" fill="#111" textLength="96.03" lengthAdjust="spacingAndGlyphs" stroke="#111" stroke-width="0.8">100%</text>
<text x="711.49" y="1635.8" font-size="39.5" font-weight="normal" font-style="normal" fill="#111" textLength="105.04" lengthAdjust="spacingAndGlyphs" stroke="#111" stroke-width="0.8">0.00%</text>
<text x="917.8" y="1635.8" font-size="38.5" font-weight="bold" font-style="normal" fill="#17a24a" textLength="67.23" lengthAdjust="spacingAndGlyphs" >p&lt;0</text>
<text x="68.33" y="1692.7" font-size="37" font-weight="normal" font-style="italic" fill="#111" textLength="76.9" lengthAdjust="spacingAndGlyphs" stroke="#111" stroke-width="0.8">Lcp1</text>
<text x="336.19" y="1692.7" font-size="39.5" font-weight="normal" font-style="normal" fill="#111" textLength="55.32" lengthAdjust="spacingAndGlyphs" stroke="#111" stroke-width="0.8">0.3</text>
<text x="488.89" y="1692.7" font-size="39.5" font-weight="normal" font-style="normal" fill="#111" textLength="126.26" lengthAdjust="spacingAndGlyphs" stroke="#111" stroke-width="0.8">60.50%</text>
<text x="701.07" y="1692.7" font-size="39.5" font-weight="normal" font-style="normal" fill="#111" textLength="125.88" lengthAdjust="spacingAndGlyphs" stroke="#111" stroke-width="0.8">53.10%</text>
<text x="917.82" y="1692.7" font-size="38.5" font-weight="bold" font-style="normal" fill="#e0262b" textLength="66.73" lengthAdjust="spacingAndGlyphs" >p=1</text>
<text x="67.67" y="1749.6" font-size="37" font-weight="normal" font-style="italic" fill="#111" textLength="62.24" lengthAdjust="spacingAndGlyphs" stroke="#111" stroke-width="0.8">Irf8</text>
<text x="319.31" y="1749.6" font-size="39.5" font-weight="normal" font-style="normal" fill="#111" textLength="89.07" lengthAdjust="spacingAndGlyphs" stroke="#111" stroke-width="0.8">-0.21</text>
<text x="488.89" y="1749.6" font-size="39.5" font-weight="normal" font-style="normal" fill="#111" textLength="126.26" lengthAdjust="spacingAndGlyphs" stroke="#111" stroke-width="0.8">79.00%</text>
<text x="700.97" y="1749.6" font-size="39.5" font-weight="normal" font-style="normal" fill="#111" textLength="125.98" lengthAdjust="spacingAndGlyphs" stroke="#111" stroke-width="0.8">81.60%</text>
<text x="917.82" y="1749.6" font-size="38.5" font-weight="bold" font-style="normal" fill="#e0262b" textLength="66.73" lengthAdjust="spacingAndGlyphs" >p=1</text>
<text x="68.4" y="1806.5" font-size="37" font-weight="normal" font-style="italic" fill="#111" textLength="81.22" lengthAdjust="spacingAndGlyphs" stroke="#111" stroke-width="0.8">Sall1</text>
<text x="325.79" y="1806.5" font-size="39.5" font-weight="normal" font-style="normal" fill="#111" textLength="76.26" lengthAdjust="spacingAndGlyphs" stroke="#111" stroke-width="0.8">0.11</text>
<text x="489.36" y="1806.5" font-size="39.5" font-weight="normal" font-style="normal" fill="#111" textLength="125.79" lengthAdjust="spacingAndGlyphs" stroke="#111" stroke-width="0.8">33.10%</text>
<text x="700.69" y="1806.5" font-size="39.5" font-weight="normal" font-style="normal" fill="#111" textLength="126.26" lengthAdjust="spacingAndGlyphs" stroke="#111" stroke-width="0.8">26.20%</text>
<text x="917.82" y="1806.5" font-size="38.5" font-weight="bold" font-style="normal" fill="#e0262b" textLength="66.73" lengthAdjust="spacingAndGlyphs" >p=1</text>
<text x="69.28" y="1863.4" font-size="37" font-weight="normal" font-style="italic" fill="#111" textLength="170.94" lengthAdjust="spacingAndGlyphs" stroke="#111" stroke-width="0.8">Tmem119</text>
<text x="329.71" y="1863.4" font-size="39.5" font-weight="normal" font-style="normal" fill="#111" textLength="68.39" lengthAdjust="spacingAndGlyphs" stroke="#111" stroke-width="0.8">-0.2</text>
<text x="488.89" y="1863.4" font-size="39.5" font-weight="normal" font-style="normal" fill="#111" textLength="126.26" lengthAdjust="spacingAndGlyphs" stroke="#111" stroke-width="0.8">79.00%</text>
<text x="700.69" y="1863.4" font-size="39.5" font-weight="normal" font-style="normal" fill="#111" textLength="126.26" lengthAdjust="spacingAndGlyphs" stroke="#111" stroke-width="0.8">79.90%</text>
<text x="917.82" y="1863.4" font-size="38.5" font-weight="bold" font-style="normal" fill="#e0262b" textLength="66.73" lengthAdjust="spacingAndGlyphs" >p=1</text>
<text x="68.19" y="1920.3" font-size="37" font-weight="normal" font-style="italic" fill="#111" textLength="122.83" lengthAdjust="spacingAndGlyphs" stroke="#111" stroke-width="0.8">Mpeg1</text>
<text x="319.32" y="1920.3" font-size="39.5" font-weight="normal" font-style="normal" fill="#111" textLength="88.86" lengthAdjust="spacingAndGlyphs" stroke="#111" stroke-width="0.8">-0.23</text>
<text x="488.89" y="1920.3" font-size="39.5" font-weight="normal" font-style="normal" fill="#111" textLength="126.26" lengthAdjust="spacingAndGlyphs" stroke="#111" stroke-width="0.8">79.80%</text>
<text x="700.69" y="1920.3" font-size="39.5" font-weight="normal" font-style="normal" fill="#111" textLength="126.26" lengthAdjust="spacingAndGlyphs" stroke="#111" stroke-width="0.8">76.10%</text>
<text x="917.82" y="1920.3" font-size="38.5" font-weight="bold" font-style="normal" fill="#e0262b" textLength="66.73" lengthAdjust="spacingAndGlyphs" >p=1</text>
<text x="67.37" y="1977.2" font-size="37" font-weight="normal" font-style="italic" fill="#111" textLength="88.04" lengthAdjust="spacingAndGlyphs" stroke="#111" stroke-width="0.8">Csf1r</text>
<text x="325.79" y="1977.2" font-size="39.5" font-weight="normal" font-style="normal" fill="#111" textLength="76.41" lengthAdjust="spacingAndGlyphs" stroke="#111" stroke-width="0.8">0.07</text>
<text x="488.98" y="1977.2" font-size="39.5" font-weight="normal" font-style="normal" fill="#111" textLength="126.17" lengthAdjust="spacingAndGlyphs" stroke="#111" stroke-width="0.8">99.20%</text>
<text x="700.78" y="1977.2" font-size="39.5" font-weight="normal" font-style="normal" fill="#111" textLength="126.17" lengthAdjust="spacingAndGlyphs" stroke="#111" stroke-width="0.8">98.20%</text>
<text x="917.82" y="1977.2" font-size="38.5" font-weight="bold" font-style="normal" fill="#e0262b" textLength="66.73" lengthAdjust="spacingAndGlyphs" >p=1</text>
<text x="67.46" y="2034.1" font-size="37" font-weight="normal" font-style="italic" fill="#111" textLength="117.45" lengthAdjust="spacingAndGlyphs" stroke="#111" stroke-width="0.8">CxCcr1</text>
<text x="319.33" y="2034.1" font-size="39.5" font-weight="normal" font-style="normal" fill="#111" textLength="88.26" lengthAdjust="spacingAndGlyphs" stroke="#111" stroke-width="0.8">-0.04</text>
<text x="488.98" y="2034.1" font-size="39.5" font-weight="normal" font-style="normal" fill="#111" textLength="126.17" lengthAdjust="spacingAndGlyphs" stroke="#111" stroke-width="0.8">97.60%</text>
<text x="700.78" y="2034.1" font-size="39.5" font-weight="normal" font-style="normal" fill="#111" textLength="126.17" lengthAdjust="spacingAndGlyphs" stroke="#111" stroke-width="0.8">96.30%</text>
<text x="917.82" y="2034.1" font-size="38.5" font-weight="bold" font-style="normal" fill="#e0262b" textLength="66.73" lengthAdjust="spacingAndGlyphs" >p=1</text>
<text x="68.27" y="2091" font-size="37" font-weight="normal" font-style="italic" fill="#111" textLength="119.3" lengthAdjust="spacingAndGlyphs" stroke="#111" stroke-width="0.8">P2ry12</text>
<text x="319.32" y="2091" font-size="39.5" font-weight="normal" font-style="normal" fill="#111" textLength="88.86" lengthAdjust="spacingAndGlyphs" stroke="#111" stroke-width="0.8">-0.08</text>
<text x="488.98" y="2091" font-size="39.5" font-weight="normal" font-style="normal" fill="#111" textLength="126.17" lengthAdjust="spacingAndGlyphs" stroke="#111" stroke-width="0.8">95.20%</text>
<text x="700.78" y="2091" font-size="39.5" font-weight="normal" font-style="normal" fill="#111" textLength="126.17" lengthAdjust="spacingAndGlyphs" stroke="#111" stroke-width="0.8">94.10%</text>
<text x="917.82" y="2091" font-size="38.5" font-weight="bold" font-style="normal" fill="#e0262b" textLength="66.73" lengthAdjust="spacingAndGlyphs" >p=1</text>
</svg>
</body></html>
